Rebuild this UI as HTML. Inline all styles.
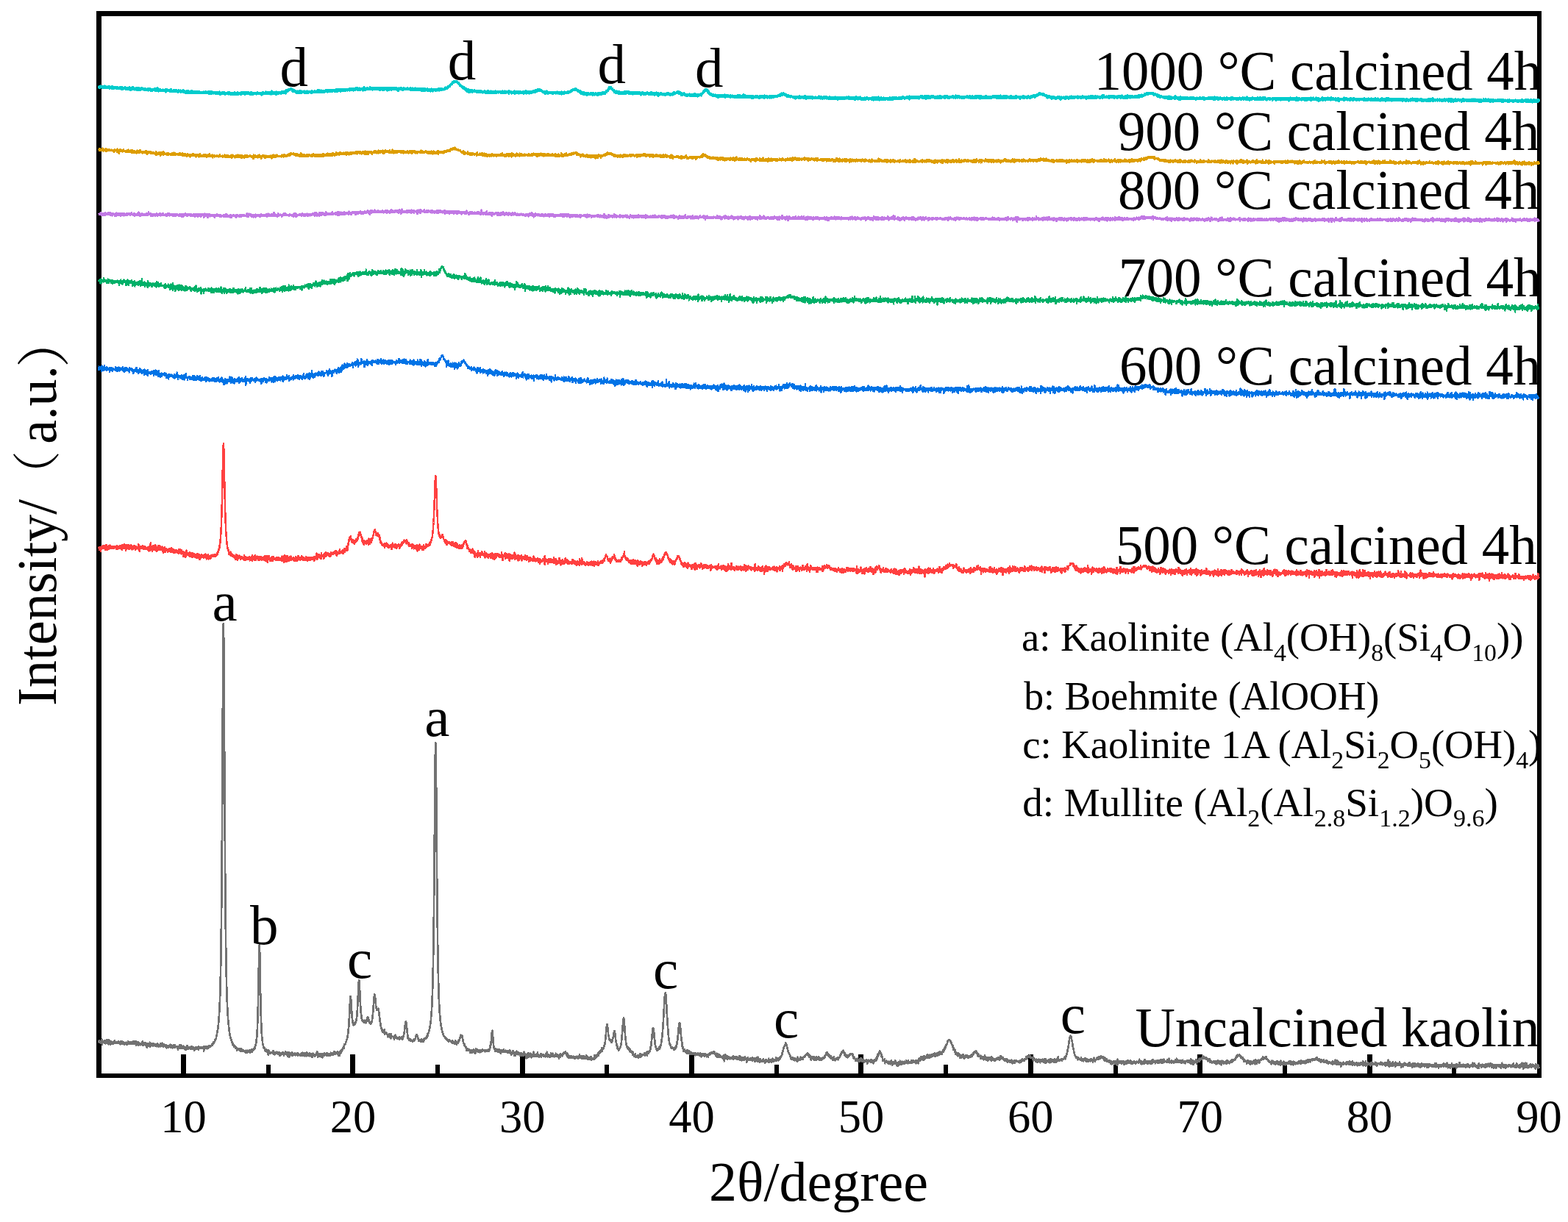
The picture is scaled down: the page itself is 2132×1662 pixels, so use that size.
<!DOCTYPE html>
<html><head><meta charset="utf-8"><title>XRD</title>
<style>
html,body{margin:0;padding:0;background:#fff;}
svg{display:block;}
text{font-family:"Liberation Serif",serif;fill:#000;}
.cjk{font-family:"Liberation Serif","Noto Serif CJK SC",serif;}
</style></head><body>
<svg width="2132" height="1662" viewBox="0 0 2132 1662">
<defs><clipPath id="plot"><rect x="131" y="15" width="1965" height="1451"/></clipPath></defs>
<rect x="0" y="0" width="2132" height="1662" fill="#fff"/>
<!-- frame -->
<g fill="#000" shape-rendering="crispEdges">
<rect x="131" y="15" width="1965" height="7"/>
<rect x="131" y="15" width="7" height="1451"/>
<rect x="2090" y="15" width="6" height="1451"/>
<rect x="131" y="1460" width="1965" height="6"/>
<rect x="246.0" y="1434" width="7" height="26"/>
<rect x="476.4" y="1434" width="7" height="26"/>
<rect x="706.7" y="1434" width="7" height="26"/>
<rect x="937.1" y="1434" width="7" height="26"/>
<rect x="1167.4" y="1434" width="7" height="26"/>
<rect x="1397.8" y="1434" width="7" height="26"/>
<rect x="1628.2" y="1434" width="7" height="26"/>
<rect x="1858.5" y="1434" width="7" height="26"/>
<rect x="361.7" y="1448" width="6" height="12"/>
<rect x="592.0" y="1448" width="6" height="12"/>
<rect x="822.4" y="1448" width="6" height="12"/>
<rect x="1052.8" y="1448" width="6" height="12"/>
<rect x="1283.1" y="1448" width="6" height="12"/>
<rect x="1513.5" y="1448" width="6" height="12"/>
<rect x="1743.8" y="1448" width="6" height="12"/>
<rect x="1974.2" y="1448" width="6" height="12"/>
</g>
<!-- traces -->
<g fill="none" stroke-linejoin="round" stroke-linecap="butt" shape-rendering="crispEdges">
<path transform="translate(134.32 0) scale(0.46072 0.25)" vector-effect="non-scaling-stroke" d="M0 5673l1-13 1 12 1-6 1 2 1-3 1 11 1-12 1 6 1-15 1 28 1-21 1 11 1-9 1 8 1-2 1 5 1-15 1 12 1-10 1 15 1-8 1 5 1-18 1 11 1-1 1 11 1-4 1 8 1-25 1 20 1-13 1 13 1-13 1 19 1-16 1 7 1-6 1 11 1-9 1 4 1-3 1 8 1-8 1 5 1-11 1 9 1-11 1 7 1 3 1 2 1-2 1 4 1-7 1 6 1-5 1 4 1-8 1 9 1-9 1 8 1-4 1 5 1 1 1 5 1-15 1 11 1-12 1 13 1-13 1 15 1-13 1 5 1-2 1 11 1-9 1 10 1-10 1 7 1-6 1 3 1-5 1 13 1-12 1 9 1-8 1 8 1-15 1 13 1-11 1 6 1-4 1 9 1-10 1 9 1-2 1 1 1-7 1 9 1-5 1 3 1-12 1 13 1-7 1 7 1-13 1 11 1-5 1 8 1-1 1 9 1-21 1 17 1-10 1 6 1-6 1 13 1-16 1 10 1-8 1 10 1-4 1 8 1-9 1 2 1-3 1 4 1-4 1 9 1-19 1 15 1-8 1 14 1-8 1 3 1-9 1 8 1-5 1 11 1-12 1 7 1-2 1 18 1-20 1 10 1-10 1 4 1 2 1 8 1-16 1 6 1-11 1 24 1-17 1 11 1-11 1 9 1-7 1 6 1-9 1 15 1-16 1 8 1-2 1 2 1 0 1 5 1-7 1 7 1-4 1 2 1-7 1 14 1-16 1 9 1-3 1 5 1-6 1 11 1-9 1 6 1-5 1 7 1-17 1 12 1-6 1 9 1-16 1 14 1-5 1 10 1-10 1 4 1-6 1 7 1-4 1 8 1-4 1 6 1-8 1 14 1-14 1 7 1-6 1 3 1-1 1 9 1-11 1 7 1-9 1 9 1-13 1 17 1-15 1 11 1-7 1 7 1-5 1 11 1-10 1 3 1-9 1 12 1-8 1 11 1-15 1 13 1-4 1 2 1-3 1 4 1-3 1 11 1-11 1 16 1-17 1 11 1-8 1 4 1-15 1 18 1-14 1 13 1-18 1 18 1-7 1 8 1-10 1 10 1-12 1 11 1-11 1 10 1-4 1 9 1-9 1 15 1-14 1 14 1-17 1 7 1-13 1 16 1-10 1 11 1-6 1 3 1-7 1 6 1-3 1 9 1-11 1 4 1-9 1 16 1-16 1 10 1-4 1 9 1-11 1 12 1-8 1 14 1-12 1 10 1-14 1 9 1-6 1 6 1-11 1 8 1-6 1 10 1-11 1 15 1-19 1 10 1-3 1 2 1-6 1 7 1-1 1 1 1-5 1 6 1-6 1 6 1-4 1 5 1-10 1 23 1-26 1 17 1-11 1 5 1-6 1 3 1-8 1 10 1-6 1 9 1-10 1 3 1-6 1 9 1-14 1 9 1-6 1 3 1 0 1 2 1-6 1 0 1-4 1-1 1-5 1 7 1-10 1 3 1-11 1 7 1-6 1-3 1-8 1 0 1-7 1 0 1-13 1-4 1-12 1-7 1-14 1-11 1-19 1-18 1-27 1-28 1-41 1-48 1-67 1-88 1-121 1-162 1-216 1-273 1-330 1-352 1-291 1-117 1 117 1 292 1 351 1 331 1 274 1 216 1 162 1 122 1 87 1 68 1 49 1 41 1 27 1 26 1 19 1 19 1 12 1 15 1 6 1 16 1 3 1 8 1 2 1 8 1 7 1 3 1 2 1 10 1-2 1 4 1 0 1 9 1-6 1 6 1-1 1 7 1-7 1 8 1-4 1 17 1-12 1 7 1-7 1 7 1-6 1 7 1-5 1 6 1-8 1 13 1-9 1 11 1-16 1 13 1-6 1 6 1-3 1 4 1-4 1 5 1-1 1 3 1-2 1 6 1-5 1 8 1-13 1 7 1-6 1 13 1-15 1 6 1-2 1 6 1-5 1 2 1-8 1 13 1-14 1 12 1-11 1 10 1-14 1 13 1-9 1 0 1-4 1 5 1-6 1 2 1-8 1 4 1-13 1-2 1-9 1-3 1-18 1-11 1-23 1-33 1-51 1-64 1-93 1-105 1-100 1-40 1 40 1 99 1 107 1 93 1 65 1 51 1 31 1 25 1 12 1 16 1 3 1 15 1 0 1 6 1-2 1 12 1-2 1 7 1-10 1 9 1-2 1 8 1-9 1 10 1-8 1 22 1-26 1 12 1-5 1 8 1-5 1 8 1-7 1 5 1-3 1 0 1 1 1 2 1-1 1 5 1-17 1 16 1-7 1 9 1-8 1 11 1-11 1 5 1-2 1 1 1-7 1 9 1-4 1 4 1-7 1 11 1-10 1 8 1-10 1 20 1-14 1 6 1-6 1 7 1-7 1 3 1-7 1 5 1-4 1 9 1-10 1 16 1-14 1 6 1-6 1 8 1-14 1 10 1-1 1 6 1-14 1 12 1-9 1 21 1-21 1 10 1-7 1 22 1-24 1 11 1-7 1 9 1-9 1 7 1-9 1 15 1-18 1 17 1-8 1 2 1-1 1 1 1-6 1 3 1-6 1 14 1-7 1 4 1-7 1 6 1-8 1 11 1-13 1 14 1-9 1 7 1-5 1 4 1-3 1 7 1-7 1 4 1-8 1 12 1-15 1 11 1-13 1 16 1-7 1 2 1 0 1 1 1-11 1 17 1-14 1 8 1-4 1 10 1-20 1 18 1-16 1 12 1-1 1 6 1-8 1 9 1-14 1 14 1-14 1 7 1-2 1 4 1-7 1 16 1-13 1 15 1-20 1 7 1-7 1 12 1-5 1-1 1 4 1 6 1-11 1 4 1-3 1 3 1-13 1 14 1-19 1 28 1-13 1 4 1-7 1 12 1-12 1 11 1-13 1 13 1-11 1 16 1-16 1 8 1-4 1 15 1-19 1 5 1-4 1 5 1-11 1 13 1-10 1 4 1 2 1-1 1 0 1 5 1-14 1 15 1-10 1 5 1-4 1 8 1-9 1 5 1-2 1 8 1-8 1 2 1-11 1 11 1-10 1 5 1-1 1 8 1-10 1 9 1-6 1-1 1-12 1 15 1-8 1 8 1-10 1 6 1-6 1 6 1-6 1 4 1-9 1 16 1-5 1 12 1-13 1 13 1-18 1 9 1-17 1 12 1-4 1 0 1-15 1 7 1-11 1 2 1-7 1-1 1-9 1 11 1-22 1 5 1-5 1-2 1-11 1 2 1-9 1-3 1-9 1-3 1-17 1-7 1-24 1-16 1-34 1-36 1-40 1-31 1-20 1 12 1 24 1 34 1 27 1 26 1 12 1 14 1 2 1 6 1-4 1 1 1-11 1 9 1-11 1 4 1-7 1-5 1-17 1-10 1-28 1-31 1-43 1-41 1-37 1-14 1 13 1 36 1 40 1 41 1 29 1 25 1 7 1 20 1 4 1 6 1 2 1 0 1-2 1 7 1-3 1 7 1-13 1 12 1-4 1 6 1-8 1 0 1-13 1 1 1-12 1-1 1 3 1 7 1 5 1 17 1-3 1 6 1-6 1 8 1-1 1 1 1-8 1-4 1-13 1-11 1-21 1-21 1-28 1-24 1-21 1-8 1 5 1 18 1 18 1 24 1 9 1 11 1-1 1 0 1-6 1 3 1-4 1 8 1 12 1 17 1 13 1 18 1 8 1 20 1 3 1 9 1-3 1 16 1-4 1 12 1-6 1 4 1-3 1 10 1-20 1 25 1-3 1 1 1-7 1 8 1-4 1 7 1 0 1 2 1 0 1 11 1-14 1 5 1-4 1 10 1-14 1 19 1-9 1 15 1-26 1 18 1-6 1 5 1-1 1 2 1-1 1 9 1-11 1 16 1-14 1 7 1-16 1 14 1-8 1 11 1-6 1 3 1 1 1 6 1-6 1 4 1-5 1 8 1-12 1 12 1-7 1 5 1-5 1 5 1-4 1 5 1-12 1 16 1-11 1 2 1-11 1-4 1-11 1-11 1-18 1-15 1-17 1-3 1 2 1 24 1 8 1 24 1 7 1 25 1-4 1 9 1-2 1 8 1-7 1 6 1-3 1 8 1-5 1 4 1-1 1 3 1-3 1 6 1-4 1-1 1-5 1 7 1-11 1 8 1-9 1 2 1-12 1-3 1-8 1 8 1-8 1 9 1 3 1 8 1-3 1 17 1-4 1 2 1-5 1 3 1-3 1 10 1-7 1 2 1-8 1 14 1-12 1 12 1-10 1 8 1-12 1 8 1-13 1 5 1-3 1 0 1-4 1 0 1-7 1 7 1-15 1 6 1-14 1 1 1-7 1-3 1-11 1-4 1-12 1-8 1-15 1-12 1-27 1-18 1-32 1-36 1-54 1-67 1-92 1-119 1-156 1-193 1-225 1-232 1-188 1-74 1 74 1 188 1 232 1 225 1 193 1 155 1 119 1 92 1 66 1 56 1 37 1 32 1 20 1 21 1 14 1 16 1 7 1 13 1 5 1 10 1 1 1 11 1-2 1 10 1 1 1 3 1 0 1 7 1-4 1 9 1-5 1 8 1-1 1 3 1 1 1 4 1-4 1 11 1-9 1 5 1-5 1 5 1 0 1 2 1-1 1 2 1-3 1 9 1-11 1 9 1-5 1 9 1-5 1 3 1-2 1 7 1-5 1 6 1-17 1 15 1-10 1 16 1-8 1 1 1-6 1 4 1-12 1 8 1-11 1 0 1-11 1-1 1-7 1-3 1-6 1 2 1-1 1 10 1-6 1 18 1 4 1 13 1 3 1 9 1-4 1 13 1-1 1 5 1-2 1 9 1-2 1 15 1-11 1 5 1-6 1 9 1 0 1 1 1-4 1 3 1-2 1 15 1-8 1 1 1 1 1 8 1-15 1 9 1-2 1 5 1-13 1 8 1-10 1 14 1-4 1 12 1-15 1 11 1-22 1 13 1-7 1 5 1-9 1 11 1-3 1 7 1-11 1 6 1-3 1 10 1-13 1 11 1-9 1 8 1-10 1 6 1-7 1 8 1-8 1 6 1-5 1 4 1-3 1 6 1-5 1 8 1-5 1 2 1-7 1 7 1-5 1 6 1-8 1 8 1-9 1 6 1-8 1 9 1-7 1-3 1-20 1 10 1-17 1-16 1-25 1-22 1-11 1 14 1 19 1 23 1 19 1 20 1-5 1 11 1-1 1 11 1-13 1 10 1-1 1 5 1-10 1 11 1-6 1 9 1-12 1 7 1-3 1 7 1-12 1 16 1-14 1 18 1-16 1 8 1-7 1 7 1-9 1 9 1-5 1 6 1-13 1 12 1-7 1 9 1-6 1 5 1-8 1 8 1-7 1 6 1-1 1 5 1-10 1 9 1-3 1 5 1-8 1 8 1-13 1 14 1-9 1 13 1-8 1 14 1-10 1 1 1-10 1 11 1-12 1 10 1-4 1 20 1-20 1 6 1 0 1 12 1-13 1 1 1-11 1 16 1-9 1 8 1-3 1 6 1-13 1 10 1-5 1 8 1-5 1 12 1-15 1 12 1-12 1 13 1-8 1 10 1-8 1 3 1-1 1 5 1-21 1 18 1-8 1 7 1-4 1 6 1-1 1 17 1-22 1 19 1-16 1 3 1-13 1 22 1-14 1 14 1-19 1 15 1-6 1 0 1-9 1 22 1-13 1 11 1-15 1 13 1-12 1 6 1-20 1 24 1-14 1 14 1-8 1 7 1-6 1 2 1-4 1 8 1-7 1 6 1-20 1 21 1-8 1 5 1-4 1 11 1-9 1 5 1-5 1 1 1-9 1 17 1-16 1 10 1-3 1 2 1-7 1 10 1-9 1 10 1-6 1 4 1-3 1 8 1-17 1 14 1-11 1 10 1-23 1 26 1-4 1-2 1-7 1 7 1-4 1 14 1-12 1 12 1-11 1 7 1-19 1 15 1-13 1 13 1-14 1 17 1-11 1 8 1-5 1 10 1-8 1 1 1 1 1 2 1-15 1 17 1-10 1 10 1-11 1 11 1-7 1 10 1-7 1 14 1-17 1 5 1-8 1 13 1-18 1 8 1-1 1 1 1-5 1 9 1-13 1 5 1-7 1 3 1-6 1 3 1-6 1 5 1-7 1 11 1-3 1 6 1-2 1 12 1-16 1 12 1 1 1 13 1-13 1 12 1-10 1 10 1-7 1 4 1-7 1 8 1-8 1 8 1-4 1 5 1-5 1 4 1-6 1 10 1-8 1 2 1-3 1 11 1-10 1 3 1-1 1 3 1-7 1 7 1-4 1 9 1-10 1 7 1-11 1 9 1-17 1 17 1-4 1 6 1-10 1 10 1-11 1 14 1-15 1 12 1-8 1 13 1-16 1 16 1-11 1 11 1-12 1 9 1 0 1-2 1-16 1 17 1-11 1 13 1-9 1 14 1-11 1 6 1-7 1 9 1-6 1 6 1-11 1 14 1-14 1 17 1-5 1-5 1 0 1 7 1-6 1 3 1-4 1 7 1-24 1 18 1-12 1 9 1-7 1 2 1-7 1-2 1-5 1 9 1-10 1 8 1-18 1 9 1-14 1 10 1-8 1 2 1-10 1 8 1-10 1 6 1-17 1 18 1-12 1 1 1-7 1 1 1-8 1-4 1-12 1 0 1-19 1-16 1-22 1-21 1-20 1-7 1 2 1 18 1 16 1 23 1 4 1 15 1 4 1 3 1 1 1 3 1-4 1 11 1-12 1 15 1-17 1 8 1-14 1 0 1-21 1-4 1-16 1 0 1 6 1 16 1 15 1 18 1 7 1 11 1 9 1 13 1-9 1 9 1 0 1 13 1-12 1 4 1-6 1 0 1-6 1 1 1-14 1-7 1-18 1-16 1-29 1-22 1-25 1-19 1-9 1 10 1 16 1 29 1 23 1 24 1 16 1 18 1 10 1 10 1-4 1 12 1 1 1 3 1-7 1 13 1-10 1 8 1-3 1 16 1-6 1 4 1-1 1 5 1-6 1 11 1-3 1 13 1-17 1 17 1-5 1 11 1-6 1 5 1-11 1 19 1-11 1 5 1-2 1 5 1-5 1 2 1-5 1 11 1-11 1 11 1-14 1 6 1-12 1 14 1-10 1 13 1-15 1 5 1-2 1 3 1-5 1 3 1-2 1 1 1-1 1 2 1-11 1 17 1-14 1 3 1-7 1 11 1-8 1 12 1-21 1 12 1-10 1 8 1-7 1-1 1-5 1 2 1-7 1-5 1-16 1 0 1-23 1-16 1-22 1-19 1-17 1-3 1 2 1 16 1 18 1 21 1 15 1 20 1 6 1 7 1 5 1 8 1-4 1 9 1-7 1 5 1-9 1 5 1-4 1 3 1-13 1 8 1-10 1-1 1-8 1-10 1-14 1-9 1-22 1-16 1-28 1-26 1-37 1-32 1-34 1-29 1-20 1-6 1 6 1 20 1 27 1 34 1 33 1 33 1 26 1 27 1 20 1 21 1 11 1 14 1 5 1 10 1-3 1 8 1 2 1 9 1-8 1 8 1-4 1 4 1-4 1 3 1-3 1 12 1-12 1 5 1-6 1 6 1-14 1 5 1-8 1-5 1-16 1-9 1-23 1-10 1-26 1-17 1-15 1-3 1 3 1 17 1 16 1 26 1 18 1 19 1 8 1 21 1 2 1 11 1-3 1 17 1-8 1 7 1-10 1 12 1-1 1 5 1-6 1 11 1-4 1 0 1-12 1 19 1-15 1 13 1-7 1 7 1-12 1 18 1-12 1 9 1-9 1 12 1-9 1 7 1-6 1 3 1 1 1 3 1-6 1 6 1-3 1 2 1 0 1 7 1-13 1 8 1-4 1 6 1-1 1 1 1-6 1 8 1-10 1 7 1-5 1 10 1-6 1 4 1-11 1 14 1-9 1 15 1-13 1 3 1-5 1 10 1-11 1 8 1-6 1 10 1-11 1 13 1-15 1 8 1-5 1 6 1-4 1 12 1-13 1 4 1-3 1 13 1-15 1 4 1-2 1 2 1-9 1 7 1-5 1 3 1-8 1 3 1-5 1 4 1-5 1 8 1-11 1 6 1 1 1 3 1-9 1 15 1-8 1 12 1-3 1 6 1-13 1 19 1-19 1 19 1-16 1 18 1-7 1 1 1-8 1 12 1-10 1 10 1-5 1 6 1-4 1 3 1-2 1 5 1-7 1 14 1-11 1 11 1-18 1 31 1-29 1 11 1-18 1 20 1-17 1 20 1-17 1 11 1-8 1 16 1-12 1 4 1-3 1 6 1-6 1 10 1-6 1-2 1 2 1 1 1-3 1 6 1-7 1 4 1-8 1 14 1-18 1 15 1-9 1 3 1 3 1 1 1-9 1 8 1-3 1 8 1-13 1 12 1-3 1 7 1-9 1 8 1-13 1 14 1-19 1 23 1-11 1 6 1-14 1 14 1-6 1 12 1-13 1 10 1-14 1 11 1-11 1 15 1-16 1 10 1-11 1 12 1-5 1 6 1 0 1 15 1-17 1 4 1-11 1 9 1 2 1 2 1-5 1 4 1-7 1 8 1-9 1 7 1 0 1 2 1-11 1 13 1-15 1 16 1-12 1 7 1-3 1 5 1-10 1 17 1-14 1 15 1-5 1-2 1-13 1 18 1-11 1 14 1-25 1 26 1-10 1 6 1-12 1 17 1-17 1 11 1-9 1 13 1-8 1 6 1-4 1 3 1-9 1 12 1-16 1 15 1-3 1 0 1-1 1 13 1-18 1 14 1-8 1 5 1-11 1 9 1-7 1 3 1 0 1 5 1-17 1 21 1-14 1 11 1-9 1 5 1-7 1 5 1 0 1 7 1-9 1 4 1-14 1 13 1-5 1 10 1-11 1 3 1-2 1 2 1-5 1 6 1-16 1 17 1-10 1 8 1-12 1 8 1-2 1 6 1-12 1 7 1-6 1 3 1-11 1 3 1-6 1-1 1-4 1-2 1-13 1 0 1-12 1 0 1-14 1-1 1-8 1-2 1-7 1-2 1-7 1 8 1-2 1 8 1 4 1 12 1 1 1 13 1-1 1 12 1-2 1 10 1 0 1 10 1-2 1 14 1-9 1 13 1-7 1 3 1-5 1 8 1-7 1 13 1-11 1 3 1-2 1 11 1-10 1 7 1-3 1 2 1-5 1 11 1-15 1 18 1-23 1 13 1-3 1 6 1-6 1 3 1-4 1 7 1-16 1 13 1-4 1 3 1-10 1 10 1-7 1 8 1-10 1 0 1-3 1 1 1-7 1 2 1-6 1 2 1-7 1 1 1-5 1 8 1-11 1 7 1 3 1 1 1-5 1 17 1-5 1 5 1-9 1 14 1-10 1 19 1-13 1 6 1-1 1 1 1-9 1 12 1-2 1 5 1-15 1 18 1-17 1 14 1-12 1 13 1-17 1 18 1-9 1 7 1-8 1 5 1-11 1 11 1-13 1 17 1-12 1 10 1-5 1 8 1-10 1 11 1-11 1 9 1-8 1 4 1-8 1 1 1-1 1 3 1-7 1 6 1-13 1 2 1-4 1-2 1-10 1 9 1-14 1 13 1-7 1 13 1-7 1 9 1-6 1 8 1-5 1 9 1-2 1 6 1-10 1 14 1-5 1 7 1-4 1 10 1-8 1 4 1-14 1 17 1-8 1 9 1-5 1 7 1-10 1-1 1 3 1-1 1-5 1 4 1-6 1 12 1-8 1-1 1-3 1 0 1-7 1 0 1-10 1 1 1-6 1-2 1-5 1 0 1-5 1 2 1-6 1 11 1-1 1 9 1-7 1 16 1-9 1 10 1-3 1 8 1-7 1 10 1-5 1 6 1-13 1 10 1-5 1 0 1-6 1 1 1-7 1 4 1-4 1 1 1-2 1 4 1-3 1 8 1-4 1 12 1-2 1 13 1-8 1 4 1 2 1 5 1-3 1 12 1-11 1 8 1-3 1 1 1-8 1 14 1-9 1 9 1-8 1 7 1-3 1 5 1-14 1 11 1-15 1 17 1-15 1 15 1-4 1 6 1-10 1 8 1-7 1 13 1-12 1 11 1-6 1 0 1-2 1 5 1-10 1 11 1-7 1 17 1-17 1 8 1-10 1 10 1-8 1 5 1-5 1 2 1-4 1 11 1-7 1 1 1-7 1 14 1-8 1 4 1-6 1 16 1-14 1 3 1-8 1 8 1-7 1 3 1-2 1 2 1-16 1 11 1-17 1 9 1-21 1 13 1-17 1-1 1-8 1-1 1-4 1 3 1 3 1 9 1-3 1 18 1 0 1 5 1-2 1 21 1-7 1 5 1-1 1 4 1-12 1 24 1-11 1 1 1 0 1 2 1-7 1 8 1 1 1 3 1-6 1 11 1-12 1 5 1-3 1 7 1-9 1 14 1-14 1 9 1-14 1 13 1-5 1 17 1-14 1 6 1-10 1 8 1-8 1 12 1-9 1 3 1-13 1 19 1-9 1 5 1-3 1 16 1-13 1 5 1-10 1 17 1-21 1 14 1-14 1 9 1-14 1 21 1-13 1 5 1-8 1 14 1-15 1 9 1-5 1 3 1-1 1 4 1-10 1 11 1-5 1 2 1-7 1 8 1-15 1 11 1-1 1 2 1-10 1 14 1-18 1 14 1-5 1 8 1-5 1 1 1-4 1 4 1 1 1 3 1-16 1 17 1-12 1 7 1-11 1 9 1-7 1 9 1-3 1 3 1-5 1 3 1-10 1 17 1-10 1 0 1-4 1 1 1-2 1 15 1-15 1 4 1-17 1 12 1-6 1 9 1-15 1 10 1-18 1 15 1-7 1 6 1-13 1 17 1-7 1 6 1-21 1 20 1-19 1 8 1-1 1 4 1-8 1 3 1-5 1 3 1-13 1 18 1-5 1 5 1-15 1 15 1-16 1 17 1-12 1 1 1-3 1 9 1-14 1 12 1-13 1 12 1-13 1 5 1-5 1 6 1-8 1 6 1-9 1 16 1-13 1 13 1-13 1 3 1-5 1 13 1-13 1 8 1-5 1 7 1-15 1 12 1-5 1 1 1-14 1 11 1-7 1 11 1-12 1 12 1-15 1 6 1-11 1 8 1-9 1 3 1-12 1 5 1-13 1 4 1-10 1 0 1-6 1-3 1-4 1-2 1-10 1 0 1-4 1-1 1-4 1 3 1-3 1 6 1-2 1 9 1-2 1 9 1 2 1 5 1 3 1 9 1-6 1 20 1-8 1 7 1 4 1 5 1-7 1 23 1-11 1 6 1-1 1 9 1-5 1 6 1-8 1 15 1-15 1 13 1-11 1 13 1-5 1 15 1-15 1 6 1-4 1 12 1-9 1 1 1-6 1 9 1-13 1 19 1-11 1 16 1-16 1 10 1-10 1 6 1-10 1 10 1-10 1 11 1-8 1 8 1-4 1 8 1-8 1 7 1-7 1 2 1-4 1 7 1-12 1 9 1-8 1 4 1-8 1 9 1-12 1 3 1-10 1 8 1-9 1 2 1-6 1 6 1-6 1 1 1-5 1 8 1 0 1 7 1-5 1 16 1-12 1 15 1-9 1 8 1-1 1 4 1 0 1 10 1-16 1 11 1-5 1 8 1-3 1 5 1-4 1 8 1-15 1 17 1-9 1 8 1-23 1 20 1-6 1 10 1-14 1 15 1-8 1 9 1-10 1 13 1-18 1 17 1-15 1 8 1-5 1 4 1-3 1 9 1-16 1 21 1-21 1 17 1-10 1 5 1-5 1 8 1-6 1 10 1-9 1 2 1-3 1 11 1-9 1 5 1-10 1 5 1-5 1 6 1-8 1 6 1-3 1 3 1-7 1 12 1-14 1 2 1-9 1 16 1-15 1 10 1-2 1 6 1-4 1 5 1-8 1 8 1-2 1 7 1-3 1 8 1-8 1 7 1-7 1 8 1-10 1 14 1-13 1 17 1-7 1 2 1-4 1 0 1 0 1 8 1-8 1 7 1-9 1 10 1-10 1 6 1-7 1 18 1-11 1 10 1-11 1 2 1-5 1 12 1-8 1 7 1-10 1 6 1-7 1 6 1-6 1 5 1-3 1 4 1-3 1 5 1-6 1 8 1-9 1 11 1-11 1 4 1-4 1 8 1-9 1 1 1-11 1 11 1-3 1 3 1-6 1 3 1-3 1 7 1-12 1 4 1-5 1 3 1-14 1 9 1-3 1 5 1-13 1 4 1-3 1 2 1-5 1 7 1-9 1 10 1-9 1 12 1-4 1 1 1 2 1 3 1-2 1 4 1-4 1 18 1-18 1 11 1-6 1 6 1-5 1 7 1-1 1 9 1-13 1 15 1-10 1 12 1-14 1 6 1-6 1 6 1-9 1 12 1-4 1 10 1-17 1 9 1-5 1 8 1-6 1 5 1-12 1 13 1-2 1 6 1-14 1 7 1-11 1 19 1-15 1 7 1-12 1 21 1-7 1-1 1-4 1 5 1-6 1 3 1-7 1 14 1-6 1 8 1-13 1 6 1-14 1 21 1-17 1 9 1-3 1 4 1-7 1 7 1-8 1 12 1-8 1 7 1-16 1 14 1-4 1 7 1-12 1 13 1-14 1 10 1-17 1 13 1-22 1 22 1-4 1 4 1-3 1 1 1-5 1 5 1-4 1 1 1-4 1 8 1-10 1 5 1-3 1 1 1-3 1 2 1-5 1 2 1-10 1 12 1-15 1 3 1-8 1 0 1-9 1-6 1-13 1-3 1-16 1-7 1-14 1-11 1-13 1-6 1-8 1 0 1 2 1 8 1 7 1 11 1 8 1 15 1 8 1 13 1 2 1 17 1 2 1 9 1 5 1 4 1 2 1 8 1-1 1 1 1-5 1 7 1-5 1 12 1-12 1 7 1-3 1 5 1-1 1 2 1-2 1 7 1-15 1 14 1-8 1 11 1-10 1 5 1-3 1 11 1-10 1 1 1-3 1 5 1-10 1 10 1-7 1 16 1-8 1 9 1-15 1 4 1-1 1 11 1-9 1 5 1-4 1 1 1-2 1 7 1-10 1 9 1-9 1 8 1-8 1 4 1-1 1 14 1-14 1 5 1-16 1 12 1-1 1 8 1-10 1 5 1-5 1 0 1-9 1 7 1-7 1 8 1-8 1 9 1-15 1 9 1-10 1 5 1-3 1 10 1-15 1 11 1-6 1 6 1-4 1 2 1-1 1 4 1-7 1 15 1-10 1 6 1-7 1 18 1-12 1 8 1-7 1 10 1-11 1 14 1-5 1 3 1-3 1 5 1-1 1 5 1-10 1 8 1-5 1 15 1-14 1 5 1-2 1 14 1-13 1 10 1-9 1 3 1-6 1 8 1-7 1 8 1-6 1 11 1-14 1 15 1-10 1-1 1-5 1 21 1-31 1 25 1-8 1 1 1-2 1 2 1-7 1 6 1-8 1 6 1-5 1 15 1-11 1 8 1-11 1 9 1-9 1 5 1-4 1 16 1-15 1 11 1-11 1 7 1-11 1 15 1-7 1 7 1-14 1 12 1-17 1 17 1-8 1 5 1-4 1 4 1-8 1 8 1-14 1 18 1-9 1-1 1 1 1 6 1-4 1 8 1-10 1 7 1-10 1 6 1 0 1 0 1-2 1 9 1-11 1 8 1-9 1 6 1-3 1 2 1-3 1 5 1-8 1 6 1-17 1 15 1-3 1 7 1-5 1 10 1-13 1 15 1-13 1 2 1-2 1 11 1-12 1 6 1-8 1 13 1-22 1 14 1-7 1 11 1-10 1 7 1-7 1 14 1-9 1 10 1-14 1 9 1-6 1 7 1-11 1 9 1-3 1 8 1-11 1 11 1-17 1 17 1-19 1 15 1-16 1 12 1-5 1 6 1-7 1 5 1-6 1 14 1-10 1 2 1-2 1 3 1-9 1 11 1-3 1 7 1-17 1 14 1-10 1 10 1-9 1 8 1-14 1 15 1-17 1 10 1-1 1 9 1-18 1 21 1-13 1 7 1-16 1 16 1-4 1 1 1-4 1 3 1-2 1 3 1-3 1 6 1-15 1 12 1-5 1 6 1-5 1 8 1-21 1 22 1-8 1 4 1-2 1 4 1-7 1 13 1-16 1 7 1-3 1 2 1-3 1 11 1-11 1 8 1-5 1-2 1-7 1 10 1-7 1 11 1-21 1 15 1-7 1 8 1-8 1 12 1-7 1 7 1-9 1 5 1-4 1 6 1-6 1 11 1-12 1 14 1-15 1 9 1-11 1 12 1-7 1 8 1-8 1 12 1-10 1 11 1-13 1 6 1-2 1 0 1 0 1-1 1-7 1 12 1-7 1 5 1-3 1 4 1-9 1 14 1-16 1 19 1-27 1 18 1 0 1 2 1-6 1 13 1-19 1 23 1-14 1 5 1-10 1 9 1-6 1 4 1-4 1 3 1-13 1 23 1-16 1 8 1-8 1 3 1-6 1 0 1-10 1 15 1-9 1 4 1-5 1 0 1-8 1 8 1-5 1 0 1-8 1 7 1-8 1 9 1-12 1 6 1-2 1 7 1-6 1 6 1-4 1 10 1-9 1 5 1-2 1 7 1-3 1 11 1-13 1 11 1-8 1 10 1-11 1 17 1-11 1 7 1-3 1 8 1-5 1 7 1-6 1 4 1-5 1 3 1-3 1 6 1-7 1 9 1-7 1 10 1-14 1 17 1-12 1 11 1-16 1 13 1-15 1 13 1-4 1 4 1-10 1 13 1-14 1 12 1-11 1 20 1-17 1 8 1-13 1 10 1-7 1 10 1-10 1 12 1-8 1 5 1-7 1 8 1-8 1 7 1-11 1 15 1-19 1 12 1-2 1 4 1-11 1 11 1-5 1 8 1-8 1 7 1-7 1 3 1-10 1 11 1-8 1 0 1-9 1 13 1-10 1 4 1-5 1 1 1-4 1 5 1-9 1 4 1-12 1 4 1-8 1 4 1-4 1 2 1-10 1 6 1-4 1 2 1-5 1 4 1-4 1 9 1-2 1 8 1-7 1 6 1-3 1 8 1-4 1 9 1-7 1 12 1-6 1 14 1-11 1 7 1-4 1 6 1-2 1 5 1 0 1 10 1-17 1 14 1-13 1 11 1-10 1 11 1-2 1 1 1-8 1 18 1-13 1 9 1-13 1 13 1-9 1 10 1-9 1 4 1-4 1 5 1-16 1 15 1-2 1 8 1-23 1 16 1-9 1 6 1-3 1 13 1-20 1 9 1-5 1 1 1-7 1 15 1-9 1 8 1-11 1-2 1-5 1 4 1-8 1 6 1-4 1 2 1-13 1 9 1-6 1 8 1-6 1 5 1-6 1 5 1-2 1 0 1-8 1 14 1 0 1 0 1-2 1 7 1 1 1 4 1-5 1 8 1-4 1 8 1-4 1 4 1-4 1 13 1-18 1 9 1-2 1 5 1-12 1 13 1-4 1 6 1-5 1 1 1-6 1 17 1-17 1 10 1-6 1 7 1-15 1 14 1-12 1 12 1-7 1 12 1-9 1 8 1-12 1 9 1-3 1 12 1-25 1 13 1-2 1 7 1-7 1 3 1-1 1 7 1-16 1 12 1-4 1 4 1-5 1 11 1-7 1 4 1-9 1 8 1-8 1 6 1-4 1 2 1-6 1 8 1-15 1 15 1-10 1 9 1-13 1 17 1-12 1 9 1-10 1 15 1-9 1 8 1-16 1 18 1-15 1 9 1-9 1 8 1-4 1 8 1-10 1 8 1-5 1 3 1-1 1-1 1-6 1 8 1-11 1 9 1-10 1 10 1-10 1 13 1-16 1 13 1-13 1 14 1-4 1-2 1-3 1 8 1-12 1 4 1-4 1 7 1-7 1 13 1-13 1 10 1-13 1 13 1-13 1 5 1-5 1 8 1-13 1 15 1-13 1 10 1-7 1 3 1-6 1 11 1-10 1 2 1-2 1 0 1-7 1 9 1-6 1 5 1-3 1 2 1-7 1 7 1-4 1 2 1-7 1 6 1-1 1 2 1-13 1 17 1-9 1 6 1-3 1 8 1-10 1 7 1-7 1 15 1-10 1 12 1-12 1 10 1-11 1 9 1-6 1 7 1-6 1 5 1-8 1 13 1-8 1 9 1-7 1 1 1-3 1 8 1-6 1 8 1-11 1 12 1-8 1 12 1-10 1 4 1 2 1-2 1-3 1 5 1 0 1 3 1-5 1 4 1-4 1 6 1-14 1 18 1-10 1 6 1-10 1 9 1-5 1 4 1-17 1 16 1-5 1 12 1-13 1 15 1-23 1 23 1-13 1 13 1-8 1 3 1-8 1 11 1-4 1 7 1-13 1 23 1-20 1 9 1-8 1 3 1-3 1 7 1-12 1 14 1-9 1 3 1-1 1 0 1-3 1 8 1-9 1 9 1-13 1 11 1-12 1 10 1-6 1 7 1-5 1 9 1-18 1 15 1-7 1 9 1-7 1 3 1-10 1 16 1-19 1 21 1-14 1 4 1 1 1 4 1-8 1 12 1-8 1 2 1-2 1 6 1-10 1 8 1-8 1 15 1-9 1 4 1-6 1 1 1-4 1 12 1-7 1 6 1-12 1 5 1-2 1 6 1-9 1 5 1-4 1 8 1-17 1 23 1-17 1 11 1-9 1 8 1-6 1 11 1-21 1 25 1-12 1 0 1-1 1 7 1-10 1 6 1-6 1 6 1-5 1 5 1-4 1 8 1-7 1 11 1-17 1 12 1-13 1 10 1-2 1 2 1-3 1 5 1-4 1 3 1-5 1 7 1-13 1 14 1-8 1 6 1-8 1 15 1-13 1 6 1-7 1 4 1-3 1 2 1-3 1 5 1-6 1 8 1-12 1 11 1-4 1 4 1-7 1 10 1-7 1 6 1-6 1 2 1-2 1 7 1-11 1 7 1-7 1 18 1-19 1 8 1-6 1 11 1-6 1 1 1-22 1 28 1-12 1 20 1-20 1 4 1-9 1 22 1-13 1 12 1-12 1 9 1-13 1 17 1-23 1 20 1-11 1 10 1-11 1 11 1-14 1 21 1-24 1 21 1-12 1 4 1-5 1 7 1-7 1 4 1-2 1 6 1-11 1 8 1-15 1 18 1-8 1 8 1-8 1 20 1-19 1 9 1-6 1 5 1-6 1 12 1-13 1 4 1-10 1 13 1-2 1 1 1-9 1 8 1-3 1 0 1-2 1 6 1-8 1 13 1-13 1 8 1-15 1 20 1-19 1 13 1-6 1 9 1-8 1 5 1-4 1 18 1-21 1 13 1-6 1 9 1-17 1 11 1-9 1 14 1-17 1 12 1-6 1 4 1-6 1 12 1-10 1 8 1-13 1 15 1-7 1 7 1-10 1 4 1-4 1 15 1-17 1 12 1-8 1 10 1-17 1 11 1-9 1 12 1-10 1 7 1-4 1 10 1-13 1 9 1-11 1 10 1-1 1-1 1-5 1 15 1-16 1 14 1-12 1 16 1-15 1 4 1-9 1 12 1-10 1 9 1-4 1 1 1-2 1 8 1-9 1 10 1-9 1 5 1-7 1 10 1-8 1 10 1-18 1 12 1-5 1 12 1-20 1 13 1-7 1 9 1-7 1 8 1-4 1 14 1-14 1 8 1-13 1 11 1-8 1 9 1-12 1 8 1-6 1 8 1-9 1 3 1-3 1 5 1-14 1 18 1-7 1 4 1-9 1 6 1-6 1 14 1-9 1 5 1-17 1 19 1-5 1 12 1-16 1 5 1-2 1 8 1-11 1 17 1-17 1 8 1-10 1 11 1-17 1 19 1-7 1 8 1-10 1 4 1-7 1 12 1-9 1 3 1-3 1 7 1-11 1 19 1-13 1 10 1-17 1 9 1-4 1 3 1 0 1 6 1-23 1 18 1-18 1 22 1-6 1 1 1-4 1 7 1-5 1 4 1-7 1 9 1-11 1 11 1-7 1 5 1-6 1 9 1-11 1 13 1-13 1 13 1-8 1 3 1-10 1 10 1-9 1 12 1-12 1 9 1-4 1 11 1-11 1 6 1-9 1 6 1-1 1 3 1-6 1 4 1-17 1 21 1-14 1 9 1-14 1 15 1-9 1 14 1-9 1 4 1-3 1 10 1-10 1 14 1-13 1 9 1-7 1 13 1-28 1 18 1-4 1 1 1-7 1 5 1 0 1 11 1-16 1 7 1-8 1 10 1-8 1 9 1-9 1 9 1-8 1 5 1-8 1 16 1-17 1 16 1-13 1 7 1-9 1 12 1-14 1 8 1-10 1 13 1-7 1 12 1-10 1 6 1-17 1 17 1-10 1 15 1-9 1 4 1-11 1 18 1-14 1 16 1-16 1 0 1 3 1 10 1-13 1 9 1-8 1 15 1-16 1 5 1-6 1 6 1-3 1 5 1-5 1 4 1-7 1 9 1-10 1 13 1-11 1 16 1-12 1 5 1-20 1 17 1-9 1 14 1-11 1 14 1-12 1 3 1-5 1 8 1-8 1 17 1-16 1 10 1-10 1 10 1-9 1 3 1-4 1 8 1-9 1 5 1-6 1 7 1-7 1 9 1-2 1 6 1-10 1 2 1-3 1 7 1-3 1 1 1-15 1 19 1-6 1 4 1-5 1 9 1-12 1 11 1-14 1 16 1-21 1 11 1-1 1 8 1-8 1 9 1-10 1 10 1-13 1 17 1-14 1 5 1-12 1 15 1-6 1 1 1-15 1 20 1-7 1 20 1-30 1 14 1-5 1 5 1-6 1 12 1-23 1 20 1-19 1 23 1-6 1 1 1-3 1 10 1-12 1 11 1-6 1 0 1-4 1 3 1-11 1 10 1-7 1 14 1-9 1-2 1-5 1 10 1-9 1 11 1-5 1 0 1-1 1 3 1-4 1 18 1-24 1 7 1-2 1 11 1-11 1 13 1-16 1 3 1 2 1 17" stroke="#727272" stroke-width="2.7"/>
<path transform="translate(134.32 0) scale(0.46072 0.25)" vector-effect="non-scaling-stroke" d="M0 2985l1-8 1 14 1-11 1 3 1-4 1 21 1-26 1 15 1-9 1 4 1-13 1 12 1-7 1 5 1-11 1 14 1-14 1 9 1 0 1 13 1-27 1 16 1-15 1 21 1-9 1 13 1-15 1 8 1-15 1 19 1-10 1 7 1-18 1 13 1-10 1 15 1-10 1 8 1-12 1 9 1-7 1 10 1-10 1 9 1-7 1 7 1-11 1 7 1-2 1 0 1-2 1 12 1-18 1 15 1-13 1 19 1-17 1 10 1-7 1 5 1-9 1 14 1-16 1 13 1-15 1 11 1 2 1 12 1-27 1 16 1-10 1 13 1-21 1 22 1-25 1 18 1 0 1 2 1-16 1 30 1-20 1 7 1-10 1 14 1-21 1 21 1-10 1 11 1-22 1 16 1-5 1 11 1-17 1 12 1-17 1 13 1-9 1 22 1-16 1 4 1-7 1 17 1-21 1 11 1-9 1 14 1-10 1 17 1-18 1 17 1-15 1 5 1 1 1 2 1-5 1 2 1-19 1 29 1-19 1 29 1-25 1 8 1-6 1 6 1-10 1 8 1-1 1 5 1-17 1 13 1-5 1 13 1-14 1 11 1-11 1 13 1-12 1 8 1-3 1 8 1-9 1 6 1-3 1 9 1-16 1 9 1-9 1 23 1-26 1 13 1-11 1 22 1-44 1 36 1-7 1 4 1-10 1 24 1-15 1 0 1-16 1 22 1-13 1 16 1-19 1 19 1-27 1 26 1-10 1 17 1-22 1 16 1-7 1 8 1-24 1 17 1-2 1 3 1-18 1 20 1-18 1 15 1-5 1 10 1-8 1 3 1-13 1 16 1-4 1 23 1-29 1 13 1-11 1 17 1-21 1 27 1-19 1 5 1-6 1 11 1-6 1 2 1-5 1 18 1-18 1 9 1-9 1 10 1-5 1 7 1-15 1 18 1-12 1 8 1-17 1 23 1-11 1 9 1-11 1 8 1-9 1 18 1-14 1 14 1-15 1 8 1-1 1 5 1-11 1 8 1-7 1 14 1-14 1 11 1-10 1 16 1-23 1 19 1-13 1 12 1-17 1 16 1-13 1 21 1-22 1 21 1-13 1 14 1-12 1 27 1-25 1 12 1-11 1 13 1-9 1 22 1-29 1 12 1-20 1 19 1-4 1 11 1-11 1 6 1-4 1 14 1-11 1 14 1-23 1 15 1-6 1 11 1-17 1 15 1-8 1 17 1-22 1 20 1-19 1 13 1-12 1 4 1 0 1 17 1-13 1 0 1-3 1 18 1-21 1 11 1-7 1 18 1-22 1 20 1-18 1 20 1-21 1 30 1-23 1 10 1-10 1 12 1-19 1 10 1-5 1 12 1-4 1 2 1-7 1 12 1-16 1 10 1-7 1 10 1-17 1 19 1-17 1 25 1-19 1 16 1-9 1 4 1-16 1 23 1-9 1 2 1-11 1 7 1-6 1 15 1-17 1 9 1-6 1 2 1-9 1 9 1-5 1 7 1-10 1 7 1-6 1 9 1-13 1 6 1-6 1 10 1-10 1 3 1-9 1 8 1-16 1 3 1-9 1-3 1-12 1 0 1-18 1-6 1-23 1-20 1-36 1-41 1-59 1-73 1-91 1-92 1-79 1-31 1 31 1 79 1 94 1 90 1 71 1 59 1 42 1 35 1 18 1 26 1 9 1 17 1-1 1 13 1-2 1 22 1-12 1 9 1-4 1 10 1-15 1 22 1-10 1 2 1-3 1 12 1-5 1 7 1-4 1 7 1-12 1 9 1-4 1 12 1-10 1 18 1-29 1 22 1-15 1 22 1-25 1 28 1-18 1 1 1-3 1 5 1-9 1 12 1-6 1 13 1-11 1 9 1-13 1 7 1-2 1 6 1-3 1 8 1-12 1 9 1-20 1 28 1-17 1 1 1-5 1 21 1-14 1 5 1-6 1 3 1-3 1 11 1-7 1 0 1-4 1 4 1-7 1 20 1-16 1 6 1-7 1 2 1-5 1 21 1-30 1 16 1-1 1 5 1-14 1 17 1-6 1 8 1-27 1 28 1-8 1 8 1-16 1 6 1-10 1 12 1-6 1 13 1-16 1 14 1-8 1 12 1-19 1 16 1-18 1 15 1-14 1 11 1-5 1 14 1-11 1 6 1-6 1 5 1-11 1 17 1-22 1 21 1-5 1 9 1-27 1 27 1-14 1 5 1-8 1 25 1-34 1 15 1-13 1 17 1-19 1 22 1-7 1 11 1-13 1 10 1-11 1 13 1-22 1 16 1-13 1 21 1-24 1 15 1-5 1 7 1-9 1 8 1-1 1 5 1-12 1 11 1-13 1 13 1-14 1 16 1-6 1 5 1-16 1 17 1-11 1 9 1-9 1 10 1-12 1 13 1-16 1 19 1-26 1 17 1-5 1 11 1-5 1 17 1-36 1 23 1-28 1 27 1-7 1 17 1-31 1 21 1-18 1 25 1-30 1 23 1-5 1 2 1-11 1 17 1-20 1 16 1-12 1 5 1-12 1 22 1-12 1 6 1-5 1 5 1-6 1-1 1-5 1 19 1-14 1 16 1-11 1 4 1-15 1 18 1-9 1 13 1-20 1 20 1-16 1 2 1-15 1 22 1-7 1 2 1 2 1 5 1-14 1 11 1-10 1 11 1-21 1 19 1-2 1 7 1-16 1 12 1-12 1 10 1-3 1 10 1-10 1 4 1-13 1 15 1-13 1 17 1-17 1 19 1-17 1 3 1-5 1 14 1-8 1 6 1-8 1 12 1-15 1 10 1-10 1 12 1-11 1 7 1-5 1 8 1-7 1-2 1-8 1 25 1-20 1 13 1-18 1 14 1-13 1 12 1-29 1 33 1-15 1 10 1-11 1 1 1-12 1 13 1-12 1 18 1-14 1 6 1-4 1 17 1-31 1 20 1-10 1 8 1-7 1 7 1-13 1 25 1-27 1 16 1-20 1 19 1-11 1 11 1-23 1 17 1-3 1-2 1 1 1-2 1-6 1 7 1-6 1 15 1-13 1 3 1-4 1 15 1-21 1 10 1-2 1-3 1-1 1 6 1-11 1 9 1-9 1 6 1-8 1 7 1-12 1 15 1-10 1 12 1-19 1 29 1-21 1 9 1-8 1 8 1-9 1 8 1-7 1-4 1-11 1 21 1-10 1 5 1-4 1 3 1-4 1 8 1-15 1 18 1-17 1 18 1-18 1 6 1-15 1 17 1-11 1 4 1-11 1 12 1-23 1 16 1-19 1 23 1-32 1 5 1-20 1 0 1-16 1-3 1-6 1 4 1-9 1 19 1-4 1 15 1-12 1 16 1-4 1 1 1-11 1 13 1-11 1 21 1-15 1 7 1-10 1 6 1-14 1 12 1-8 1 6 1-18 1 8 1-10 1-2 1-15 1-2 1-9 1 1 1-2 1 10 1 2 1 15 1-2 1 11 1-8 1 23 1-9 1 16 1-10 1 20 1-24 1 12 1-4 1 8 1-11 1 9 1-7 1 13 1-17 1 10 1-8 1 6 1-10 1 22 1-32 1 27 1-11 1 14 1-19 1 13 1-20 1 17 1-22 1 13 1-13 1 0 1-15 1 1 1-13 1-6 1-12 1 3 1-7 1 14 1-2 1 21 1-8 1 7 1-4 1 8 1-16 1 11 1-2 1 3 1-3 1 15 1-4 1 18 1-1 1 17 1-7 1 9 1 0 1 9 1-6 1 9 1-9 1 6 1-6 1 13 1-15 1 22 1-10 1-2 1-5 1 6 1-13 1 14 1-4 1 12 1-16 1 20 1-12 1 11 1-12 1 2 1-2 1 8 1-13 1 7 1-4 1 23 1-18 1 2 1-19 1 22 1-4 1 2 1-7 1 7 1-12 1 17 1-17 1 12 1-12 1 22 1-21 1 16 1-13 1 8 1-8 1 4 1-9 1 5 1-1 1 18 1-15 1 6 1-13 1 9 1-9 1 5 1-18 1 14 1-6 1-2 1-6 1 4 1-14 1 11 1-3 1 2 1-9 1 13 1-3 1 9 1-22 1 17 1-4 1 8 1-5 1 12 1-10 1 18 1-10 1 9 1-6 1 5 1-1 1 3 1-4 1 16 1-24 1 16 1-5 1 6 1-13 1 22 1-11 1 10 1-12 1 7 1-10 1 9 1-7 1 16 1-24 1 34 1-31 1 10 1-4 1 7 1-2 1 14 1-29 1 20 1-10 1 7 1-3 1 0 1-1 1 14 1-17 1 8 1-4 1 15 1-26 1 18 1-9 1 4 1-5 1 9 1-21 1 16 1-16 1 15 1-15 1 11 1-3 1 1 1-10 1 8 1-8 1 8 1-16 1 10 1-13 1 1 1-14 1 3 1-13 1-2 1-20 1-11 1-27 1-25 1-39 1-43 1-56 1-53 1-46 1-16 1 15 1 45 1 53 1 55 1 42 1 36 1 28 1 20 1 12 1 15 1-5 1 17 1-8 1 13 1-5 1 1 1-8 1 1 1-6 1 6 1-6 1 14 1-4 1 13 1 3 1 9 1-6 1 11 1-14 1 20 1-12 1 18 1-19 1 19 1-10 1 2 1-2 1 2 1-7 1 9 1-8 1 7 1 0 1 8 1-6 1 9 1-18 1 18 1-10 1 7 1-15 1 19 1-12 1 15 1-4 1 1 1-14 1 23 1-24 1 18 1-15 1 25 1-16 1 16 1-18 1 12 1-5 1 6 1-8 1 18 1-20 1 6 1 5 1 9 1-12 1 3 1-12 1 20 1-17 1 6 1-7 1 5 1-15 1 4 1-14 1 4 1-5 1 4 1-8 1 11 1 2 1 11 1-6 1 25 1-17 1 17 1 3 1 3 1-1 1 9 1-10 1 12 1 0 1 8 1-16 1 16 1-12 1 12 1-21 1 21 1-9 1 13 1-13 1 18 1-15 1 30 1-19 1 3 1-4 1 10 1-5 1-4 1-4 1 23 1-34 1 19 1-6 1 11 1-13 1 14 1-12 1 19 1-13 1 2 1-12 1 14 1-21 1 20 1-12 1 13 1-7 1 5 1-3 1 12 1-28 1 35 1-19 1 15 1-24 1 16 1-12 1 10 1-6 1 15 1-11 1 18 1-20 1 2 1 0 1 5 1-8 1 19 1-22 1 12 1-4 1 3 1-15 1 30 1-26 1 9 1 1 1 0 1-7 1 27 1-29 1 24 1-19 1 15 1-23 1 16 1-15 1 11 1-10 1 12 1-11 1 15 1-9 1 10 1-12 1 13 1-9 1 11 1-8 1-2 1-17 1 25 1-9 1 27 1-29 1 7 1-6 1 2 1 1 1 4 1-20 1 30 1-25 1 22 1-12 1-1 1-9 1 22 1-17 1 18 1-17 1 10 1-18 1 40 1-34 1 24 1-24 1 14 1-9 1 11 1-13 1 19 1-12 1 12 1-20 1 13 1-11 1 11 1-26 1 37 1-29 1 15 1-5 1 15 1-10 1 10 1-7 1-2 1-11 1 31 1-30 1 28 1-16 1 8 1-17 1 14 1-11 1 12 1-17 1 29 1-19 1 9 1-4 1 0 1-8 1 13 1-5 1 8 1-15 1 6 1-13 1 14 1-7 1 20 1-17 1 8 1-14 1 16 1-9 1 12 1-13 1 23 1-20 1 10 1-12 1 18 1-15 1 7 1-3 1 6 1-6 1 10 1-4 1 2 1-22 1 25 1-17 1 19 1-5 1-2 1-4 1 12 1-13 1 6 1-5 1 8 1-13 1 13 1-8 1 18 1-19 1 18 1-19 1 29 1-20 1 4 1-6 1 5 1-4 1 6 1-6 1 0 1-9 1 8 1-4 1 12 1-26 1 42 1-48 1 30 1-5 1 7 1-10 1 11 1-6 1 3 1-2 1 17 1-28 1 17 1-16 1 19 1-13 1 13 1-12 1 11 1-18 1 18 1-6 1 1 1-9 1 9 1-6 1 14 1-30 1 30 1-21 1 21 1-17 1 18 1-22 1 31 1-22 1 5 1-4 1 15 1-5 1 1 1-11 1 11 1-26 1 17 1-3 1 8 1-4 1 20 1-26 1 7 1-1 1 0 1-8 1 22 1-17 1 18 1-17 1 14 1-9 1 0 1-21 1 22 1-8 1 11 1-16 1 20 1-7 1 10 1-20 1 21 1-12 1 0 1-1 1 10 1-9 1 6 1-5 1 6 1-9 1 14 1-24 1 18 1 0 1-4 1-13 1 15 1-8 1 14 1-7 1 4 1-9 1 15 1-9 1 14 1-19 1 15 1-17 1 9 1-4 1 5 1-5 1 17 1-35 1 26 1-5 1 4 1-8 1 10 1-30 1 35 1-30 1 22 1-2 1 2 1-9 1 13 1-7 1 10 1-9 1 13 1-11 1 2 1-3 1 5 1-13 1 17 1-10 1 13 1-16 1 9 1-10 1 10 1-10 1 15 1-17 1 11 1-7 1 10 1-17 1 22 1-12 1 10 1-7 1 0 1-13 1 24 1-18 1 14 1-7 1 5 1-17 1 16 1-10 1 9 1-10 1 14 1-20 1 23 1-12 1 6 1-9 1 7 1-14 1 9 1-10 1 10 1-11 1 11 1-14 1 12 1-9 1 7 1-11 1 4 1-11 1 11 1-17 1 0 1-13 1 1 1-7 1 5 1 2 1 5 1 0 1 16 1-6 1 13 1-3 1 3 1 0 1 3 1-16 1 26 1-14 1 3 1-3 1-4 1-14 1 6 1-12 1 6 1-6 1 10 1-19 1 16 1-9 1 18 1-8 1 13 1-4 1 10 1-7 1 8 1-4 1 6 1-8 1 8 1-12 1 9 1-1 1-1 1-1 1 3 1-10 1 5 1-16 1 10 1-8 1-3 1-7 1 6 1-9 1 2 1-23 1 27 1-5 1 13 1-5 1 11 1-6 1 13 1-11 1 11 1-11 1 14 1-5 1 11 1-8 1 11 1-14 1 10 1-1 1 9 1-15 1 15 1-11 1 14 1-19 1 17 1-20 1 18 1-16 1 21 1-21 1 15 1-14 1 17 1-5 1 4 1-6 1 18 1-24 1 27 1-30 1 14 1-9 1 15 1-14 1 15 1-11 1 3 1-11 1 12 1-5 1 9 1-12 1 24 1-18 1 5 1-3 1 8 1-16 1 17 1-16 1 9 1-5 1 10 1-14 1 19 1-14 1 7 1-10 1 6 1-7 1 2 1-6 1 15 1-12 1 5 1-13 1 6 1-6 1 4 1-12 1 2 1-7 1-3 1-10 1 2 1-10 1 9 1-2 1 14 1 0 1 9 1-6 1 12 1-13 1 19 1-5 1 16 1-21 1 15 1-9 1 8 1-10 1 17 1-27 1 20 1-13 1 10 1-5 1 8 1-7 1-5 1-10 1 10 1-19 1 14 1-13 1 0 1-13 1 2 1-10 1-2 1-4 1 5 1-4 1 11 1-3 1 6 1 4 1 11 1-4 1 14 1-5 1 12 1-10 1 17 1-12 1 10 1-10 1 18 1-15 1 17 1-10 1 14 1-8 1 7 1-18 1 20 1-17 1 15 1-14 1-1 1-3 1-4 1-7 1 3 1-13 1 4 1-11 1 5 1-3 1 5 1 3 1 9 1-3 1 9 1 4 1 6 1-3 1 17 1-8 1 6 1-3 1 9 1-11 1 20 1-16 1 4 1-12 1 16 1-13 1 15 1-8 1 13 1-10 1 13 1-21 1 26 1-30 1 23 1-12 1 6 1-5 1 3 1-5 1 12 1-3 1 5 1-9 1 19 1-24 1 13 1-13 1 12 1-9 1 14 1-19 1 25 1-17 1 23 1-38 1 31 1-15 1 5 1-10 1 20 1-18 1 9 1-10 1 10 1-14 1 12 1-2 1 9 1-19 1 15 1-23 1 22 1-16 1 17 1-7 1 16 1-13 1 3 1-12 1 20 1-13 1 3 1-8 1 12 1-2 1 4 1-16 1 17 1-10 1 13 1-16 1 13 1-10 1 9 1-5 1 4 1-12 1 11 1-5 1 21 1-29 1 23 1-18 1 13 1-9 1 3 1-4 1 4 1 1 1 2 1-7 1 4 1-4 1 10 1-6 1 10 1-14 1 16 1-15 1 15 1-23 1 13 1-18 1 22 1-7 1 1 1-2 1 6 1-10 1 10 1-11 1 20 1-17 1 12 1-6 1 8 1-20 1 15 1-5 1 12 1-17 1 21 1-23 1 13 1-1 1 17 1-24 1 6 1-8 1 20 1-34 1 26 1-4 1-4 1-7 1 15 1-11 1 6 1-8 1 18 1-35 1 31 1-8 1 6 1-10 1 14 1-6 1 3 1-9 1 18 1-11 1 3 1-6 1 0 1-10 1 16 1-14 1 18 1-9 1 8 1-11 1 12 1-16 1 7 1-1 1 8 1-9 1 11 1-18 1 24 1-20 1 11 1-8 1 12 1-15 1 10 1-8 1 15 1-28 1 22 1-10 1 5 1-16 1 31 1-26 1 17 1-9 1 7 1-12 1 18 1-24 1 15 1-10 1 9 1-4 1 8 1-8 1 8 1-12 1 19 1-15 1 8 1-8 1 6 1-3 1 6 1 2 1 3 1-17 1 25 1-40 1 28 1-8 1 7 1-7 1 11 1-11 1 14 1-16 1 12 1-18 1 16 1-13 1 19 1-12 1 8 1-7 1 17 1-21 1 11 1-13 1 21 1-26 1 14 1-4 1 10 1-2 1 23 1-33 1 13 1-20 1 15 1-19 1 31 1-26 1 23 1-22 1 23 1-16 1 11 1-18 1 11 1-9 1 9 1-7 1 12 1-3 1-1 1-5 1 3 1-5 1 3 1-5 1 14 1-6 1 4 1-16 1 20 1-13 1 15 1-17 1 3 1-2 1 13 1-18 1 26 1-15 1 0 1-8 1 5 1-2 1 3 1-11 1 23 1-17 1 3 1-6 1 8 1-8 1 9 1-17 1 30 1-23 1 0 1-6 1 7 1-16 1 10 1-11 1 11 1-16 1 10 1-13 1 10 1-3 1 7 1-8 1 6 1-5 1 4 1-13 1 17 1-2 1 13 1-13 1 11 1-15 1 15 1-1 1 11 1-8 1 14 1-22 1 18 1-6 1 6 1-6 1 0 1-2 1 1 1-7 1 27 1-29 1 15 1-7 1 15 1-22 1 16 1-8 1 1 1-1 1 20 1-19 1 4 1-8 1 6 1-4 1 17 1-16 1 11 1-23 1 19 1-19 1 23 1-11 1 12 1-12 1 10 1-17 1 12 1-12 1 15 1-9 1 18 1-37 1 26 1-13 1 12 1-5 1 15 1-15 1 22 1-25 1 15 1-25 1 19 1-6 1 3 1-4 1 9 1-8 1 9 1-7 1 9 1-10 1 5 1-8 1 13 1-12 1 6 1-3 1 20 1-17 1 6 1-13 1 25 1-21 1 7 1-8 1 11 1-11 1 6 1-4 1 8 1-7 1 6 1-8 1 5 1-14 1 27 1-23 1 17 1-21 1 15 1-20 1 14 1-7 1 9 1-10 1 1 1-5 1 7 1-14 1 19 1-16 1 4 1-3 1 11 1-10 1 12 1-9 1 14 1-5 1 10 1-10 1 9 1-7 1 4 1-3 1 6 1 0 1 7 1-10 1 4 1-7 1 15 1-12 1 11 1-12 1 8 1-6 1 16 1-17 1 5 1-4 1 4 1-11 1 16 1-8 1 3 1-5 1 17 1-17 1 19 1-16 1 5 1-10 1 21 1-14 1 7 1-10 1 19 1-20 1 14 1-10 1 8 1-4 1 9 1-13 1 3 1-15 1 12 1-2 1 8 1-18 1 19 1-13 1 8 1-10 1 9 1-10 1 16 1-8 1-1 1-5 1 9 1-8 1 15 1-9 1 6 1-15 1 17 1-10 1 5 1-2 1 0 1-4 1 9 1-4 1 13 1-35 1 41 1-23 1 19 1-13 1 8 1-14 1 7 1-4 1 9 1-12 1 4 1-16 1 17 1-7 1 22 1-18 1 20 1-19 1 10 1-13 1 16 1-17 1 25 1-29 1 9 1-2 1 8 1-20 1 16 1-6 1 9 1-12 1 16 1-19 1 19 1-15 1 12 1-10 1 6 1-21 1 21 1-11 1 18 1-15 1 11 1-13 1 12 1-9 1 27 1-27 1 8 1-10 1 7 1-10 1 23 1-31 1 10 1-13 1 14 1-8 1 11 1-12 1 0 1-1 1 8 1-15 1 20 1-7 1 3 1 3 1 19 1-19 1 7 1-4 1 5 1-8 1 10 1-17 1 16 1-6 1 13 1-5 1 1 1-8 1 12 1-21 1 17 1 0 1 0 1-11 1 13 1-15 1 14 1-8 1 5 1 0 1 4 1-5 1 1 1-6 1 14 1-20 1 18 1-9 1 8 1-7 1 9 1-13 1 17 1-23 1 24 1-25 1 16 1-3 1 15 1-25 1 16 1-10 1 20 1-15 1 5 1-6 1 10 1-11 1 23 1-23 1 2 1-7 1 13 1-6 1 12 1-21 1 15 1-7 1-2 1-3 1 10 1-13 1 23 1-20 1 5 1-14 1 23 1-6 1 1 1-7 1 12 1-6 1 5 1-7 1 12 1-11 1 10 1-9 1 3 1-16 1 21 1-19 1 27 1-16 1-2 1-7 1 13 1-10 1 6 1-5 1 7 1-22 1 16 1-1 1 11 1-18 1 10 1-5 1 6 1-12 1 20 1-17 1 18 1-21 1 16 1-7 1 4 1-28 1 39 1-14 1 11 1-21 1 10 1-6 1 17 1-17 1 7 1-8 1 13 1-9 1 17 1-15 1 11 1-18 1 39 1-40 1 14 1-11 1 8 1-2 1 7 1-16 1 18 1-17 1 21 1-30 1 21 1-15 1 19 1-23 1 18 1-10 1 13 1-11 1 10 1-13 1 18 1-6 1-1 1-17 1 26 1-19 1 18 1-18 1 11 1-6 1 2 1-6 1 6 1-1 1 3 1-14 1 9 1-8 1 21 1-21 1 8 1-21 1 27 1-11 1 4 1-7 1 11 1-9 1 18 1-24 1 14 1-12 1 9 1-17 1 13 1-7 1 5 1-9 1 7 1-15 1 16 1-20 1 11 1-11 1 16 1-21 1 16 1-9 1 5 1-11 1 5 1-11 1 13 1-4 1 0 1-4 1 5 1-5 1 7 1-6 1 5 1-3 1 16 1-13 1 3 1-4 1 6 1-3 1 6 1-2 1 4 1-18 1 22 1-7 1 13 1-4 1 11 1-10 1 13 1-24 1 24 1-14 1 9 1-7 1 9 1-8 1 17 1-9 1 10 1-11 1 2 1-3 1 12 1-24 1 18 1-6 1 5 1-6 1 12 1-11 1 13 1-11 1 9 1-13 1 10 1-11 1 11 1-14 1 12 1-11 1 17 1-13 1 18 1-32 1 29 1-20 1 8 1-4 1 12 1-15 1 9 1-3 1 7 1-23 1 16 1-7 1 8 1-13 1 11 1-8 1-1 1-11 1 19 1-15 1 4 1-15 1 19 1-3 1 4 1-6 1 9 1-13 1 20 1-7 1 24 1-29 1 16 1-12 1 12 1-17 1 22 1-22 1 11 1-3 1 6 1-12 1 13 1-8 1 12 1-16 1 8 1-6 1 10 1-2 1 0 1-5 1 7 1 1 1 5 1-27 1 23 1-25 1 28 1-23 1 20 1-18 1 14 1-3 1 14 1-15 1 5 1-8 1 9 1-19 1 24 1-9 1 7 1-10 1 15 1-18 1 26 1-18 1 10 1-13 1 11 1-12 1 4 1-13 1 16 1-7 1 7 1-10 1 12 1-23 1 14 1-11 1 25 1-14 1 28 1-36 1 7 1-1 1 6 1-10 1 16 1-16 1 6 1-1 1 16 1-18 1 9 1-10 1 12 1-18 1 22 1-23 1 28 1-18 1 9 1-30 1 33 1-21 1 12 1-9 1 6 1-6 1 15 1-28 1 22 1-5 1 4 1-8 1 7 1-19 1 25 1-23 1 15 1-6 1 16 1-11 1-6 1-1 1 11 1-8 1 7 1-2 1 16 1-20 1 9 1-14 1 17 1-6 1 1 1-15 1 18 1-18 1 11 1-6 1 3 1-1 1 14 1-13 1 1 1-15 1 27 1-13 1 5 1-6 1 0 1-1 1 10 1-15 1 19 1-18 1 13 1-15 1 15 1-21 1 14 1-2 1 4 1-8 1 9 1-20 1 26 1-11 1 0 1 1 1 1 1-11 1 20 1-12 1 4 1-9 1 11 1-11 1 8 1-10 1 18 1-13 1 7 1-8 1 12 1-12 1 9 1-3 1-3 1 5 1 9 1-11 1 9 1-17 1 20 1-24 1 27 1-17 1 5 1-7 1 8 1-4 1 6 1-15 1 31 1-23 1 7 1-16 1 15 1-7 1 8 1-12 1 13 1-11 1 14 1-11 1 7 1-14 1 14 1-16 1 16 1-7 1 22 1-20 1 16 1-16 1 2 1-9 1 19 1-21 1 12 1-11 1 18 1-17 1 24 1-17 1 11 1-22 1 23 1-19 1 17 1-9 1 10 1-18 1 9 1 1 1 4 1-7 1 8 1-9 1 15 1-13 1 10 1-15 1 26 1-24 1 8 1-7 1 9 1-12 1 9 1-7 1 14 1-18 1 21 1-16 1 4 1-5 1 2 1-5 1 5 1-16 1 18 1-14 1 7 1-13 1-1 1 0 1-3 1-8 1 3 1-4 1 4 1-4 1 1 1-2 1 5 1-4 1 15 1-10 1 12 1-8 1 17 1-10 1 18 1-15 1 18 1-23 1 19 1-12 1 16 1-7 1 14 1-15 1 17 1-17 1 8 1-6 1 6 1-7 1 23 1-26 1 21 1-17 1 12 1-11 1 7 1-10 1 19 1-16 1 6 1-13 1 16 1-16 1 19 1-16 1 10 1-7 1 13 1-15 1 23 1-40 1 38 1-13 1-2 1-3 1 14 1-11 1 3 1-6 1 12 1-12 1 25 1-22 1 8 1-22 1 21 1-9 1 13 1-9 1 3 1-11 1 10 1-8 1 12 1-5 1 5 1-17 1 12 1-3 1 15 1-13 1 15 1-25 1 17 1-17 1 11 1-5 1 12 1-13 1 8 1-12 1 28 1-23 1 19 1-17 1 11 1-23 1 27 1-29 1 24 1-8 1 8 1-12 1 5 1-1 1 13 1-16 1 5 1-12 1 14 1-9 1 11 1-10 1 4 1-9 1 15 1-14 1 18 1-20 1 19 1-13 1 3 1-6 1 21 1-21 1 23 1-23 1 15 1-14 1 20 1-17 1 5 1-4 1 19 1-29 1 8 1-11 1 36 1-24 1 2 1 1 1 5 1-10 1 10 1-5 1 16 1-35 1 20 1-2 1 11 1-14 1 6 1 0 1 8 1-14 1 10 1-15 1 16 1-8 1 1 1-4 1 20 1-20 1 6 1-2 1 3 1-7 1 2 1-2 1 23 1-18 1 1 1-2 1 2 1-4 1 9 1-5 1-2 1-2 1 14 1-20 1 7 1-3 1 9 1-21 1 31 1-21 1 9 1-20 1 22 1-14 1 6 1-7 1 11 1-12 1 10 1-9 1 5 1-7 1 5 1-11 1 7 1-4 1 9 1-9 1 2 1-11 1 20 1-15 1 6 1-6 1 5 1-6 1-1 1-5 1 6 1-6 1 7 1-7 1 7 1-6 1 7 1-8 1 17 1-10 1 12 1-9 1 5 1-3 1 1 1-7 1 8 1-6 1 20 1-11 1 0 1-7 1 16 1-7 1 18 1-16 1 6 1-21 1 24 1-15 1 17 1-13 1 14 1-20 1 21 1-16 1 13 1-5 1 13 1-10 1 3 1-9 1 8 1-16 1 22 1-8 1 4 1-1 1 16 1-26 1 22 1-33 1 23 1-17 1 19 1-7 1 11 1-6 1 1 1-18 1 17 1-13 1 20 1-20 1 26 1-21 1 9 1-1 1 4 1-8 1 5 1-4 1 6 1-9 1 15 1-16 1 7 1-11 1 13 1-10 1 25 1-20 1 13 1-23 1 17 1-8 1 14 1-14 1 11 1-18 1 17 1-15 1 23 1-16 1 5 1-16 1 12 1 0 1 0 1-6 1 7 1-15 1 23 1-31 1 29 1-21 1 19 1-3 1 7 1-15 1 9 1-9 1 16 1-10 1 22 1-26 1 14 1-13 1 18 1-15 1 10 1-20 1 24 1-17 1 10 1-21 1 25 1-8 1 14 1-22 1 9 1-7 1 9 1-7 1 5 1-11 1 22 1-14 1 8 1-25 1 35 1-22 1 12 1-9 1 8 1-16 1 16 1-2 1-2 1-12 1 14 1-1 1 9 1-22 1 19 1-25 1 37 1-34 1 29 1-21 1 18 1-22 1 13 1-7 1 4 1-8 1 13 1-11 1 23 1-19 1 6 1-15 1 21 1-11 1 9 1-7 1 3 1-9 1 11 1-12 1 15 1-17 1 14 1-12 1 16 1-30 1 23 1-10 1 20 1-14 1-2 1-2 1 18 1-12 1 5 1-10 1 23 1-20 1 8 1-3 1-1 1-4 1 8 1-10 1 20 1-13 1 19 1-29 1 22 1-25 1 14 1-9 1 14 1-19 1 25 1-19 1 14 1-15 1 22 1-32 1 36 1-27 1 24 1-18 1 6 1-4 1 14 1-26 1 16 1-20 1 31 1-23 1 11 1-7 1 14 1-23 1 14 1-6 1 17 1-28 1 18 1-16 1 19 1-10 1 9 1-15 1 10 1-1 1 12 1-15 1 17 1-21 1 11 1-7 1 18 1-11 1 4 1-15 1 17 1-23 1 19 1-7 1 7 1-5 1 6 1-10 1 6 1-2 1 0 1-1 1 7 1-7 1 8 1-15 1 12 1-15 1 20 1-9 1 7 1-12 1 11 1-10 1 16 1-15 1 5 1-9 1 14 1-11 1 17 1-29 1 17 1-16 1 17 1-4 1 7 1-10 1 6 1-3 1 15 1-14 1 9 1-14 1 15 1-11 1 4 1-16 1 20 1-12 1 28 1-22 1 0 1 1 1 9 1-13 1 10 1-10 1 8 1-14 1 17 1-19 1 29 1-18 1 13 1-17 1 20 1-24 1 24 1-19 1 11 1-11 1 11 1-22 1 26 1-10 1 3 1-5 1 2 1-3 1 22 1-27 1 14 1-14 1 19 1-25 1 17 1-9 1 30 1-32 1 18 1-22 1 16 1-10 1 19 1-12 1 14 1-39 1 28 1-16 1 19 1-13 1 12 1-10 1 6 1-12 1 22 1-27 1 24 1-10 1 8 1-7 1 3 1-14 1 20 1-21 1 24 1-22 1 16 1-5 1 0 1 1 1 16 1-25 1 15 1-15 1 12 1-21 1 20 1-21 1 20 1-8 1 17 1-11 1 4 1-21 1 26 1-12 1 23 1-22 1 5 1-8 1 13 1-9 1 12 1-13 1 11 1-10 1 9 1-8 1-2 1 0 1 6 1-15 1 13 1-7 1 13 1-24 1 29 1-24 1 26 1-16 1 11 1-22 1 18 1-16 1 18 1-17 1 18 1-22 1 18 1-12 1 6 1-7 1 12 1-5 1 10 1-6 1 0 1-14 1 18 1-9 1 7 1-14 1 15 1-4 1 6 1-10 1 2 1-4 1 4 1-8 1 22 1-31 1 25 1-5 1 1 1-13 1 18 1-5 1 1 1-7 1 9 1-10 1 13 1-23 1 23 1-15 1 12 1-12 1 18 1-14 1 12 1-14 1 11 1-12 1 8 1-8 1 5 1-11 1 22 1-20 1 28 1-37 1 16 1 3 1 2 1-13 1 16 1-20 1 39 1-26 1 7 1-15 1 15 1-6 1 4 1-14 1 17 1-12 1 16 1-13 1 11 1-10 1 1 1-15 1 36 1-22 1 11 1-19 1 13 1-17 1 23 1-17 1 18 1-13 1 14 1-14 1 10 1-27 1 44 1-31 1 20 1-10 1 2 1-16 1 23 1-17 1 13 1-17 1 19 1-10 1 7 1-8 1 8 1-14 1 11 1-3 1 10 1-10 1 8 1-28 1 26 1-11 1 6 1-3 1 4 1-10 1 16 1-18 1 18 1-10 1 2 1-8 1 14 1-23 1 23 1-16 1 19 1-27 1 25 1-8 1 5 1-14 1 12 1-8 1 21 1-23 1 15 1-13 1 24 1-21 1 14 1-20 1 16 1-5 1 3 1-5 1-1 1-4 1 14 1-10 1 12 1-8 1 7 1-25 1 18 1-7 1 18 1-12 1 10 1-27 1 19 1-12 1 16 1-6 1 0 1-15 1 19 1-18 1 20 1-10 1 10 1-21 1 20 1-10 1 6 1-14 1 16 1-4 1 6 1-10 1 6 1-10 1 11 1-6 1 13 1-20 1 31 1-24 1 3 1-2 1 9 1-17 1 19 1-10 1 9 1-11 1 17 1-12 1 20 1-37 1 17 1-11 1 17 1-10 1 24 1-23 1 5 1-24 1 35 1-25 1 16 1-12 1 15 1-12 1 17 1-16 1 6 1-25 1 35 1-17 1 10 1-20 1 14 1-16 1 27 1-15 1 9 1-7 1 7 1-10 1 13 1-17 1 15 1-16 1 22 1-12 1 14 1-16 1 26 1-30 1 17 1-14 1 6 1-10 1 16 1-13 1 21 1-23 1 7 1-5 1 15 1-24 1 13 1 0 1 13 1-17 1 7 1-13 1 28 1-17 1 14 1-13 1 7 1-20 1 13 1-8 1 18 1-11 1 3 1-16 1 30 1-22 1 16 1-10 1 10 1-11 1 16 1-18 1 14 1-14 1 7 1-4 1 3 1-17 1 13 1-5 1 10 1-2 1 3 1-8 1 19 1-17 1 14 1-21 1 11 1-14 1 15 1-14 1 25 1-16 1 5 1-4 1 6 1-8 1 18 1-19 1 13 1-8 1 6 1-9 1 21 1-15 1-3 1-1 1 7 1-12 1 17 1-12 1 9 1-9 1 3 1-23 1 27 1-15 1 13 1-10 1 15 1-8 1 14 1-33 1 20 1-4 1 15 1-10 1 3 1-9 1 13 1-6 1-1 1-4 1 15 1-32 1 30 1-14 1 11 1-17 1 28 1-25 1 10 1-3 1 4 1-5 1 2 1 1 1 1 1-4 1 8 1-18 1 23 1-13 1 11 1-15 1 12 1-16 1 13 1-5 1 16 1-20 1 11 1-5 1 5 1-10 1 13 1-13 1 9 1-4 1 12 1-18 1 11 1-13 1 10 1-5 1 4 1-13 1 27 1-24 1 16 1-33 1 34 1-24 1 20 1-13 1 9 1-4 1 6 1-11 1 28 1-28 1 13 1-13 1 22 1-10 1 12 1-25 1 8 1-4 1 16 1-16 1 17 1-11 1 3 1-10 1 15 1-21 1 20 1-7 1 4 1-11 1 15 1-17 1 11 1-11 1 11 1-1 1 8 1-25 1 19 1-10 1 13 1-5 1 0 1-5 1 5 1-7 1 12 1-7 1 13 1-15 1 6 1-9 1 16 1-14 1 10 1-7 1 10 1-11 1 7 1-11 1 15 1-12 1 15 1-16 1 7 1-2 1 6 1-12 1 11 1-13 1 15 1-12 1 11 1-13 1 13 1-1 1 6 1-13 1 11 1-16 1 8 1-1 1 3 1-4 1 5 1-4 1 11 1-13 1 10 1-9 1 6 1-7 1 22 1-22 1 9 1-18 1 22 1-15 1 8 1-9 1 9 1-6 1 7 1-8 1 10 1-8 1 8 1-5 1 13 1-18 1 19 1-21 1 15 1-13 1 10 1-7 1 17 1-13 1 8 1-10 1 7 1-7 1-1 1-10 1 26 1-24 1 11 1-6 1 17 1-22 1 19 1-15 1 11 1-14 1 15 1-12 1 12 1-14 1 12 1-11 1 7 1-14 1 22 1-17 1 16 1-12 1 17 1-16 1 27 1-31 1 17 1-14 1 14 1-14 1 9 1-7 1 6 1-13 1 10 1 0 1 6 1-7 1 10 1-12 1 6 1-5 1 10 1-14 1 8 1-8 1 11 1-19 1 36 1-31 1 10 1-13 1 13 1-6 1 8 1-10 1 8 1-15 1 22 1-5 1 3 1-5 1 2 1-8 1 19 1-14 1 9 1-24 1 23 1-10 1 12 1-18 1 18 1-16 1 10 1-10 1 19 1-25 1 38 1-28 1 7 1-11 1 18 1-15 1 6 1-13 1 22 1-8 1-1 1-12 1 26 1-18 1 21 1-23 1 17 1-13 1 2 1-7 1 11 1-13 1 19 1-15 1 15 1-22 1 21 1-13 1 17 1-26 1 20 1-15 1 11 1-6 1 10 1-14 1 15 1-26 1 23 1-13 1 18 1-16 1 11 1-7 1 6 1-14 1 21 1-21 1 20 1-14 1 12 1-10 1 7 1-12 1 10 1-16 1 21 1-18 1 26 1-23 1 10 1-2 1 15 1-16 1 3 1-1 1 1 1-5 1 6 1-10 1 11 1-8 1 15 1-12 1 10 1-11 1 6 1-21 1 28 1-18 1 10 1-7 1 5 1-2 1 5 1-10 1 15 1-22 1 20 1-16 1 20 1-9 1 6 1-8 1 9 1-6 1 3 1-5 1 9 1-12 1 8 1-2 1 16 1-20 1 7 1-4 1 3 1-9 1 13 1-10 1 8 1-5 1 2 1-9 1 14 1-12 1 7 1-9 1 18 1-19 1 9 1-9 1 24 1-19 1 7 1-8 1 13 1-13 1 6 1-15 1 18 1-10 1 11 1-10 1 14 1-13 1 5 1-11 1 18 1-10 1 3 1-2 1 10 1-28 1 24 1-20 1 17" stroke="#FF4040" stroke-width="2.5"/>
<path transform="translate(134.32 0) scale(0.46072 0.25)" vector-effect="non-scaling-stroke" d="M0 2017l1-23 1 13 1-2 1 0 1-7 1 8 1 0 1 14 1-31 1 20 1-8 1 15 1-19 1 20 1-20 1 14 1-22 1 17 1-2 1 4 1-8 1 14 1-17 1 19 1-15 1 11 1-5 1-1 1 2 1 3 1-11 1 25 1-19 1 9 1-10 1 7 1-12 1 9 1-9 1 20 1-16 1 10 1-11 1 10 1-6 1 0 1 0 1 7 1-18 1 18 1-14 1 10 1-11 1 20 1-13 1 13 1-17 1 15 1-20 1 17 1-15 1 19 1-16 1 10 1 1 1-1 1-9 1 10 1-11 1 9 1-13 1 20 1-12 1 8 1-9 1 20 1-26 1 22 1-17 1 11 1-15 1 15 1-11 1 7 1-3 1 6 1-5 1 11 1-13 1 19 1-27 1 15 1-5 1 1 1-5 1 8 1-9 1 14 1-9 1 6 1-2 1 18 1-19 1 7 1-5 1 6 1-10 1 8 1-5 1 0 1-14 1 24 1-12 1 8 1-4 1 16 1-11 1 10 1-19 1 14 1-20 1 19 1-11 1 7 1-10 1 18 1-14 1 18 1-12 1 4 1-13 1 17 1-15 1 26 1-29 1 24 1-16 1 17 1-14 1 13 1-19 1 14 1-8 1 23 1-33 1 19 1-6 1 0 1-1 1 9 1-5 1-2 1 1 1 9 1-13 1 6 1-8 1 9 1-1 1 3 1-14 1 26 1-27 1 14 1-8 1 13 1-21 1 27 1-14 1 8 1-17 1 19 1-15 1 21 1-12 1 18 1-33 1 21 1-5 1 3 1-2 1 19 1-19 1 7 1-11 1 20 1-12 1 4 1-5 1 0 1-3 1 5 1-1 1 7 1-16 1 13 1-5 1 9 1-14 1 26 1-18 1 2 1-2 1 7 1-10 1 26 1-22 1 2 1-7 1 9 1-5 1 10 1-7 1 6 1-10 1 7 1-6 1 12 1-5 1 8 1-8 1 7 1-17 1 23 1-15 1 6 1-8 1 7 1-11 1 13 1-25 1 23 1-8 1 23 1-17 1 5 1-1 1 0 1-8 1 15 1-12 1 9 1-5 1 7 1-18 1 25 1-17 1 10 1-12 1 11 1-17 1 27 1-17 1 10 1-10 1 6 1-23 1 25 1-7 1 7 1-1 1 13 1-15 1 1 1-4 1 4 1-7 1 15 1-15 1 14 1-7 1 3 1-6 1 13 1-13 1 8 1-14 1 15 1-14 1 22 1-24 1 24 1-21 1 18 1-13 1 5 1-1 1 12 1-11 1 7 1-21 1 15 1-4 1 4 1 1 1 8 1-18 1 19 1-25 1 16 1-3 1 16 1-14 1 10 1-16 1 6 1 2 1 3 1-1 1 4 1-11 1 6 1-9 1 14 1-7 1 16 1-25 1 23 1-18 1 10 1-7 1 10 1-13 1 13 1-9 1 14 1-14 1 11 1-7 1 6 1-7 1 8 1-10 1 9 1-15 1 16 1-6 1 6 1-14 1 12 1-11 1 18 1-13 1 12 1-16 1 16 1-8 1 6 1-16 1 13 1-7 1 5 1-15 1 21 1-10 1 14 1-14 1 10 1-10 1 4 1-9 1 15 1-20 1 17 1-9 1 10 1-5 1 25 1-25 1 3 1-4 1 24 1-30 1 10 1-5 1 8 1-10 1 23 1-20 1 8 1-9 1 7 1-4 1 9 1-18 1 6 1-15 1 25 1-9 1 16 1-13 1 3 1-20 1 21 1-7 1 18 1-16 1 6 1-9 1 21 1-24 1 8 1-4 1 11 1-12 1 5 1 0 1 5 1-14 1 11 1-8 1 11 1-23 1 32 1-22 1 18 1-18 1 14 1-10 1 6 1-14 1 13 1-15 1 20 1-13 1 9 1-1 1 1 1-6 1 10 1-17 1 14 1-25 1 48 1-36 1 13 1-8 1 5 1-10 1 11 1-5 1 3 1-1 1 2 1-5 1 18 1-25 1 20 1-20 1 16 1-10 1 7 1-13 1 8 1-2 1 6 1-4 1 7 1-11 1 9 1-10 1 18 1-11 1 0 1-15 1 16 1-10 1 11 1-8 1 7 1-3 1 7 1-7 1 7 1-8 1 1 1-1 1 13 1-18 1 28 1-28 1 12 1-7 1 6 1-6 1 12 1-22 1 10 1 0 1 3 1-7 1 17 1-13 1 7 1-11 1 21 1-19 1 8 1-8 1 4 1-3 1 6 1-16 1 17 1-13 1 8 1-9 1 7 1-5 1 19 1-23 1 11 1-4 1 12 1-17 1 23 1-31 1 20 1-19 1 27 1-29 1 22 1-15 1 8 1-6 1 14 1-9 1 0 1-7 1 14 1-17 1 17 1-14 1 10 1-11 1 16 1-18 1 8 1-4 1 4 1-9 1 20 1-26 1 31 1-20 1 12 1-14 1 7 1-9 1 10 1-11 1 13 1-11 1 5 1-16 1 17 1-9 1 6 1 0 1 3 1-16 1 29 1-18 1 15 1-14 1 3 1-4 1 10 1-11 1 8 1-11 1 10 1-4 1 10 1-25 1 19 1-10 1 9 1-8 1 5 1-12 1 11 1-3 1 4 1-11 1 11 1-15 1 18 1-5 1 7 1-14 1 17 1-21 1 10 1-1 1 2 1-10 1 11 1-6 1 14 1-16 1 3 1-8 1 12 1-21 1 26 1-8 1 1 1-3 1 12 1-22 1 8 1-9 1 12 1-16 1 19 1-10 1 18 1-24 1 8 1-15 1 33 1-26 1 18 1-18 1 4 1-9 1 13 1-27 1 33 1-18 1 21 1-19 1 21 1-18 1 5 1-9 1 17 1-16 1 8 1-13 1 9 1-5 1 4 1-9 1 15 1-5 1 4 1-21 1 13 1 0 1-2 1-4 1 15 1-15 1 3 1-12 1 22 1-14 1 7 1-14 1 12 1-3 1 17 1-18 1 14 1-16 1 3 1-3 1 1 1-1 1-1 1-10 1 16 1-8 1 19 1-23 1 17 1-19 1 8 1-17 1 21 1-12 1 13 1-11 1 12 1-11 1 28 1-33 1 10 1-11 1 7 1-2 1 8 1-12 1 4 1-10 1 10 1-5 1 6 1-7 1 18 1-15 1 2 1-12 1 11 1-18 1 26 1-23 1 23 1-17 1 5 1-9 1 12 1-21 1 28 1-23 1 14 1-29 1 17 1-9 1 13 1-14 1 12 1-27 1 21 1-5 1 7 1-13 1 12 1-15 1 16 1-25 1 14 1-9 1 14 1-13 1 9 1-12 1 14 1-8 1 6 1-5 1-1 1-2 1 3 1-9 1 6 1-11 1 28 1-24 1 10 1-7 1-2 1-5 1 4 1-7 1 22 1-19 1 9 1-17 1 21 1-31 1 29 1-23 1 35 1-21 1 3 1-5 1 8 1-6 1 2 1-3 1 9 1-29 1 25 1-7 1 6 1-8 1 8 1-6 1 7 1-14 1 32 1-29 1 14 1-14 1 10 1-12 1 18 1-26 1 19 1-5 1 16 1-21 1 13 1-9 1 3 1-2 1 5 1-7 1 10 1-10 1 4 1-10 1 24 1-27 1 12 1-11 1 8 1-1 1 4 1-7 1 5 1-5 1 8 1-11 1 12 1-3 1 3 1-4 1 8 1-22 1 20 1-9 1 12 1-12 1-2 1-4 1 11 1-13 1 13 1-18 1 26 1-16 1 13 1-16 1 12 1-8 1 10 1-17 1 21 1-13 1 2 1-7 1 13 1-5 1 5 1-11 1 15 1-13 1 16 1-14 1 4 1-12 1 24 1-14 1 13 1-21 1 5 1-7 1 15 1-13 1 18 1-17 1 17 1-17 1 12 1-6 1 5 1-1 1-4 1 1 1 1 1 0 1 15 1-14 1 1 1-13 1 16 1-6 1 3 1-1 1 2 1-19 1 13 1-13 1 21 1-14 1 11 1-6 1 6 1-11 1 13 1-5 1 1 1-12 1 17 1-18 1 17 1-20 1 20 1-5 1 1 1-2 1 13 1-25 1 20 1-8 1 12 1-10 1 3 1-1 1 1 1-5 1 6 1-6 1 12 1-22 1 23 1-18 1 15 1-12 1 10 1-10 1 17 1-17 1 15 1-23 1 28 1-20 1 12 1-9 1 11 1-11 1 10 1-9 1 13 1-9 1 5 1-21 1 25 1-9 1 11 1-18 1 11 1-7 1 13 1-28 1 27 1-24 1 33 1-28 1 16 1-13 1 12 1-6 1 15 1-12 1 3 1-14 1 13 1-8 1 25 1-24 1 9 1-7 1 8 1-16 1 22 1-31 1 25 1-11 1 12 1-6 1 5 1-8 1 7 1-8 1 10 1-9 1 12 1-14 1 10 1-5 1 4 1-8 1 13 1-9 1 5 1-4 1 14 1-17 1 3 1-6 1 21 1-16 1 0 1 0 1-1 1-9 1 6 1-8 1 7 1-21 1 12 1-6 1-1 1-9 1-1 1-8 1 6 1-11 1 4 1-3 1 5 1 1 1 16 1-5 1 5 1-1 1 11 1 1 1 4 1-5 1 29 1-19 1 12 1-17 1 11 1-19 1 23 1-4 1 9 1-7 1 7 1-11 1 16 1-17 1 19 1-15 1 5 1-8 1 18 1-23 1 22 1-15 1 7 1-8 1 28 1-35 1 20 1-18 1 24 1-11 1 12 1-13 1 19 1-25 1 18 1-7 1 1 1-21 1 20 1-9 1 7 1-11 1 11 1-19 1 4 1-10 1 11 1-6 1 0 1-9 1 2 1-6 1 11 1-4 1 10 1-3 1 9 1-5 1 11 1-1 1 6 1-6 1 9 1 0 1 10 1-10 1 9 1-3 1 5 1-7 1 11 1-2 1 0 1-11 1 19 1-10 1 5 1-6 1 4 1-1 1 5 1-14 1 16 1-1 1-1 1-8 1 11 1-6 1 14 1-7 1 14 1-31 1 19 1-7 1 7 1-16 1 18 1-15 1 15 1-20 1 26 1-14 1 6 1-1 1 5 1-8 1 6 1-6 1 16 1-20 1 17 1-13 1 9 1-11 1 11 1-5 1 6 1-8 1 16 1-13 1 9 1-11 1 28 1-27 1 11 1-18 1 21 1-17 1 16 1-23 1 18 1-12 1 16 1-15 1 11 1-2 1 15 1-18 1 9 1-7 1 11 1-8 1 18 1-27 1 18 1-22 1 16 1-4 1 8 1-18 1 29 1-13 1 1 1-10 1 16 1-16 1 7 1-5 1 12 1-7 1 11 1-11 1 5 1-11 1 16 1-17 1 18 1-7 1 8 1-11 1 17 1-18 1 10 1-13 1 15 1-4 1 3 1-14 1 18 1-16 1 13 1-5 1 9 1-6 1 9 1-11 1 13 1-16 1 15 1-19 1 16 1-8 1 12 1-19 1 7 1-8 1 15 1-15 1 16 1-16 1 13 1-5 1 3 1-7 1 7 1-6 1 24 1-22 1 8 1-15 1 12 1-4 1 18 1-21 1 13 1-9 1 7 1-4 1 6 1-7 1 9 1-13 1 14 1-18 1 16 1-25 1 30 1-14 1 3 1 0 1 2 1-11 1 18 1-11 1 8 1-7 1 24 1-21 1 2 1-9 1 10 1-13 1 26 1-23 1 18 1-10 1 7 1-6 1 6 1-9 1 10 1-12 1 16 1-14 1 16 1-12 1 4 1-10 1 29 1-21 1 0 1 1 1 1 1-6 1 7 1-12 1 13 1-13 1 20 1-17 1 13 1-10 1 15 1-15 1 9 1-8 1 11 1-18 1 17 1-10 1 12 1-20 1 16 1-11 1 15 1-8 1 16 1-25 1 16 1-18 1 17 1-4 1 7 1-14 1 15 1-25 1 21 1-9 1 12 1-4 1 0 1-5 1 4 1-6 1 18 1-20 1 16 1-11 1 19 1-13 1 19 1-31 1 12 1-5 1 7 1-7 1 6 1-4 1 14 1-15 1 11 1-24 1 16 1-4 1 4 1 1 1 7 1-15 1 11 1-11 1 9 1-6 1 9 1-8 1 9 1-7 1 6 1-1 1 2 1-5 1 10 1-15 1 13 1-6 1 8 1-14 1 19 1-24 1 27 1-17 1 2 1-8 1 14 1-15 1 18 1-14 1 8 1-2 1 9 1-14 1 8 1-17 1 18 1-7 1 16 1-11 1 2 1-5 1 5 1-12 1 14 1-16 1 28 1-15 1 6 1-13 1 9 1-4 1 6 1-11 1 16 1-18 1 25 1-21 1 12 1-7 1 1 1 1 1 0 1 0 1 16 1-25 1 16 1-16 1 15 1-16 1 27 1-30 1 19 1-12 1 18 1-14 1 14 1-10 1 6 1-7 1 4 1-11 1 11 1-2 1 3 1-2 1 5 1-6 1 11 1-18 1 10 1-18 1 24 1-20 1 17 1-4 1 8 1-8 1 20 1-25 1 8 1-9 1 17 1-14 1 16 1-15 1 14 1-17 1 16 1-10 1 6 1-16 1 12 1-10 1 20 1-16 1 4 1-1 1 6 1-20 1 12 1-1 1 9 1-3 1 1 1-12 1 12 1-8 1 6 1-1 1 12 1-25 1 20 1-7 1 8 1-8 1 12 1-13 1 15 1-34 1 26 1-7 1 7 1-4 1 1 1-7 1 7 1-11 1 17 1-25 1 22 1-5 1 4 1-4 1 9 1-12 1 4 1-2 1 8 1-8 1 10 1-21 1 20 1-19 1 21 1-18 1 21 1-20 1 24 1-18 1 6 1-7 1 27 1-26 1 3 1-11 1 15 1-14 1 25 1-14 1 12 1-20 1 16 1-13 1 16 1-20 1 18 1-11 1 12 1-11 1 17 1-30 1 25 1-16 1 15 1-27 1 32 1-28 1 31 1-21 1 18 1-13 1 4 1-15 1 12 1-5 1 0 1-5 1 13 1-16 1 17 1-4 1 7 1-15 1 15 1-12 1 5 1-4 1 4 1-2 1 9 1-15 1 14 1-13 1 8 1-5 1 15 1-16 1 5 1-5 1 17 1-11 1 8 1-23 1 23 1-8 1 3 1-8 1 6 1-4 1 13 1-11 1 5 1-7 1 7 1-3 1 3 1-9 1 14 1-7 1 0 1 0 1 10 1-14 1 15 1-12 1 3 1-1 1 7 1-15 1 8 1-11 1 19 1-11 1 19 1-24 1 27 1-25 1 11 1-11 1 16 1-15 1 15 1-7 1 9 1-14 1 10 1-6 1 4 1-5 1 11 1-26 1 37 1-24 1 11 1-21 1 23 1-17 1 19 1-20 1 14 1-4 1 2 1-3 1 7 1-11 1 8 1-13 1 15 1-21 1 23 1-9 1 13 1-9 1 4 1-4 1 5 1-12 1 14 1-18 1 11 1-14 1 28 1-16 1 3 1-1 1 9 1-7 1 11 1-9 1 10 1-9 1 1 1-31 1 35 1-12 1 6 1-2 1-3 1-5 1 17 1-26 1 34 1-17 1 5 1-5 1 9 1-8 1-2 1 2 1 12 1-13 1 9 1-17 1 18 1-13 1 11 1-10 1 4 1 1 1 21 1-31 1 12 1-1 1 10 1-20 1 17 1-8 1 8 1-13 1 12 1-6 1 11 1-18 1 13 1-9 1 16 1-17 1 15 1-21 1 13 1-11 1 18 1-16 1 9 1-7 1 14 1-17 1 14 1-10 1 14 1-18 1 21 1-21 1 10 1 0 1 10 1-18 1 18 1-17 1 20 1-15 1 9 1-12 1 23 1-23 1 9 1-8 1 7 1-3 1 12 1-10 1 10 1-21 1 14 1-19 1 21 1-14 1 18 1-26 1 19 1-4 1 1 1 3 1 7 1-14 1 12 1-8 1 13 1-23 1 20 1-16 1 8 1 0 1 9 1-10 1 8 1-6 1 0 1-9 1 21 1-18 1 11 1-18 1 20 1-15 1 14 1-19 1 17 1-6 1 13 1-13 1 6 1-4 1 7 1-13 1 7 1-1 1 7 1-11 1 13 1-7 1 3 1-7 1 13 1-15 1 18 1-14 1 12 1-15 1 8 1 1 1-4 1-12 1 19 1-14 1 7 1-6 1 19 1-17 1 18 1-19 1 21 1-16 1 0 1-10 1 32 1-25 1 14 1-9 1 8 1-10 1 8 1-22 1 15 1-5 1 7 1-20 1 19 1-7 1 19 1-22 1 21 1-33 1 29 1-13 1 8 1-10 1 11 1-14 1 20 1-18 1 23 1-22 1 20 1-24 1 13 1 0 1 1 1-9 1 12 1-10 1 13 1-9 1 16 1-19 1 21 1-24 1 14 1-13 1 14 1-13 1 12 1-20 1 20 1-7 1 5 1-13 1 13 1-11 1 19 1-19 1 13 1-10 1 7 1-17 1 23 1-12 1 13 1-25 1 21 1-10 1 10 1-14 1 20 1-14 1 9 1-8 1 0 1-3 1 13 1-19 1 25 1-29 1 13 1-5 1 27 1-24 1 11 1-15 1 12 1-13 1 20 1-20 1 29 1-27 1 20 1-25 1 25 1-23 1 13 1 0 1 3 1-11 1 7 1-19 1 18 1-7 1 22 1-15 1 15 1-26 1 15 1-3 1 5 1-8 1 10 1-11 1 3 1-11 1 20 1-19 1 10 1-1 1 4 1-7 1 6 1-9 1 18 1-18 1 8 1-10 1 22 1-20 1 17 1-15 1 8 1-6 1 8 1-12 1 12 1-9 1 15 1-15 1 10 1-16 1 14 1-4 1 8 1-14 1 22 1-23 1 6 1-5 1 11 1-10 1 4 1 2 1 9 1-9 1-2 1-9 1 22 1-11 1 3 1-11 1 15 1-10 1 10 1-9 1 13 1-13 1 6 1-15 1 15 1-6 1 0 1-12 1 20 1-11 1 10 1-12 1 7 1-5 1 5 1-19 1 19 1-8 1 22 1-22 1 18 1-19 1 11 1-8 1 17 1-16 1-1 1-6 1 8 1-15 1 13 1 0 1 8 1-23 1 21 1-7 1 7 1-21 1 11 1-16 1 16 1-11 1 21 1-17 1 4 1-8 1 11 1-17 1 12 1-2 1 1 1-1 1 10 1-15 1 8 1-11 1 23 1-18 1 11 1-7 1 20 1-25 1 20 1-12 1 10 1-7 1 9 1-11 1 18 1-19 1 12 1-8 1 12 1-16 1 14 1-4 1 14 1-17 1 15 1-24 1 30 1-18 1 5 1-3 1 6 1-14 1 19 1-17 1 17 1-10 1-2 1-1 1 8 1-29 1 34 1-9 1 10 1-15 1 14 1-12 1 18 1-17 1 3 1-2 1 4 1-9 1 21 1-26 1 24 1-24 1 22 1-16 1 12 1-15 1 20 1-15 1 8 1-11 1 8 1-6 1 12 1-7 1 11 1-23 1 15 1-20 1 29 1-22 1 16 1-12 1 9 1-8 1 8 1-4 1 13 1-16 1 10 1-7 1 7 1-18 1 32 1-25 1 8 1-8 1 12 1-10 1 6 1-7 1 21 1-27 1 13 1-9 1 14 1-10 1 12 1-19 1 20 1-18 1 16 1-7 1 3 1-6 1 13 1-13 1 6 1-4 1 11 1-20 1 18 1-15 1 12 1-8 1 6 1-14 1 13 1-7 1 4 1 3 1 5 1-19 1 14 1-6 1 7 1-8 1 13 1-20 1 17 1-8 1 5 1-8 1 12 1-10 1 17 1-23 1 13 1-5 1 9 1-16 1 30 1-34 1 17 1-9 1 11 1-7 1 6 1-10 1 8 1-2 1 10 1-14 1 3 1-1 1 11 1-16 1 20 1-14 1 0 1-9 1 21 1-20 1 17 1-15 1 9 1-13 1 18 1-17 1 22 1-13 1 10 1-19 1 22 1-25 1 20 1-9 1 13 1-22 1 15 1-12 1 14 1-24 1 24 1-12 1 10 1-4 1 13 1-20 1 15 1-12 1 16 1-15 1 15 1-18 1 9 1-8 1 10 1-11 1 9 1-1 1 1 1-13 1 13 1-10 1 11 1-16 1 22 1-21 1 19 1-19 1 16 1-10 1 7 1-4 1 8 1-9 1 1 1-5 1 15 1-9 1 3 1-21 1 24 1-15 1 13 1-16 1 13 1-3 1 12 1-8 1-1 1-12 1 16 1-8 1 1 1-4 1 19 1-15 1 17 1-22 1 14 1-14 1 12 1-12 1 10 1-5 1 6 1-9 1 13 1-20 1 17 1-11 1 22 1-24 1 20 1-9 1 11 1-23 1 16 1-4 1 3 1-11 1 24 1-16 1 9 1-17 1 22 1-24 1 7 1-17 1 29 1-20 1 20 1-21 1 18 1-28 1 24 1-6 1 4 1-5 1 22 1-24 1 16 1-12 1 5 1-9 1 9 1-11 1 16 1-16 1 16 1-12 1 3 1-6 1 10 1-12 1 14 1-8 1 4 1 0 1 9 1-19 1 22 1-22 1 12 1-11 1 12 1-13 1 8 1 0 1 8 1-17 1 12 1-4 1 4 1-18 1 26 1-7 1 5 1-17 1 19 1-11 1 20 1-25 1 6 1 0 1 3 1-6 1 4 1 2 1 3 1-8 1 13 1-13 1 13 1-14 1 13 1-13 1 13 1-7 1-1 1-4 1 11 1-11 1 4 1-6 1 6 1-6 1 8 1-5 1 11 1-16 1 22 1-28 1 28 1-22 1 10 1-10 1 8 1-6 1 14 1-25 1 25 1-10 1 16 1-18 1 9 1-8 1 2 1-12 1 15 1-8 1 9 1-6 1 4 1-25 1 23 1 2 1-1 1-3 1 12 1-16 1 18 1-26 1 25 1-18 1 7 1-12 1 24 1-16 1 16 1-18 1 4 1-6 1 6 1-2 1 9 1-8 1 18 1-23 1 10 1-7 1 9 1-11 1 11 1-7 1 12 1-19 1 14 1-13 1 17 1-8 1 0 1 1 1 2 1-15 1 18 1-9 1 9 1-4 1 5 1-14 1 20 1-14 1 10 1-11 1 11 1-16 1 12 1-14 1 25 1-24 1 6 1-2 1 20 1-25 1 15 1-13 1 8 1-6 1 6 1-1 1 3 1-8 1 25 1-22 1 12 1-15 1 13 1-18 1 15 1-12 1 11 1-15 1 14 1-8 1 3 1 0 1 9 1-19 1 17 1-9 1 9 1-7 1 9 1-16 1 13 1-14 1 9 1 1 1 16 1-21 1 10 1-8 1 15 1-20 1 21 1-23 1 13 1-15 1 18 1-14 1 20 1-21 1 9 1-7 1 28 1-33 1 14 1-6 1 3 1-10 1 16 1-16 1 15 1-9 1 14 1-10 1 7 1-18 1 18 1-10 1 12 1-11 1 8 1-12 1 13 1-10 1 1 1 3 1 3 1-4 1 14 1-30 1 30 1-16 1 5 1-24 1 34 1-25 1 19 1-5 1 15 1-20 1 10 1-8 1 13 1-8 1 7 1-13 1 8 1-10 1 6 1-5 1 6 1-6 1 9 1-12 1 19 1-13 1 9 1-16 1 18 1-8 1 3 1-13 1 13 1-12 1 15 1-13 1 11 1-11 1 5 1-9 1 21 1-17 1 16 1-12 1 5 1-9 1 9 1-1 1 6 1-20 1 13 1-4 1 1 1-14 1 26 1-8 1 9 1-22 1 14 1-5 1 16 1-13 1 13 1-24 1 11 1-10 1 13 1-10 1 13 1-17 1 12 1-2 1 3 1-10 1 11 1-5 1 17 1-23 1 10 1-11 1 19 1-23 1 24 1-20 1 17 1-16 1 9 1-12 1 16 1-15 1 14 1-7 1 6 1-15 1 19 1-8 1 5 1-4 1-1 1-8 1 17 1-11 1 16 1-29 1 20 1-13 1 23 1-21 1 8 1-8 1 8 1-5 1 4 1-14 1 16 1-9 1 13 1-8 1 9 1-7 1 0 1-12 1 7 1-3 1 5 1 1 1 4 1-11 1 10 1-11 1 19 1-11 1 13 1-15 1 16 1-16 1 0 1-3 1 10 1-7 1 10 1-8 1 6 1-14 1 14 1-14 1 14 1-17 1 19 1-17 1 17 1-13 1 5 1-10 1 27 1-16 1 2 1-4 1 17 1-33 1 26 1-9 1 20 1-21 1 4 1-3 1 14 1-19 1 10 1-11 1 8 1-9 1 15 1-17 1 19 1-19 1 12 1-2 1-5 1-1 1 9 1-6 1 4 1-18 1 26 1-19 1 18 1-25 1 26 1-19 1 17 1-15 1 9 1-2 1 13 1-21 1 16 1-20 1 13 1 2 1 1 1-10 1 27 1-21 1 1 1-4 1 10 1-14 1 18 1-14 1 5 1-6 1 11 1-6 1 6 1-13 1 26 1-40 1 21 1-2 1 11 1-23 1 14 1-5 1 9 1-17 1 17 1-13 1 24 1-21 1 19 1-13 1 2 1-7 1 9 1-17 1 15 1-7 1 6 1-8 1 14 1-17 1 13 1-9 1 25 1-23 1 8 1-12 1 11 1-8 1 6 1-19 1 19 1-11 1 27 1-34 1 20 1-7 1 24 1-28 1 7 1-5 1 11 1-15 1 14 1-9 1 12 1-17 1 22 1-21 1 21 1-28 1 24 1-9 1 4 1-14 1 16 1-13 1 9 1-4 1 5 1-2 1 3 1-12 1 9 1-4 1 14 1-18 1 13 1-18 1 22 1-15 1 14 1-24 1 16 1-8 1 9 1-21 1 24 1-13 1 14 1-16 1 14 1-6 1 2 1-2 1 16 1-16 1 2 1-5 1 24 1-21 1 0 1-4 1 6 1-8 1 10 1-18 1 21 1-8 1 8 1-11 1 10 1-17 1 18 1-9 1 7 1-11 1 12 1-1 1 1 1-17 1 14 1-18 1 18 1-10 1 11 1-8 1 9 1-9 1 11 1-20 1 18 1-11 1 11 1-9 1 13 1-13 1 7 1-3 1 5 1-13 1 28 1-23 1 8 1-12 1 11 1-18 1 13 1 6 1-6 1-1 1 12 1-13 1 7 1-5 1 2 1-16 1 20 1-8 1 18 1-16 1 4 1-6 1 17 1-34 1 24 1-5 1 7 1-10 1 10 1-7 1 16 1-21 1 19 1-19 1 21 1-19 1 7 1-11 1 15 1-11 1 8 1-4 1 14 1-23 1 19 1-8 1 4 1-6 1 9 1-23 1 25 1-16 1 14 1-14 1 16 1-20 1 9 1-8 1 13 1-13 1 16 1-14 1 8 1-12 1 24 1-30 1 22 1-9 1 13 1-13 1 19 1-19 1 0 1-5 1 14 1-2 1 8 1-14 1 8 1-10 1 13 1-10 1 8 1-12 1 4 1-8 1 22 1-11 1 2 1-1 1 2 1-28 1 25 1-24 1 33 1-10 1 2 1-11 1 16 1-9 1 7 1-9 1 9 1-4 1 10 1-17 1 15 1-14 1 25 1-22 1 8 1-16 1 19 1-8 1 1 1-8 1 11 1-15 1 17 1-11 1 18 1-15 1 4 1-6 1 8 1-11 1 3 1 1 1 12 1-22 1 12 1-6 1 22 1-16 1 2 1-15 1 17 1-10 1 14 1-11 1 9 1-16 1 23 1-30 1 16 1-13 1 12 1-9 1 11 1-10 1 6 1-11 1 20 1-20 1 13 1-12 1 7 1-4 1 5 1-10 1 6 1-8 1 8 1-14 1 21 1-18 1 7 1-8 1 14 1-13 1 10 1-14 1 13 1-5 1 2 1-10 1 7 1-4 1 11 1-11 1 11 1-9 1 5 1-5 1 4 1-8 1 14 1-13 1 21 1-13 1 6 1-5 1 3 1-4 1 6 1-7 1 17 1-17 1 10 1-5 1 13 1-7 1 5 1-4 1 5 1-7 1 5 1-6 1 12 1-7 1 16 1-21 1 7 1-2 1 11 1-6 1 6 1-16 1 19 1-11 1 5 1-8 1 12 1-6 1 2 1-11 1 21 1-15 1 8 1-8 1 17 1-15 1 28 1-28 1 15 1-21 1 17 1-4 1 6 1-7 1 7 1-7 1 5 1-3 1 5 1-14 1 14 1-16 1 28 1-25 1 18 1-21 1 21 1-13 1 6 1-4 1 6 1-13 1 18 1-24 1 21 1-6 1 11 1-27 1 19 1-2 1 2 1-12 1 20 1-17 1 15 1-18 1 16 1-4 1 4 1-7 1 7 1-11 1 9 1-11 1 16 1-11 1 25 1-27 1 17 1-14 1 8 1-18 1 19 1-8 1 17 1-20 1 4 1-10 1 27 1-16 1 2 1-9 1 13 1-19 1 17 1-7 1 6 1-4 1 12 1-14 1 8 1-18 1 16 1-20 1 32 1-17 1 10 1-7 1-1 1 0 1 6 1-3 1 7 1-14 1 20 1-16 1 18 1-17 1 8 1-11 1 8 1-10 1 19 1-25 1 16 1-5 1 1 1-2 1 13 1-14 1 6 1-13 1 10 1-5 1 20 1-20 1 18 1-15 1 2 1 2 1-2 1-6 1 7 1-21 1 24 1-13 1 24 1-19 1 9 1-18 1 21 1-12 1 5 1-3 1 7 1-9 1 6 1-21 1 26 1-15 1 24 1-26 1 20 1-16 1 10 1-11 1 6 1 2 1 5 1-13 1 10 1-10 1 19 1-12 1 5 1-14 1 18 1-18 1 23 1-19 1 7 1-7 1 15 1-11 1 3 1-2 1 1 1-8 1 11 1-4 1 9 1-10 1 15 1-23 1 15 1-22 1 18 1-15 1 19 1-6 1 18 1-25 1 10 1-4 1 9 1-11 1 23 1-25 1 7 1-9 1 10 1 1 1 3 1-11 1 23 1-17 1 3 1-14 1 27 1-27 1 13 1 2 1 7 1-15 1 8 1-7 1 7 1-13 1 21 1-9 1 3 1-9 1 13 1-10 1 6 1-17 1 26 1-11 1 2 1-7 1 13 1-17 1 8 1-5 1 7 1-8 1 7 1-27 1 34 1-18 1 20 1-28 1 20 1-7 1 8 1-5 1 12 1-20 1 24 1-34 1 30 1-24 1 15 1-9 1 9 1-5 1 25 1-37 1 23 1-13 1 7 1-4 1 16 1-22 1 30 1-25 1 3 1 0 1 2 1-4 1 5 1-8 1 24 1-20 1 15 1-18 1 9 1-8 1 3 1 1 1 6 1-13 1 21 1-19 1 9 1-20 1 20 1-8 1 13 1-20 1 22 1-14 1 7 1-16 1 16 1-9 1 12 1-12 1 11 1-19 1 20 1-16 1 20 1-7 1 3 1-19 1 20 1-21 1 15 1-3 1 7 1-20 1 19 1-12 1 28 1-19 1 1 1-9 1 19 1-23 1 15 1-9 1 12 1-27 1 28 1-23 1 18 1-5 1 7 1-11 1 8 1-6 1 18 1-25 1 10 1-3 1 12 1-12 1 19 1-21 1 7 1-1 1 5 1-17 1 17 1-10 1 10 1-9 1 9 1-7 1 7 1-12 1 11 1-13 1 11 1 0 1 0 1-1 1 2 1-5 1 3 1-9 1 9 1-6 1 11 1-12 1 10 1-11 1 9 1-3 1 3 1-9 1 17 1-22 1 18 1-10 1 7 1-8 1 11 1-12 1 10 1-17 1 15 1-7 1 7 1-2 1 12 1-8 1 2 1-8 1 11 1-11 1 14 1-24 1 20 1-19 1 30 1-18 1 5 1-7 1 12 1-32 1 34 1-21 1 30 1-23 1 1 1-13 1 33 1-22 1 14 1-19 1 17 1-17 1 16 1-11 1 11 1-11 1 6 1-21 1 19 1-11 1 17 1-5 1 5 1-18 1 18 1-10 1 6 1-10 1 18 1-18 1 21 1-20 1 29 1-27 1 10 1-8 1 10 1-21 1 20 1-12 1 6 1-10 1 14 1-17 1 17 1-6 1 7 1-27 1 23 1-5 1 5 1-9 1 12 1-4 1 9 1-12 1 21 1-23 1 12 1-15 1 19 1-9 1-2 1-16 1 13 1-16 1 24 1-12 1 13 1-10 1 7 1-10 1 13 1-9 1 9 1-5 1 4 1-14 1 13 1-18 1 14 1-5 1 15 1-18 1 8 1 1 1 3 1-8 1 11 1-13 1 19 1-12 1 8 1-10 1 8 1-19 1 22 1-22 1 12 1-8 1 18 1-12 1 16 1-13 1 6 1-9 1 7 1-6 1 9 1-6 1 5 1-16 1 12 1-30 1 35 1-34 1 35 1-11 1 6 1-11 1 13 1-8 1 17 1-14 1 14 1-21 1 27 1-23 1 6 1-2 1 12 1-21 1 13 1-9 1 12 1-9 1 0 1-8 1 15 1-6 1 11 1-39 1 32 1-14 1 15 1-18 1 23 1-13 1 8 1-10 1 9 1-14 1 12 1-3 1 4 1-7 1 9 1-2 1 21 1-30 1 18 1-14 1 7 1-17 1 15 1-4 1 4 1-8 1 11 1-8 1 3 1-10 1 14 1-14 1 15 1-23 1 20 1-10 1 11 1-9 1 23 1-18 1 8 1-6 1 1 1-17 1 21 1-16 1 11 1-8 1 11 1-4 1 21 1-30 1 13 1-7 1 11 1-24 1 13 1 2 1 5 1-8 1 9 1-12 1 28 1-35 1 20 1-6 1 20 1-26 1 15 1-15 1 12 1-9 1 5 1-9 1 12 1-10 1 12 1-7 1 8 1-23 1 30 1-27 1 13 1-5 1 10 1-9 1 5 1-6 1 19 1-19 1 9 1-3 1 5 1-10 1 18 1-22 1 22 1-27 1 23 1-9 1 4 1-3 1 14 1-17 1 0 1-7 1 19 1-10 1 5 1-8 1 17 1-17 1 5 1-6 1 6 1-5 1 10 1-18 1 36 1-34 1 11 1-15 1 20 1-7 1 3 1-11 1 9 1-6 1 2 1-7 1 10 1-1 1 3 1-18 1 22 1-21 1 18 1-14 1 15 1-3 1 13 1-16 1 7 1-15 1 8 1 0 1 9 1-13 1 9 1-8 1 10 1-4 1-3 1-2 1 8 1 2 1-3 1-3 1 9 1-5 1 10 1-15 1 13 1-11 1 2 1-9 1 18 1-9 1 19 1-20 1 16 1-23 1 10 1-6 1 8 1-16 1 12 1-8 1 9 1-13 1 23 1-14 1 10 1-23 1 31 1-21 1 28 1-24 1 7 1-14 1 20 1-13 1 8 1-10 1 11 1-12 1 6 1-11 1 21 1-16 1 7 1-4 1 2 1-5 1 8 1-8 1 5 1 0 1 13 1-13 1 8 1-17 1 11 1-9 1 7 1-10 1 21 1-18 1 9 1-5 1 20 1-22 1 14 1-16 1 22 1-33 1 21 1-6 1 7 1-3 1 18 1-31 1 19 1-12 1 14 1-7 1 5 1-8 1 4 1-12 1 19 1-16 1 11 1-7 1 17 1-31 1 37 1-24 1 14 1-13 1 6 1-13 1 12 1-7 1 9 1-13 1 24 1-24 1 13 1-11 1 11 1-18 1 27 1-19 1 21 1-20 1 19 1-26 1 17 1-15 1 10 1-4 1 11 1-10 1 11 1-24 1 31 1-18 1 6 1-12 1 11 1-10 1 10 1-7 1 12 1-15 1 13 1-7 1 8 1-12 1 11 1-4 1 11 1-14 1 6 1-2 1 1 1-2 1 5 1-8 1 13 1-11 1 10 1-17 1 8 1-17 1 25 1-10 1 10 1-8 1 3 1-7 1 14 1-21 1 12 1-6 1 4 1-15 1 27 1-10 1 1 1-6 1 6 1-6 1 1 1-1 1 10 1-20 1 28 1-32 1 19 1-10 1 28 1-32 1 14 1-5 1 6 1-6 1 17 1-12 1 8 1-21 1 16 1-17 1 23 1-10 1-1 1 0 1 3 1-16 1 19 1-7 1 8 1-20 1 21 1-9 1 4 1 0 1 1 1-15 1 28 1-25 1 17 1-17 1 19 1-8 1 8 1-28 1 32 1-13 1 21 1-38 1 19 1-5 1 1 1 0 1 11 1-16 1 18 1-21 1 32 1-29 1 10 1-7 1 15 1-11 1 10 1-22 1 20 1-11 1 9 1-9 1 7 1-14 1 23 1-29 1 17 1-11 1 17 1-19 1 15 1-7 1 8 1-9 1 12 1-14 1 20 1-14 1 3 1-14 1 18 1-16 1 16 1-19 1 21 1-18 1 16 1-24 1 31 1-15 1 12 1-18 1 10 1-2 1 14 1-14 1 7 1-6 1 14 1-37 1 22 1-6 1 8 1-18 1 16 1-10 1 20 1-27 1 33 1-30 1 17 1-6 1 17 1-19 1 13 1-19 1 16 1-4 1 4 1-11 1 8 1-6 1 6 1-5 1 12 1-14 1 12 1-17 1 12 1-6 1 13 1-9 1 9 1-11 1 15 1-10 1-1 1-6 1 18 1-23 1 20 1-18 1 16 1-16 1 12 1-6 1 8 1-10 1 6 1-13 1 26 1-17 1 6 1-5 1 15 1-27 1 17 1-2 1 1 1-1 1 8 1-6 1-1 1-7 1 8 1-10 1 13 1-3 1-3 1-2 1 16 1-15 1 11 1-13 1 4 1-6 1 6 1-5 1 7 1-21 1 25 1-8 1 2 1-2 1 4 1-13 1 16 1-11 1 16 1-18 1 8 1-12 1 11 1 1 1 9 1-11 1 2 1-7 1 25 1-31 1 18 1-11 1 10 1-13 1 9 1-1 1 4 1-6 1 11 1-10 1 17 1-15 1 3 1-3 1 4 1-12 1 9 1-10 1 16 1-16 1 12 1-9 1 21 1-23 1 12 1-9 1 25 1-27 1 15 1-14 1 13 1-16 1 16 1-6 1 12 1-16 1 8 1-17 1 17 1-8 1 14 1-12 1 11 1-6 1-1" stroke="#0073E6" stroke-width="2.4"/>
<path transform="translate(134.32 0) scale(0.46072 0.25)" vector-effect="non-scaling-stroke" d="M0 1531l1-8 1 6 1-7 1 20 1-16 1 4 1-13 1 22 1-15 1 6 1-5 1 5 1-4 1 8 1-20 1 18 1-5 1 2 1-5 1 8 1-9 1 5 1 1 1 12 1-18 1 12 1-17 1 19 1-18 1 22 1-19 1 10 1-7 1 8 1-10 1 17 1-10 1 5 1-8 1 17 1-20 1 15 1-9 1 6 1-9 1 13 1-13 1 5 1 3 1 0 1-7 1 5 1-3 1 4 1-8 1 10 1-5 1 8 1-6 1 17 1-21 1 10 1-2 1 1 1-16 1 21 1-11 1 2 1-1 1 13 1-17 1 8 1-14 1 12 1-13 1 15 1-4 1 0 1-4 1 22 1-19 1 20 1-20 1 12 1-22 1 25 1-22 1 26 1-20 1 9 1-4 1-1 1-8 1 11 1-2 1 3 1-14 1 13 1-3 1 20 1-22 1 6 1-3 1 9 1-18 1 31 1-22 1 16 1-16 1 11 1-12 1 12 1-6 1 5 1-6 1 12 1-20 1 16 1-15 1 11 1-16 1 23 1-16 1 20 1-22 1 16 1-32 1 30 1-10 1 14 1-8 1 5 1-6 1 9 1-17 1 27 1-19 1 10 1-9 1 8 1-10 1 11 1-8 1 19 1-34 1 29 1-22 1 13 1-8 1 15 1-14 1 10 1-12 1 10 1-5 1 14 1-12 1 12 1-19 1 13 1-9 1 9 1-10 1 12 1-6 1 6 1-14 1 8 1-6 1 19 1-29 1 24 1-4 1 3 1-19 1 13 1-3 1 13 1-17 1 12 1 0 1-2 1-13 1 12 1-1 1 5 1-1 1 1 1 0 1-2 1 0 1-3 1-1 1 16 1-18 1 20 1-23 1 20 1-14 1 9 1-9 1 10 1-8 1 8 1-15 1 19 1-14 1 13 1-9 1 19 1-22 1 10 1-16 1 24 1-22 1 17 1-14 1 28 1-38 1 26 1-14 1 17 1-14 1 15 1-16 1 29 1-25 1 11 1-15 1 16 1-19 1 22 1-15 1 4 1-2 1 17 1-29 1 15 1 4 1 8 1-20 1 17 1-22 1 28 1-25 1 13 1-11 1 12 1-7 1 17 1-15 1 12 1-10 1 17 1-24 1 20 1-22 1 16 1-12 1 21 1-17 1 10 1-7 1 4 1-5 1 6 1-10 1 8 1-8 1 7 1-4 1 19 1-15 1 4 1-5 1 8 1-7 1 9 1-7 1 10 1-12 1 6 1-13 1 23 1-13 1 6 1-24 1 23 1-9 1 19 1-16 1 12 1-11 1 11 1-16 1 11 1-10 1 9 1 1 1-2 1-13 1 35 1-26 1 10 1-7 1 2 1-2 1 10 1-12 1 24 1-24 1 6 1-4 1 2 1-8 1 9 1-2 1 6 1-6 1 3 1-3 1 8 1-14 1 13 1-16 1 17 1-7 1 3 1-8 1 13 1-15 1 22 1-26 1 17 1-6 1 14 1-20 1 15 1-6 1 12 1-15 1 9 1-14 1 6 1-6 1 15 1-20 1 15 1-9 1 13 1-6 1 8 1-19 1 14 1-10 1 16 1-12 1 5 1-13 1 21 1-28 1 19 1 0 1 13 1-16 1 5 1-8 1 14 1-21 1 28 1-22 1 14 1-18 1 9 1-6 1 13 1-5 1 15 1-20 1 6 1-2 1 6 1-10 1 10 1-12 1 12 1-15 1 21 1-13 1 6 1-3 1 9 1-14 1 7 1-5 1 14 1-23 1 14 1-16 1 19 1-7 1 6 1-9 1 6 1-7 1 13 1-4 1 8 1-18 1 23 1-26 1 22 1-12 1 4 1-9 1 18 1-21 1 20 1-11 1 0 1-6 1 9 1-12 1 8 1-5 1 13 1-8 1 5 1-8 1 5 1-11 1 10 1-18 1 20 1-6 1 10 1-8 1 3 1-1 1 5 1-13 1 13 1-7 1 4 1-5 1 3 1-16 1 27 1-13 1 8 1-19 1 24 1-13 1 8 1-10 1 16 1-16 1 10 1-11 1 13 1-9 1 8 1-8 1 11 1-18 1 15 1-19 1 12 1-4 1 9 1-8 1 9 1-11 1 7 1-19 1 21 1-23 1 21 1-5 1 10 1-17 1 22 1-22 1 11 1-16 1 16 1-7 1 12 1-6 1 2 1-18 1 24 1-20 1 10 1-13 1 25 1-20 1 15 1-12 1 5 1-4 1 12 1-18 1 14 1-5 1-2 1-2 1 5 1-11 1 14 1-9 1 6 1-7 1 8 1-7 1 12 1-20 1 13 1-3 1 13 1-20 1 12 1-16 1 11 1-6 1 10 1-10 1 4 1-8 1 8 1-1 1 1 1-1 1 9 1-19 1 13 1-6 1 6 1-16 1 20 1-17 1 22 1-19 1 6 1-18 1 23 1-15 1 21 1-17 1 13 1-22 1 22 1-10 1 11 1-16 1 5 1-6 1 15 1-14 1 17 1-32 1 28 1-11 1 10 1-13 1 17 1-24 1 17 1-17 1 13 1-9 1 12 1-15 1 13 1-17 1 22 1-11 1 0 1-6 1 17 1-11 1 5 1-10 1 5 1-3 1 6 1-7 1 6 1-6 1 4 1-4 1 4 1-5 1 13 1-10 1 6 1-11 1 19 1-19 1 20 1-23 1 8 1-8 1 7 1-5 1 9 1-10 1 5 1-11 1 11 1-6 1 5 1-11 1 9 1-1 1 0 1-5 1 15 1-24 1 27 1-18 1 5 1-8 1 13 1-19 1 13 1-7 1 19 1-16 1 1 1-5 1 6 1-15 1 12 1-7 1 4 1-6 1 16 1-10 1 1 1-19 1 22 1-11 1 19 1-14 1 3 1-9 1 15 1-13 1 12 1-17 1 16 1-13 1 18 1-20 1 12 1-18 1 17 1-25 1 20 1-9 1 7 1-6 1 9 1-19 1 15 1-6 1 8 1-10 1 5 1-8 1 13 1-6 1 12 1-17 1 6 1-7 1 11 1-9 1 11 1-8 1 0 1-15 1 17 1-1 1 6 1-23 1 14 1-5 1 9 1-18 1 14 1-1 1 9 1-19 1 23 1-26 1 22 1-14 1 8 1-7 1 3 1-6 1 7 1-6 1 7 1-17 1 7 1-10 1 22 1-23 1 15 1-19 1 25 1-14 1 5 1-11 1 15 1-14 1 1 1-6 1 17 1-16 1 8 1-13 1 19 1-22 1 8 1-8 1 11 1-9 1 2 1-10 1 32 1-40 1 18 1-8 1 19 1-23 1 12 1-22 1 14 1-3 1 8 1-11 1 8 1-10 1 5 1-10 1 7 1-6 1 6 1-8 1 17 1-19 1 9 1-2 1 2 1-8 1 1 1-4 1 13 1-4 1 1 1-11 1 23 1-14 1 2 1-5 1 13 1-21 1 16 1-11 1 12 1-12 1 10 1-11 1 10 1-13 1 9 1-8 1 11 1-4 1 6 1-11 1 5 1-5 1 10 1-26 1 28 1-9 1 9 1-7 1-2 1-2 1 14 1-16 1 7 1-11 1 7 1-3 1 6 1-7 1 19 1-17 1 14 1-28 1 18 1-15 1 20 1-15 1 15 1-16 1 6 1-5 1 10 1-6 1 14 1-15 1 5 1-1 1 11 1-12 1 5 1-15 1 14 1-9 1 11 1-7 1 1 1-7 1 13 1-15 1 10 1-4 1 9 1-8 1 8 1-15 1 12 1-10 1 17 1-15 1 14 1-19 1 21 1-24 1 24 1-22 1 17 1-4 1 0 1-12 1 9 1-7 1 6 1-10 1 25 1-21 1 13 1-10 1 12 1-9 1 10 1-16 1 13 1-20 1 26 1-10 1 6 1-15 1 21 1-17 1 11 1-26 1 25 1-5 1 7 1-7 1 4 1-18 1 18 1-3 1 3 1-9 1 10 1-7 1 2 1-4 1 8 1-16 1 25 1-37 1 31 1-19 1 27 1-32 1 18 1-3 1 22 1-23 1 16 1-22 1 15 1-26 1 23 1-6 1 2 1 2 1 1 1-11 1 11 1-12 1 22 1-16 1 11 1-14 1 14 1-20 1 29 1-26 1 16 1-9 1 14 1-27 1 19 1-7 1 10 1-14 1 20 1-11 1 6 1-13 1 13 1-7 1 8 1-11 1 8 1-19 1 27 1-15 1 10 1-8 1 11 1-15 1 10 1-7 1 12 1-11 1 5 1-20 1 40 1-23 1 2 1 2 1 7 1-14 1 5 1 1 1 3 1-23 1 24 1-11 1 11 1-6 1 8 1-16 1 20 1-16 1 15 1-9 1 8 1-8 1 4 1-11 1 19 1-19 1 19 1-25 1 20 1-13 1 5 1 1 1 4 1-7 1 7 1-6 1 9 1-15 1 19 1-14 1 9 1-13 1 20 1-15 1 13 1-23 1 21 1-6 1-3 1-4 1 7 1-13 1 7 1-21 1 19 1-12 1 1 1-11 1 0 1-9 1 6 1-10 1 8 1-1 1 2 1-3 1 15 1-5 1 12 1-6 1 12 1-4 1 9 1-1 1 9 1-6 1 14 1-10 1 5 1-6 1 11 1-16 1 11 1-7 1 12 1-3 1 8 1-14 1 9 1-4 1 12 1-11 1 4 1-8 1 16 1-19 1 14 1-10 1 19 1-16 1 4 1-2 1 11 1-15 1 15 1-10 1 12 1-12 1 18 1-22 1 19 1-12 1 4 1-9 1 7 1 1 1 0 1-6 1 13 1-9 1 13 1-15 1 7 1-6 1 5 1-10 1 15 1-14 1 15 1-28 1 23 1-8 1 10 1-13 1 18 1-7 1 7 1-10 1 13 1-11 1 12 1-4 1 4 1-14 1 20 1-13 1 5 1-2 1 12 1-16 1 18 1-12 1 10 1-11 1 11 1-18 1 15 1-18 1 21 1-9 1 8 1-5 1 4 1-6 1 13 1-18 1 7 1-16 1 27 1-13 1 11 1-18 1 19 1-8 1 1 1-19 1 26 1-5 1 12 1-7 1 4 1-11 1 10 1-13 1 15 1-10 1 18 1-14 1 5 1-14 1 13 1-21 1 17 1-10 1 25 1-24 1 12 1-5 1 13 1-23 1 22 1-7 1 10 1-7 1 9 1-11 1 8 1-9 1 6 1-7 1 13 1-13 1 10 1-8 1 5 1-12 1 19 1-25 1 18 1-3 1 1 1-6 1 13 1-11 1 11 1-5 1 13 1-11 1 2 1 0 1 5 1-13 1 17 1-21 1 18 1-18 1 19 1-12 1 9 1-14 1 18 1-17 1 8 1 0 1 2 1-9 1 23 1-18 1 7 1-13 1 15 1-11 1 10 1-21 1 21 1-4 1 3 1-12 1 14 1-6 1 17 1-23 1 14 1-13 1 15 1-7 1 10 1-15 1 14 1-9 1 12 1-15 1 16 1-13 1 10 1-11 1 26 1-20 1 7 1-11 1 11 1-30 1 26 1-20 1 21 1-3 1 4 1-11 1 14 1-11 1 8 1-7 1 9 1-3 1 3 1-13 1 9 1-13 1 16 1-8 1 14 1-15 1 6 1 5 1 4 1-23 1 40 1-28 1 18 1-19 1 15 1-9 1 6 1-12 1 15 1-7 1 1 1-6 1 14 1-16 1 22 1-17 1 12 1-9 1 4 1-7 1 19 1-23 1 23 1-24 1 26 1-24 1 21 1-15 1 14 1-16 1 7 1-7 1 18 1-18 1 12 1-11 1 13 1-14 1 7 1-2 1 4 1-14 1 17 1-8 1 18 1-14 1 5 1-11 1 16 1-12 1 12 1-12 1 17 1-24 1 9 1-7 1 9 1-10 1 16 1-9 1 18 1-29 1 18 1-13 1 18 1-15 1 12 1-22 1 23 1-12 1 10 1-12 1 14 1-16 1 17 1-9 1 14 1-13 1 9 1-7 1 3 1-5 1 16 1-11 1 6 1-12 1 10 1-9 1 22 1-24 1 14 1-12 1 7 1-1 1 2 1-6 1 8 1-6 1 16 1-23 1 16 1-11 1 25 1-23 1 8 1-7 1 19 1-21 1 14 1-22 1 23 1-7 1 5 1-16 1 12 1-6 1 7 1-7 1 12 1-11 1 20 1-20 1 9 1-6 1 9 1-12 1 9 1-22 1 22 1-13 1 28 1-29 1 13 1-9 1 22 1-19 1 9 1-16 1 14 1-1 1 3 1-9 1 8 1-7 1 9 1-8 1 17 1-22 1 10 1-14 1 22 1-9 1 12 1-18 1 10 1-22 1 21 1-4 1 9 1-17 1 21 1-13 1 2 1-7 1 8 1-7 1 10 1-13 1 12 1-9 1 6 1 0 1 7 1-3 1 11 1-31 1 18 1-4 1 7 1-19 1 24 1-10 1 11 1-7 1 2 1 0 1-3 1-3 1 21 1-24 1 10 1-9 1 13 1-17 1 14 1-7 1 12 1-7 1 10 1-21 1 29 1-16 1-2 1-9 1 13 1-17 1 16 1-16 1 19 1-14 1 11 1-13 1 15 1-9 1 6 1 1 1 6 1-17 1 24 1-31 1 23 1-15 1 20 1-22 1 16 1-17 1 17 1-12 1 4 1-7 1 12 1-5 1 9 1-9 1 6 1-4 1 4 1-7 1 9 1-19 1 11 1 0 1 9 1-16 1 16 1-17 1 14 1-3 1 2 1-3 1 0 1-3 1 4 1 0 1 13 1-22 1 13 1-15 1 13 1-4 1 2 1-1 1 0 1-7 1 9 1-8 1 10 1-6 1 4 1-3 1 7 1-14 1 22 1-18 1 10 1-4 1-2 1-2 1 3 1-11 1 30 1-29 1 17 1-17 1 15 1-6 1 6 1-13 1 11 1-1 1 7 1-14 1 12 1-14 1 10 1-17 1 21 1-15 1 15 1-21 1 16 1-7 1 14 1-11 1 11 1-24 1 15 1-10 1 12 1-12 1 25 1-25 1 18 1-12 1 7 1-19 1 18 1-6 1 6 1-9 1 15 1-18 1 17 1-13 1 11 1-7 1 10 1-4 1 7 1-18 1 12 1-3 1-2 1 3 1 9 1-21 1 16 1-13 1 15 1-6 1 10 1-15 1 9 1-4 1 6 1-14 1 13 1-6 1 6 1-11 1 8 1-4 1 5 1-6 1 9 1 0 1-3 1-14 1 33 1-26 1 13 1-18 1 24 1-23 1 19 1-10 1 6 1-5 1 11 1-10 1 16 1-22 1 19 1-21 1 13 1-5 1 6 1-9 1 9 1-16 1 13 1-3 1 0 1 2 1 6 1-9 1 9 1-13 1 25 1-18 1 4 1-5 1 12 1-18 1 14 1-4 1 0 1-4 1 10 1-15 1 19 1-16 1 8 1-20 1 20 1-2 1 14 1-23 1 16 1-9 1 12 1-17 1 15 1-11 1 8 1-8 1 9 1-8 1 11 1-16 1 15 1-12 1 15 1-10 1 8 1-9 1 14 1-12 1 8 1-15 1 18 1-19 1 9 1 2 1 1 1-14 1 17 1-5 1 12 1-18 1 9 1-7 1 18 1-19 1 12 1-17 1 15 1-11 1 11 1 2 1 3 1-16 1 17 1-15 1 17 1-12 1 7 1-19 1 21 1-12 1 5 1-2 1 12 1-10 1 6 1-23 1 23 1-12 1 18 1-6 1 6 1-25 1 18 1-16 1 17 1-11 1 13 1-10 1 10 1-12 1 11 1-17 1 16 1-10 1 24 1-22 1 11 1-10 1 6 1-8 1 16 1-7 1-1 1 1 1-3 1-1 1 16 1-18 1 13 1-15 1 14 1-13 1 17 1-16 1 12 1-12 1 15 1-18 1 9 1-5 1 24 1-37 1 20 1-4 1 12 1-14 1 5 1-1 1 0 1-6 1 11 1-5 1 17 1-27 1 19 1-18 1 18 1-13 1 5 1 0 1 15 1-16 1 7 1-5 1 3 1-2 1 2 1-14 1 9 1 0 1 6 1-7 1 14 1-25 1 11 1 2 1 6 1-10 1 12 1-15 1 26 1-18 1 2 1-4 1 9 1-15 1 16 1-10 1 2 1-9 1 14 1-12 1 6 1-10 1 13 1-6 1 6 1-15 1 23 1-16 1 13 1-17 1 9 1-7 1 10 1-7 1 11 1-12 1 11 1-10 1 24 1-27 1 14 1-11 1 11 1-14 1 6 1 3 1 6 1-16 1 17 1-25 1 17 1-8 1 16 1-14 1 11 1-24 1 30 1-17 1 14 1-14 1 28 1-29 1 12 1-26 1 26 1-13 1 19 1-15 1 16 1-12 1 6 1-14 1 13 1-12 1 11 1-17 1 14 1 1 1 6 1-10 1 8 1-8 1 14 1-9 1 2 1-3 1 11 1-16 1 14 1-14 1 8 1-14 1 18 1-18 1 18 1-15 1 12 1-6 1 15 1-23 1 18 1-9 1 4 1-5 1 9 1-9 1 18 1-16 1 4 1-9 1 11 1-2 1-2 1-12 1 24 1-17 1 13 1-10 1 5 1-13 1 14 1-5 1 3 1-3 1 5 1-11 1 16 1-10 1 1 1-1 1 19 1-19 1 22 1-29 1 14 1-10 1 13 1-12 1 8 1-11 1 15 1-9 1 23 1-18 1 1 1-9 1 10 1-7 1 1 1-2 1 10 1-1 1 10 1-29 1 26 1-18 1 6 1-12 1 15 1-3 1 10 1-17 1 12 1-5 1 1 1-2 1 2 1-2 1 5 1-17 1 33 1-27 1 17 1-21 1 20 1-15 1 3 1 6 1 0 1-9 1 15 1-21 1 18 1-18 1 20 1-7 1 5 1-8 1 20 1-24 1 8 1-13 1 21 1-9 1 2 1-7 1 5 1 2 1 5 1-16 1 14 1-10 1 13 1-19 1 11 1-3 1 3 1-13 1 13 1-8 1 9 1-13 1 16 1-11 1 2 1-4 1 10 1-8 1 7 1-2 1 11 1-23 1 12 1-11 1 16 1-10 1 2 1-8 1 5 1-7 1 5 1-7 1 7 1-10 1 8 1-6 1 7 1-16 1 13 1-8 1 8 1-11 1 14 1-8 1 5 1-4 1 9 1-6 1 4 1-8 1 10 1-7 1 12 1-15 1 15 1-4 1 4 1-11 1 11 1-5 1 16 1-22 1 16 1-11 1 14 1-13 1 13 1-6 1 5 1-7 1 8 1-9 1 6 1-9 1 17 1-17 1 17 1-19 1 18 1-10 1 17 1-29 1 20 1-9 1 19 1-28 1 18 1-8 1 4 1-5 1 9 1-17 1 24 1-19 1 16 1-12 1 22 1-25 1 9 1-9 1 21 1-13 1 17 1-19 1 6 1-4 1 10 1-23 1 14 1-17 1 25 1-15 1 22 1-21 1 9 1-11 1 11 1-2 1 8 1-10 1 6 1-8 1 4 1-7 1 9 1-6 1 10 1-11 1 19 1-22 1 13 1-16 1 15 1-8 1 6 1-1 1 11 1-14 1 7 1-17 1 19 1-16 1 16 1-6 1 10 1-32 1 22 1-4 1 8 1-6 1 0 1-11 1 23 1-12 1 5 1-12 1 18 1-18 1 8 1-3 1-1 1-1 1 6 1-2 1 3 1-10 1 11 1-5 1 2 1-15 1 27 1-23 1 11 1-5 1 8 1-8 1 12 1-9 1 2 1-5 1 5 1-3 1 13 1-21 1 19 1-11 1 13 1-12 1 9 1-18 1 11 1-6 1 13 1-11 1 8 1-16 1 9 1 3 1 5 1-19 1 16 1-6 1 7 1-9 1 8 1-18 1 26 1-15 1 11 1-12 1 20 1-13 1 3 1-8 1 18 1-21 1 8 1-9 1 13 1-14 1 10 1-3 1 5 1-5 1 1 1-13 1 21 1-9 1 13 1-17 1 9 1-24 1 22 1-10 1 6 1-5 1 9 1-12 1 13 1-8 1 6 1-4 1 6 1-11 1 12 1-5 1 7 1-14 1 12 1-4 1 15 1-18 1 14 1-14 1 6 1-8 1 8 1-13 1 16 1-10 1 10 1-4 1 14 1-24 1 9 1-8 1 20 1-28 1 17 1-6 1 12 1-22 1 18 1-8 1 7 1-5 1 14 1-19 1 13 1-9 1 10 1-9 1 1 1-1 1 7 1-12 1 11 1-18 1 18 1-12 1 11 1-7 1 9 1-14 1 13 1-20 1 21 1-8 1 6 1-6 1 13 1-12 1 8 1-15 1 19 1-9 1 3 1-27 1 34 1-16 1 12 1-11 1 5 1-1 1 3 1-15 1 17 1-4 1 1 1 3 1-1 1-16 1 13 1 1 1-2 1-11 1 18 1-7 1 11 1-23 1 24 1-23 1 15 1-11 1 8 1-7 1 16 1-11 1 11 1-14 1 12 1-15 1 16 1-11 1 13 1-18 1 27 1-29 1 16 1-6 1-3 1-7 1 8 1-3 1 12 1-16 1 21 1-13 1 4 1-15 1 17 1-18 1 16 1-10 1 19 1-13 1 4 1-5 1 14 1-16 1 5 1-7 1 8 1-7 1 10 1-4 1 2 1-6 1 9 1-15 1 13 1-17 1 17 1-4 1 3 1-8 1 12 1-8 1 19 1-23 1 13 1-14 1 8 1-11 1 9 1-3 1 10 1-17 1 15 1-10 1 15 1-33 1 23 1-1 1 8 1-11 1 5 1-2 1 5 1-26 1 35 1-15 1 0 1-1 1 5 1-7 1 6 1-23 1 23 1-10 1 16 1-24 1 28 1-15 1 14 1-19 1 12 1-1 1 3 1-18 1 13 1-11 1 22 1-32 1 23 1-10 1 12 1-8 1 13 1-11 1 3 1-7 1 10 1-17 1 23 1-20 1 12 1-10 1 10 1-12 1 19 1-13 1 17 1-19 1 11 1-14 1 10 1-9 1 9 1-18 1 20 1-14 1 13 1-8 1 11 1-9 1 17 1-21 1 7 1-11 1 11 1-3 1 7 1-12 1 32 1-31 1 29 1-33 1 14 1-5 1 8 1-15 1 10 1-10 1 19 1-11 1 11 1-18 1 10 1-14 1 20 1-9 1 11 1-19 1 25 1-16 1 4 1-3 1-2 1 1 1-2 1-4 1 14 1-10 1 9 1-17 1 11 1-2 1 5 1-12 1 7 1-5 1 14 1-21 1 15 1-5 1 5 1-2 1 3 1-7 1 13 1-12 1 10 1-9 1 16 1-16 1 3 1-2 1 18 1-25 1 16 1-9 1 9 1-8 1 4 1-7 1 11 1-10 1 2 1 1 1 8 1-14 1 18 1-18 1 16 1-16 1 14 1-21 1 19 1-15 1 12 1-7 1 8 1-1 1 0 1-12 1 21 1-24 1 15 1-3 1 10 1-14 1 18 1-18 1 8 1-15 1 12 1-5 1 4 1 0 1 4 1-8 1 5 1-1 1 5 1-12 1 16 1-22 1 13 1-12 1 28 1-23 1 13 1-18 1 26 1-20 1 13 1-17 1 16 1-11 1 16 1-21 1 10 1-6 1 12 1-7 1 18 1-19 1 10 1-14 1 5 1-12 1 15 1-6 1 10 1-11 1 7 1-17 1 23 1-17 1 10 1-3 1 4 1-6 1 10 1-8 1 7 1-4 1 5 1-6 1 4 1-11 1 22 1-28 1 15 1 1 1 2 1-19 1 20 1-9 1 9 1-10 1 22 1-33 1 24 1-14 1 11 1-7 1 3 1-14 1 15 1-9 1 14 1-14 1 11 1-8 1 14 1-12 1 3 1-16 1 17 1-8 1 9 1-4 1 15 1-17 1 5 1-13 1 21 1-11 1 6 1-15 1 20 1-11 1 15 1-17 1 13 1-14 1 5 1-3 1 2 1-6 1 17 1-20 1 8 1 2 1 9 1-21 1 10 1-8 1 13 1-23 1 19 1-9 1 7 1-14 1 20 1-9 1 4 1-6 1 11 1-10 1 4 1-8 1 11 1-11 1 15 1-17 1 18 1-12 1 10 1-6 1 6 1-9 1 7 1-10 1 18 1-21 1 27 1-23 1 6 1-1 1 9 1-13 1 3 1 1 1 3 1-7 1 3 1 0 1 0 1-10 1 23 1-12 1 8 1-13 1 13 1-23 1 23 1-7 1 2 1-11 1 15 1-3 1 3 1-5 1 8 1-13 1 3 1-10 1 12 1-10 1 15 1-21 1 17 1-9 1 10 1-12 1 18 1-13 1 8 1-10 1 8 1-17 1 22 1-17 1 15 1-14 1 12 1-11 1 10 1-5 1 9 1-29 1 35 1-26 1 14 1-9 1 10 1-7 1 5 1-6 1 14 1-9 1 3 1-8 1 11 1-4 1 7 1-21 1 12 1-2 1 4 1-3 1 9 1-7 1 9 1-16 1 15 1-9 1 2 1-1 1 2 1 0 1-3 1-5 1 8 1-3 1 11 1-18 1 14 1-12 1 21 1-22 1 13 1-29 1 28 1-15 1 9 1 2 1 8 1-20 1 8 1 5 1 5 1-16 1 13 1-16 1 19 1-16 1 11 1-4 1 9 1-26 1 38 1-21 1 4 1 0 1 7 1-11 1 6 1-9 1 6 1-1 1 11 1-14 1 5 1-13 1 12 1-9 1 13 1-17 1 14 1-4 1 2 1-13 1 18 1-7 1 3 1-4 1 2 1-7 1 19 1-17 1 6 1-7 1 15 1-11 1 8 1-17 1 19 1-9 1 4 1-8 1 7 1-7 1 7 1-4 1 12 1-16 1 8 1-9 1 6 1-1 1 10 1-10 1 3 1-8 1 18 1-15 1 11 1-13 1 9 1-12 1 10 1-7 1 25 1-26 1 16 1-9 1 3 1-5 1 7 1-5 1 3 1-6 1 13 1-22 1 21 1-25 1 18 1-8 1 8 1-4 1 5 1-4 1 0 1-18 1 21 1-7 1 9 1-14 1 18 1-17 1 21 1-19 1 11 1-13 1 17 1-13 1 9 1-22 1 21 1-11 1 12 1-14 1 16 1-20 1 28 1-19 1 6 1-4 1 10 1-10 1 11 1-17 1 8 1-3 1 17 1-22 1 10 1-10 1 11 1-6 1 21 1-20 1 5 1-17 1 21 1-12 1 19 1-13 1-1 1-6 1 8 1-1 1-5 1 4 1 7 1-16 1 20 1-16 1 12 1-4 1-2 1-11 1 18 1-13 1 10 1-12 1 10 1-9 1 13 1-10 1 1 1 0 1 6 1-5 1 5 1-6 1 7 1-5 1 14 1-16 1 7 1-11 1 11 1-9 1 11 1-7 1 7 1-9 1 6 1-19 1 26 1-14 1 13 1-16 1 6 1-5 1 7 1-18 1 18 1-12 1 12 1-5 1 6 1-6 1 13 1-15 1 11 1-19 1 20 1-11 1 4 1-6 1 17 1-14 1 10 1-12 1 15 1-11 1 6 1-17 1 14 1-10 1 13 1-9 1 12 1-23 1 14 1-15 1 29 1-18 1 8 1-10 1 11 1-5 1 11 1-18 1 7 1-1 1 4 1-6 1 5 1-9 1 16 1-15 1 4 1-4 1 11 1-16 1 14 1-9 1 11 1-8 1 12 1-19 1 23 1-22 1 15 1-13 1 3 1-4 1 7 1-11 1 13 1-9 1 3 1-6 1 10 1-11 1 10 1-9 1 16 1-28 1 19 1-15 1 13 1-8 1 2 1-13 1 16 1-6 1 4 1-9 1 4 1-2 1 12 1-16 1 8 1-9 1 13 1-9 1 14 1-14 1 7 1-5 1 8 1-3 1 10 1-16 1 11 1-8 1 12 1-9 1 5 1-8 1 18 1-18 1 12 1-13 1 20 1-17 1 12 1-1 1 2 1-11 1 16 1-10 1 8 1-15 1 21 1-14 1 6 1-5 1 11 1-17 1 18 1-5 1 2 1-13 1 19 1-14 1 21 1-22 1 7 1-4 1 6 1-4 1 2 1-1 1 12 1-25 1 22 1-5 1 8 1-19 1 20 1-15 1 11 1-10 1 9 1-5 1 4 1-6 1 16 1-10 1 2 1-3 1 12 1-21 1 17 1-14 1 16 1-12 1 17 1-20 1 5 1-2 1 6 1-2 1 4 1-8 1 4 1-4 1 4 1-1 1 1 1-1 1 13 1-15 1 9 1-8 1 5 1-5 1 5 1-10 1 9 1-13 1 15 1-9 1 17 1-11 1 10 1-13 1 6 1-7 1 20 1-16 1 5 1-4 1 2 1-2 1 2 1-10 1 18 1-30 1 27 1-17 1 26 1-19 1 5 1-5 1 6 1-3 1 0 1 0 1 6 1-10 1 8 1-5 1 3 1-3 1 12 1-12 1 6 1-8 1 11 1-16 1 17 1-12 1 6 1 0 1-2 1-11 1 25 1-28 1 20 1-17 1 10 1-1 1 12 1-26 1 23 1-13 1 14 1-12 1 13 1-12 1 9 1-8 1 10 1-18 1 14 1-5 1 10 1-14 1 13 1-14 1 16 1-9 1 5 1-15 1 18 1-12 1 12 1-9 1 12 1-19 1 18 1-17 1 14 1-15 1 12 1-10 1 10 1-6 1 16 1-18 1 18 1-20 1 14 1-12 1 5 1 1 1 17 1-18 1 11 1-12 1 6 1-15 1 16 1-16 1 19 1-25 1 19 1-7 1 13 1-9 1 15 1-19 1 10 1-17 1 18 1-10 1 6 1-2 1 10 1-12 1 8 1-10 1 4 1-9 1 18 1-10 1 11 1-11 1 8 1-15 1 15 1-10 1 12 1-16 1 12 1-4 1 4 1-18 1 14 1-4 1 6 1-4 1 6 1-10 1 13 1-11 1 7 1-11 1 11 1-9 1 6 1-5 1 10 1-11 1 11 1-5 1 6 1-15 1 18 1-13 1 5 1-5 1 13 1-14 1 11 1-11 1 22 1-20 1 9 1-26 1 29 1-16 1 19 1-26 1 21 1-4 1-4 1-6 1 9 1 0 1 2 1-9 1 14 1-20 1 22 1-10 1-2 1 2 1 5 1-9 1 9 1-4 1 11 1-17 1 7 1-2 1 7 1-14 1 10 1-7 1 8 1-13 1 12 1-11 1 9 1-8 1 16 1-14 1 18 1-11 1 7 1-19 1 22 1-10 1 2 1-5 1 9 1-13 1 8 1-3 1 5 1-13 1 7 1 1 1 10 1-14 1 14 1-14 1 19 1-13 1 5 1-6 1 6 1-6 1 11 1-14 1 2 1-8 1 20 1-9 1 7 1-16 1 13 1-1 1 3 1-11 1 14 1-17 1 24 1-24 1 14 1-18 1 26 1-22 1 10 1-20 1 23 1-12 1 16 1-9 1 8 1-14 1 12 1-14 1 19 1-15 1 17 1-17 1 6 1-2 1 9 1-9 1 6 1-13 1 12 1-8 1 13 1-16 1 9 1-4 1 9 1-13 1 10 1-7 1 6 1-14 1 18 1-17 1 18 1-10 1 10 1-16 1 14 1-6 1 5 1-13 1 9 1-13 1 11 1-4 1 6 1-6 1 6 1-16 1 12 1 2 1 3 1-4 1 17 1-32 1 22 1-16 1 14 1-13 1 14 1-8 1 5 1-9 1 11 1-3 1 6 1-6 1 6 1-13 1 16 1-19 1 12 1-7 1 14 1-9 1 2 1-3 1 10 1-19 1 12 1-6 1 10 1-6 1 10 1-14 1 14 1-22 1 14 1-10 1 17 1-13 1 11 1-14 1 15 1-16 1 9 1-6 1 7 1-2 1 8 1-19 1 20 1-9 1 11 1-20 1 15 1-4 1 0 1-6 1 16 1-23 1 18 1-7 1 7 1-7 1 11 1-23 1 23 1-18 1 16 1-20 1 19 1-11 1 8 1-1 1-4 1 1 1 15 1-17 1 10 1-15 1 11 1-13 1 23 1-15 1 10 1-9 1 12 1-26 1 27 1-15 1 11 1-12 1 8 1 0 1 2 1-8 1 5 1-4 1 8 1-15 1 20 1-15 1 7 1-6 1 15 1-15 1 5 1-3 1 4 1-2 1 20 1-28 1 6 1-3 1 7 1-9 1 18 1-16 1 5 1-1 1 9 1-18 1 17 1-11 1 9 1-11 1 5 1-10 1 24 1-11 1 8 1-15 1 5 1-3 1 3 1-3 1 8 1-9 1 5 1-11 1 22 1-20 1 12 1-12 1 14 1-13 1 13 1-10 1 18 1-21 1 15 1-16 1 19 1-15 1 15 1-30 1 29 1-8 1 12 1-11 1 6 1-7 1 1 1-3 1 5 1-9 1 16 1-32 1 26 1-18 1 28 1-15 1 19 1-28 1 13 1-7 1 11 1-9 1 4 1 0 1 13 1-17 1 4 1-13 1 13 1-17 1 22 1-9 1 1 1-16 1 24 1-11 1 9 1-9 1 9 1-12 1 18 1-10 1 1 1-7 1 14 1-19 1 19 1-15 1 16 1-24 1 19 1-9 1 10 1-13 1 11 1-5 1 7 1-10 1 10 1-13 1 24 1-18 1 4 1-9 1 9 1-3 1 11 1-11 1 2 1-18 1 25 1-13 1 10 1-5 1 4 1-4 1 11 1-11 1 0 1 0 1 14 1-17 1 8 1-6 1 15 1-14 1 10 1-13 1 5 1-10 1 19 1-18 1 17 1-10 1 2 1-4 1 4 1-8 1 7 1 0 1 5 1-6 1 5 1-7 1 15 1-17 1 13 1-11 1 14 1-19 1 17 1-8 1 5 1-10 1 9 1-12 1 16 1-17 1 14 1-14 1 11 1-7 1 11 1-10 1 13 1-16 1 13 1-8 1 5 1-5 1 2 1 0 1 6 1-9 1 19 1-23 1 17 1-16 1 12 1-4 1 6 1-11 1 9 1-8 1 9 1-13 1 19 1-17 1 6 1-3 1 3 1-10 1 22 1-26 1 21 1-18 1 16 1-13 1 11 1-10 1 12 1-12 1 12 1-13 1 11 1-19 1 17 1-9 1 14 1-23 1 18 1-3 1 10 1-10 1 9 1-11 1 6 1-6 1 7 1-11 1 16 1-19 1 21 1-16 1 8 1-13 1 17 1-11 1 6 1-6 1 13 1-9 1 2 1-10 1 11 1-8 1 21 1-18 1 23 1-28 1 9 1-10 1 13 1-8 1 0 1-4 1 22 1-18 1 19 1-14 1 5 1-9 1 16 1-21 1 7 1-13 1 18 1-12 1 15 1-11 1 6 1-10 1 14 1-10 1 22 1-24 1 12 1-5 1-2 1-3 1 7 1-15 1 23 1-18 1 10 1-2 1 16 1-26 1 13 1-8 1 12 1-13 1 21 1-15 1 3 1-6 1 6 1-5 1 5 1-8 1 12 1-15 1 21 1-13 1 8 1-20 1 21 1-15 1 12 1-11 1 4 1-4 1 7 1-14 1 14 1-10 1 19 1-10 1 0 1-2 1 13 1-12 1 4 1-8 1 12 1-9 1 7 1-16 1 15 1-3 1 4 1-9 1 7 1-7 1 7 1-10 1 7 1-6 1 10 1-12 1 21 1-18 1 13 1-8 1 2 1-13 1 9 1-3 1 8 1-3 1 5 1-8 1 6 1-7 1 11 1-9 1 11 1-12 1 8 1-9 1 8 1-8 1 8 1-12 1 11 1-13 1 12 1-2 1 1 1-3 1 21 1-27 1 17 1-10 1 18 1-14 1 21 1-26 1 13 1-12 1 2 1-14 1 20 1-11 1 9 1-4 1 5 1 0 1 0 1-6 1 5 1-12 1 11 1-6 1 11 1-9 1 14 1-19 1 16 1-11 1 4 1-9 1 17 1-11 1 13 1-12 1 5 1-4 1 11 1-16 1 6 1 0 1 5 1-7 1 7 1-19 1 20 1-7 1-1 1-2 1 9 1-10 1 12 1-24 1 23 1-11 1 10 1-13 1 9 1-10 1 10 1-5 1 19 1-19 1 5 1-7 1 17 1-16 1 7 1-4 1 12 1-10 1 10 1-21 1 17 1-13 1 19 1-21 1 16 1-10 1 5 1-15 1 22 1-10 1 8 1-9 1 8 1-10 1 10 1-11 1 9 1-5 1 6 1-4 1 9 1-16 1 17 1-12 1 0 1 3 1 8 1-11 1 9 1-10 1 4 1-3 1 2 1-14 1 17 1-18 1 20 1-23 1 23 1-11 1 11 1-4 1 3 1-7 1-3 1-4 1 27 1-17 1 13 1-25 1 20 1-12 1 9 1-6 1 10 1-11 1 17 1-15 1 3 1-7 1 6 1-5 1 5 1-4 1 4 1 0 1 8 1-23 1 19 1-9 1 7 1-9 1 14 1-15 1 15 1-14 1 7 1 1 1 3 1-8 1 10 1-7 1 9 1-29 1 24 1-10 1 9 1-8 1 13 1-8 1 3 1-8 1 6 1-8 1 11 1-7 1 9 1-14 1 11 1-11 1 16 1-5 1 0 1-8 1 23 1-22 1 13 1-25 1 16 1 4 1-1 1-5 1 10 1-16 1 12 1-14 1 23 1-14 1 10 1-10 1 17 1-16 1 7 1-12 1 7 1-12 1 17 1-13 1 6 1 1 1 12 1-14 1 3 1-15 1 39 1-29 1 11 1-15 1 13 1-8 1 12 1-9 1 11 1-12 1 5 1-2 1 10 1-20 1 6 1-5 1 13 1-19 1 17 1-8 1 11 1-25 1 32 1-25 1 13 1-10 1 11 1-3 1 9 1-10 1 10 1-6 1 0 1-3 1 11 1-18 1 25 1-27 1 22 1-24 1 20 1-13 1 12 1-21 1 21 1-18 1 17 1-13 1 24 1-26 1 21 1-12 1 5 1-10 1 10 1-12 1 9 1-3 1 5 1-9 1 8 1-11 1 15 1-12 1 15 1-13 1 9 1-24 1 25 1-8 1 8" stroke="#00B068" stroke-width="2.4"/>
<path transform="translate(134.32 0) scale(0.46072 0.25)" vector-effect="non-scaling-stroke" d="M0 1167l1-3 1 3 1-5 1 6 1-10 1 10 1-7 1 8 1-4 1 0 1-4 1 9 1-9 1 7 1-8 1 9 1-9 1 10 1-14 1 11 1-5 1 5 1-4 1 4 1-3 1 1 1-7 1 10 1-2 1 0 1-4 1 5 1-9 1 12 1-7 1 6 1-6 1 4 1-5 1 11 1-10 1 5 1-7 1 4 1-1 1 5 1-4 1 9 1-11 1 11 1-8 1 9 1-16 1 12 1-11 1 9 1-3 1 6 1-10 1 9 1-10 1 5 1-1 1 9 1-13 1 10 1-8 1 7 1-7 1 3 1-6 1 9 1-5 1 9 1-11 1 7 1-3 1 0 1 0 1 6 1-10 1 6 1-5 1 6 1-8 1 5 1-3 1 5 1-6 1 4 1-1 1 6 1-9 1 6 1-5 1 4 1-8 1 9 1-4 1 5 1-5 1 7 1-10 1 4 1-3 1 13 1-12 1 6 1-4 1 5 1-5 1 4 1-4 1 6 1-11 1 10 1-15 1 13 1-4 1 6 1-8 1 14 1-11 1 3 1-3 1 6 1-9 1 8 1-7 1 5 1-1 1 4 1-7 1 6 1-3 1 1 1-2 1 3 1-2 1 3 1-10 1 9 1-5 1 7 1-10 1 8 1-14 1 13 1-4 1 4 1-1 1 0 1-7 1 16 1-11 1 5 1-6 1 6 1-4 1 9 1-9 1 5 1-6 1 6 1-4 1 9 1-11 1 7 1-6 1 4 1-7 1 6 1-5 1 10 1-10 1 6 1-3 1 5 1-11 1 8 1-5 1 9 1-10 1 6 1-3 1 3 1-1 1 1 1-9 1 8 1-1 1 5 1-3 1 2 1-2 1 2 1-6 1 9 1-9 1 4 1-3 1 7 1-11 1 8 1-1 1 1 1-7 1 10 1-10 1 8 1-6 1 5 1-2 1 1 1-3 1 2 1 0 1 7 1-11 1 12 1-9 1 6 1-5 1 3 1-4 1 8 1-9 1 8 1-3 1 0 1-5 1 4 1-2 1 4 1-4 1 6 1-5 1 0 1-5 1 9 1-5 1 6 1-10 1 13 1-11 1 12 1-13 1 14 1-14 1 9 1-10 1 10 1-6 1 4 1-11 1 11 1-6 1 3 1 0 1 4 1-4 1 4 1-8 1 7 1-3 1 3 1-6 1 6 1-7 1 8 1-4 1 6 1-10 1 6 1 0 1 4 1-7 1 5 1-6 1 8 1-8 1 10 1-10 1 10 1-11 1 8 1-4 1 4 1-3 1 2 1-8 1 14 1-14 1 9 1-9 1 8 1-3 1 4 1-10 1 8 1-8 1 14 1-12 1 7 1-5 1 4 1-6 1 6 1-3 1 13 1-12 1 8 1-15 1 11 1-7 1 4 1-2 1 4 1-7 1 6 1-7 1 19 1-17 1 7 1-4 1 6 1-9 1 10 1-8 1 4 1-3 1 2 1-4 1 7 1-3 1 1 1-1 1 1 1-4 1 6 1-7 1 14 1-10 1 4 1-6 1 6 1-7 1 4 1-7 1 9 1-5 1 3 1-4 1 5 1-3 1 6 1-5 1 4 1-8 1 11 1-8 1 6 1-4 1 2 1-3 1 3 1-2 1 5 1-8 1 4 1-4 1 10 1-7 1 4 1-10 1 10 1-6 1 6 1-10 1 11 1-4 1 3 1-4 1 6 1-7 1 4 1 1 1 4 1-11 1 12 1-9 1 10 1-11 1 4 1-4 1 3 1-4 1 5 1-6 1 4 1 1 1 0 1-3 1 6 1-7 1 12 1-13 1 5 1-5 1 3 1-1 1 2 1-1 1 4 1-6 1 6 1-4 1 7 1-10 1 6 1-6 1 7 1-9 1 8 1-6 1 5 1-5 1 3 1-5 1 7 1-1 1 2 1-2 1-1 1-2 1 2 1-11 1 16 1-11 1 13 1-13 1 11 1-15 1 10 1-6 1 5 1-8 1 10 1 0 1 3 1-5 1 6 1-7 1 4 1-6 1 12 1-9 1 7 1-7 1 2 1-6 1 13 1-14 1 8 1-4 1 4 1-5 1 6 1-3 1 0 1-3 1 5 1-7 1 10 1-8 1 3 1-3 1 8 1-12 1 9 1-7 1 7 1-3 1 1 1-4 1 5 1-5 1 7 1-5 1 5 1-7 1 7 1-9 1 8 1-4 1 9 1-16 1 11 1-12 1 12 1-8 1 9 1-10 1 10 1-6 1 4 1-4 1 6 1-6 1 4 1-10 1 8 1-4 1 8 1-6 1 2 1-14 1 16 1-12 1 12 1-4 1 3 1-4 1 4 1-5 1 10 1-9 1 2 1-9 1 14 1-11 1 9 1-7 1 4 1-3 1 4 1-5 1 6 1-3 1 9 1-10 1 2 1-3 1 3 1-8 1 5 1 2 1 0 1-10 1 10 1-4 1 5 1-5 1 6 1-4 1 4 1-4 1 4 1-3 1 3 1-3 1 5 1-8 1 5 1 0 1 0 1-1 1 2 1-3 1 6 1-7 1 3 1-2 1 9 1-15 1 6 1-6 1 12 1-14 1 10 1-9 1 18 1-11 1 4 1-6 1 8 1-7 1 4 1-3 1 0 1-2 1 5 1-6 1 4 1-3 1 2 1-4 1 9 1-6 1 0 1-7 1 11 1-4 1 6 1-10 1 6 1-2 1 7 1-9 1 4 1-4 1 2 1-2 1 4 1-7 1 12 1-9 1 8 1-10 1 3 1-2 1 6 1-5 1 7 1-8 1 4 1-3 1 5 1-6 1 1 1-6 1 7 1-5 1 7 1-7 1 6 1-9 1 16 1-9 1-1 1-8 1 10 1-2 1 9 1-12 1 8 1-5 1 4 1-5 1 10 1-17 1 9 1-4 1 7 1-10 1 11 1-11 1 10 1-7 1 4 1-8 1 10 1-6 1 5 1-4 1 8 1-9 1 5 1-6 1 8 1-15 1 15 1-11 1 7 1-4 1 2 1-1 1 6 1-5 1 0 1-2 1 7 1-6 1 3 1-4 1 6 1-6 1 5 1-12 1 12 1-5 1 4 1-4 1 2 1-3 1 3 1-1 1 3 1-7 1 8 1-5 1 7 1-10 1 12 1-18 1 14 1-11 1 16 1-18 1 12 1-6 1 8 1-6 1 3 1-9 1 11 1-8 1 2 1-4 1 10 1-10 1 6 1-2 1 6 1-12 1 13 1-8 1 3 1-6 1 5 1-3 1 4 1-5 1 5 1-4 1 4 1-9 1 13 1-15 1 8 1-2 1 8 1-9 1 10 1-9 1 8 1-8 1 3 1-6 1 3 1-2 1 3 1-4 1 6 1-6 1 4 1-2 1 11 1-13 1 5 1-6 1 10 1-11 1 9 1-8 1 8 1-5 1 3 1-4 1 5 1-8 1 3 1-5 1 12 1-9 1 5 1-6 1 10 1-8 1 8 1-10 1 6 1-5 1 5 1-9 1 10 1-7 1 2 1-1 1 6 1-9 1 4 1-8 1 11 1-9 1 7 1-6 1 6 1-5 1 16 1-19 1 6 1-3 1 8 1-13 1 11 1-10 1 9 1-4 1 5 1-6 1 3 1-3 1 4 1-11 1 10 1-2 1 4 1-6 1 4 1-2 1 2 1-6 1 8 1-8 1 7 1-4 1 3 1 0 1 1 1-4 1 2 1-1 1 2 1-4 1 4 1-7 1 8 1-5 1 8 1-9 1 6 1-6 1 4 1-5 1 9 1-7 1 5 1-8 1 13 1-7 1 3 1-9 1 8 1-5 1 7 1-7 1 9 1-10 1 8 1-9 1 6 1-13 1 13 1-7 1 7 1-8 1 11 1-7 1 3 1-4 1 5 1-6 1 6 1-5 1 3 1-5 1 6 1-3 1 4 1-6 1 6 1-8 1 13 1-12 1 5 1-8 1 12 1-7 1 7 1-8 1 16 1-19 1 11 1-16 1 15 1-5 1 5 1-6 1 5 1-5 1 1 1-1 1 6 1-4 1 6 1-7 1 5 1-7 1 10 1-7 1 2 1-6 1 8 1-4 1 2 1-8 1 11 1-6 1 2 1-3 1 10 1-15 1 14 1-8 1 5 1-8 1 7 1-3 1 10 1-15 1 6 1-2 1 3 1-3 1 5 1-5 1 3 1-5 1 16 1-13 1 9 1-16 1 6 1 1 1 2 1-3 1 9 1-17 1 17 1-14 1 8 1-4 1 3 1-1 1 0 1 0 1 2 1-7 1 8 1-10 1 11 1-3 1 3 1-6 1 5 1-7 1 9 1-6 1 7 1-8 1 6 1-10 1 8 1-1 1 1 1-2 1 3 1-2 1 5 1-11 1 12 1-8 1 2 1-7 1 13 1-8 1 6 1-4 1 3 1-4 1 9 1-11 1 2 1 1 1 5 1-4 1 7 1-15 1 9 1-9 1 16 1-12 1 6 1-9 1 8 1-2 1 2 1-9 1 11 1-4 1 3 1-3 1 6 1-8 1 4 1-3 1 6 1-7 1 9 1-14 1 20 1-11 1 1 1-4 1 5 1-5 1 7 1-5 1 7 1-9 1 4 1-1 1 9 1-14 1 8 1-5 1 8 1-11 1 11 1-4 1 2 1-6 1 8 1-10 1 7 1-3 1 10 1-14 1 9 1-8 1 7 1-7 1 7 1-6 1 12 1-15 1 16 1-9 1 2 1-2 1 3 1-10 1 9 1-3 1 3 1-4 1 6 1-3 1 9 1-9 1 2 1-6 1 8 1-7 1 6 1-4 1 3 1-5 1 8 1-7 1 9 1-7 1 6 1-15 1 10 1-3 1 4 1-2 1 5 1-4 1 10 1-10 1 2 1-4 1 9 1-8 1 5 1-9 1 7 1-5 1 7 1-6 1 5 1-2 1 3 1-4 1 7 1-9 1 6 1-3 1 5 1-5 1 1 1 1 1-1 1-6 1 11 1-8 1 4 1-6 1 8 1-4 1 5 1-5 1 8 1-7 1 6 1-22 1 20 1-7 1 8 1-4 1 7 1-10 1 4 1-4 1 6 1-7 1 5 1-1 1 7 1-8 1 5 1-14 1 15 1-6 1 4 1-3 1 8 1-7 1 5 1-10 1 8 1-8 1 9 1-8 1 6 1-7 1 18 1-18 1 12 1-10 1 8 1-6 1 7 1-7 1 6 1-4 1 0 1-4 1 4 1-4 1 5 1-2 1 8 1-10 1 4 1-4 1 10 1-10 1 10 1-9 1 8 1-9 1 13 1-9 1 2 1-6 1 6 1-2 1 5 1-15 1 13 1-10 1 10 1-5 1 10 1-7 1 0 1-4 1 7 1-10 1 11 1-3 1 1 1-5 1 9 1-7 1 5 1-10 1 9 1-7 1 5 1-5 1 9 1-9 1 10 1-6 1 5 1-13 1 11 1-3 1 5 1-4 1 3 1-10 1 8 1-1 1 3 1-5 1 8 1-7 1 3 1-4 1 4 1-3 1 8 1-6 1 1 1 1 1 4 1-6 1 3 1-4 1 1 1-3 1 5 1 1 1 3 1-6 1 1 1-1 1 6 1-6 1 4 1-2 1 6 1-6 1 8 1-10 1 2 1-3 1 6 1-5 1 4 1-2 1 9 1-12 1 6 1-8 1 7 1-7 1 6 1-1 1 2 1-12 1 12 1-11 1 14 1-7 1 9 1-10 1 16 1-13 1 4 1-1 1 4 1-13 1 11 1-4 1 1 1-4 1 6 1-5 1 6 1-1 1 0 1-6 1 7 1-3 1 5 1-7 1 5 1-7 1 10 1-9 1 8 1-4 1 2 1-8 1 6 1 1 1 5 1-9 1 4 1-6 1 5 1-5 1 10 1-7 1 4 1-2 1 5 1-9 1 8 1-9 1 8 1-3 1 7 1-8 1 0 1-4 1 7 1-9 1 10 1-7 1 9 1-4 1 1 1-7 1 7 1-4 1 10 1-9 1 4 1-3 1 6 1-8 1 4 1-2 1 1 1-1 1 5 1-7 1 5 1-3 1 3 1-4 1 4 1-3 1 3 1-10 1 10 1-3 1 0 1 2 1 4 1-10 1 10 1-9 1 11 1-13 1 10 1-5 1 4 1-2 1 2 1-11 1 11 1-6 1 8 1-5 1 3 1-10 1 7 1-2 1 2 1-3 1 12 1-8 1 8 1-10 1 3 1-5 1 10 1-10 1 5 1-6 1 10 1-9 1 4 1-4 1 5 1-2 1 5 1-3 1 0 1-6 1 10 1-6 1 4 1-6 1 7 1-5 1 7 1-6 1 5 1-8 1 12 1-10 1 8 1-12 1 9 1-4 1 3 1-4 1 1 1-1 1 4 1-3 1 2 1-7 1 7 1-5 1 10 1-9 1 6 1-5 1 11 1-16 1 9 1-5 1 9 1-9 1 6 1-9 1 10 1-4 1 2 1-5 1 6 1-3 1 8 1-7 1 4 1-7 1 8 1-7 1 6 1-4 1 2 1-3 1 3 1-3 1 3 1-4 1 3 1-4 1 6 1-7 1 7 1-6 1 5 1-8 1 10 1-8 1 10 1-9 1 2 1-3 1 10 1-7 1 2 1-4 1 6 1-1 1 5 1-9 1 4 1-13 1 14 1-4 1 11 1-10 1 9 1-12 1 10 1-6 1 10 1-10 1 2 1-5 1 7 1-12 1 15 1-10 1 5 1-1 1 1 1-3 1 3 1-4 1 2 1-4 1 12 1-12 1 5 1-4 1 7 1-14 1 15 1-4 1 0 1-7 1 7 1-2 1 7 1-8 1 4 1-2 1 4 1-3 1 2 1-5 1 6 1-3 1 4 1-11 1 9 1-5 1 4 1-6 1 4 1-3 1 9 1-8 1 8 1-7 1 5 1-7 1 4 1-5 1 8 1-9 1 7 1-5 1 11 1-13 1 6 1 1 1 4 1-5 1 1 1-1 1 11 1-10 1 0 1-7 1 8 1-5 1 5 1-5 1 10 1-10 1 9 1-11 1 13 1-13 1 10 1-7 1 6 1-7 1 5 1-3 1 6 1-7 1 8 1-8 1 5 1-5 1 8 1-13 1 12 1-3 1 2 1-6 1 3 1-6 1 9 1-2 1 2 1-8 1 9 1-4 1 4 1-8 1 6 1-2 1 6 1-9 1 3 1-1 1 9 1-16 1 12 1-9 1 7 1-5 1 9 1-5 1 5 1-8 1 2 1 1 1 1 1-2 1 5 1-8 1 8 1-7 1 7 1-4 1 3 1-9 1 8 1-4 1 7 1-3 1 0 1-10 1 12 1-8 1 7 1-4 1 3 1-4 1 6 1-5 1 5 1-5 1 2 1-6 1 6 1-3 1 4 1-5 1 6 1-9 1 8 1-4 1 9 1-11 1 7 1-5 1 5 1-8 1 10 1-5 1 4 1-8 1 11 1-7 1 7 1-7 1 3 1-3 1 8 1-11 1 6 1-6 1 6 1-2 1 2 1-5 1 7 1-5 1 2 1-8 1 11 1-6 1 3 1-4 1 5 1-11 1 10 1-6 1 12 1-14 1 10 1-5 1 3 1-1 1 3 1-4 1 5 1-5 1 6 1-5 1 12 1-12 1 3 1-9 1 13 1-7 1 6 1-6 1 1 1-5 1 10 1-7 1 9 1-10 1 8 1-5 1 5 1-8 1 8 1-9 1 5 1-12 1 15 1-2 1 3 1-5 1 2 1-4 1 6 1-5 1 0 1-3 1 7 1-3 1 0 1 0 1 6 1-8 1 10 1-7 1-2 1-2 1 11 1-15 1 10 1-3 1 8 1-9 1 7 1-10 1 8 1-5 1 4 1-7 1 8 1-9 1 8 1-2 1 4 1-4 1 7 1-8 1 2 1-6 1 6 1-8 1 9 1-4 1 3 1-1 1 1 1-4 1 3 1-1 1 3 1-10 1 12 1-6 1 3 1-7 1 18 1-11 1 0 1-3 1 7 1-12 1 10 1-3 1 5 1-7 1 5 1-5 1 8 1-8 1 7 1-7 1 5 1-4 1 4 1-3 1 6 1-8 1 2 1 0 1 5 1-8 1 5 1-4 1 4 1-4 1 8 1-8 1 7 1-2 1 3 1-13 1 7 1 3 1 2 1-10 1 8 1-1 1 2 1-10 1 10 1-3 1 10 1-12 1 7 1-4 1 5 1-7 1 1 1-2 1 3 1-6 1 8 1-6 1 9 1-17 1 15 1-5 1 3 1-6 1 7 1-7 1 9 1-4 1 6 1-11 1 13 1-10 1 4 1-6 1 8 1-7 1 5 1-11 1 9 1-8 1 6 1-3 1 10 1-6 1 10 1-12 1 3 1-4 1 9 1-9 1 3 1 1 1 4 1-7 1 6 1-8 1 14 1-12 1 5 1-7 1 7 1-2 1 3 1-6 1 3 1-8 1 10 1-4 1 8 1-10 1 4 1-4 1 12 1-11 1 12 1-9 1 0 1-3 1 6 1-8 1 9 1-7 1 6 1-3 1 5 1-3 1 7 1-13 1 10 1-11 1 7 1-1 1 11 1-19 1 10 1-6 1 4 1-1 1 7 1-11 1 7 1-6 1 3 1 2 1 0 1-5 1 8 1-6 1 6 1-8 1 8 1-5 1 0 1-2 1 13 1-13 1 7 1-6 1 5 1-6 1 8 1-16 1 15 1-9 1 11 1-8 1 2 1-1 1 3 1-7 1 9 1-6 1 2 1-10 1 14 1-7 1 7 1-3 1 6 1-8 1 5 1-6 1 4 1-4 1 4 1-3 1 3 1-4 1 5 1-3 1 7 1-8 1 3 1-4 1 6 1-3 1 3 1-6 1 7 1-10 1 9 1-5 1 6 1-11 1 7 1-7 1 9 1-3 1 0 1-4 1 6 1-1 1 9 1-13 1 8 1-6 1 6 1-10 1 15 1-16 1 9 1-8 1 8 1-5 1 3 1-5 1 8 1-16 1 17 1-6 1 2 1-4 1 6 1-6 1 5 1-3 1 11 1-14 1 7 1-2 1 3 1-10 1 13 1-8 1 15 1-13 1-1 1-6 1 11 1-11 1 9 1-4 1 5 1-4 1 0 1 1 1 6 1-9 1 7 1-4 1 5 1-9 1 9 1-10 1 10 1-11 1 8 1-11 1 13 1-4 1 5 1-5 1 5 1-6 1 5 1-11 1 12 1-6 1 3 1-3 1 4 1-8 1 8 1-2 1 4 1-14 1 13 1-3 1 2 1-7 1 7 1-10 1 11 1-3 1 6 1-6 1 1 1-7 1 13 1-9 1 8 1-9 1 11 1-16 1 13 1-11 1 10 1-4 1 3 1-7 1 7 1-10 1 9 1-5 1 5 1-4 1 9 1-6 1 3 1-8 1 10 1-4 1 0 1-4 1 5 1-9 1 10 1-6 1 4 1-4 1 7 1-12 1 10 1-6 1 4 1-1 1 9 1-10 1 3 1-2 1 2 1-3 1 4 1-3 1 1 1-3 1 7 1-5 1 5 1-8 1 6 1-8 1 9 1-5 1 7 1-6 1 6 1-5 1 0 1-6 1 16 1-11 1 5 1-6 1 13 1-15 1 6 1-4 1 2 1 0 1 0 1-6 1 10 1-12 1 9 1-3 1 4 1-5 1 6 1-3 1 1 1-10 1 13 1-9 1 8 1-3 1 5 1-12 1 10 1-10 1 10 1-8 1 7 1-4 1 5 1-10 1 9 1-5 1 5 1-2 1 5 1-12 1 11 1-2 1 1 1-4 1 2 1-1 1 1 1-4 1 7 1-5 1 1 1-1 1 2 1-3 1 5 1-5 1 6 1-5 1 2 1-3 1 5 1-6 1 9 1-8 1 6 1-4 1 5 1-13 1 11 1-7 1 5 1-10 1 9 1-5 1 10 1-5 1 1 1-1 1-1 1-5 1 11 1-12 1 6 1-2 1 9 1-5 1 1 1-9 1 7 1-2 1 5 1-6 1 5 1-3 1 2 1-1 1 5 1-5 1 7 1-9 1 3 1-3 1 4 1-7 1 8 1-7 1 6 1-5 1 2 1-4 1 8 1-8 1 15 1-10 1 5 1-4 1 1 1-9 1 8 1-8 1 11 1-5 1 4 1-7 1 9 1-9 1 10 1-10 1 8 1-5 1 5 1-7 1 13 1-14 1 7 1-13 1 14 1-6 1 3 1-8 1 11 1-8 1 11 1-10 1 7 1-11 1 12 1-4 1 2 1-9 1 14 1-9 1 3 1-4 1 4 1-4 1 7 1-8 1 8 1-10 1 8 1-5 1 8 1-11 1 10 1-7 1 10 1-13 1 7 1-3 1 3 1-6 1 6 1-2 1 4 1-6 1 6 1-15 1 15 1-10 1 15 1-10 1 4 1-6 1 6 1-3 1 2 1-8 1 10 1-6 1 4 1-3 1 5 1-18 1 18 1-4 1 5 1-15 1 14 1-6 1 6 1-2 1 1 1-4 1 3 1-7 1 6 1-9 1 16 1-9 1 5 1-7 1 14 1-11 1 0 1 2 1 1 1-4 1 7 1-5 1 0 1-7 1 9 1-6 1 9 1-7 1 11 1-12 1 4 1-3 1 3 1-8 1 8 1-2 1 4 1-8 1 5 1-2 1 3 1-2 1 6 1-7 1 4 1-6 1 3 1-4 1 11 1-9 1 5 1-10 1 14 1-12 1 12 1-12 1 13 1-7 1 1 1-2 1 11 1-10 1 0 1-1 1 8 1-5 1 2 1-7 1 7 1-10 1 7 1-2 1 4 1-10 1 7 1-9 1 9 1-1 1 3 1-1 1 7 1-11 1 5 1-10 1 13 1-9 1 12 1-12 1 7 1-1 1-4 1-4 1 7 1 0 1 1 1-3 1 2 1-4 1 13 1-12 1 6 1-7 1 8 1-6 1 1 1 1 1 2 1-5 1 7 1-9 1 10 1-8 1 6 1-6 1 2 1 0 1 3 1-3 1 1 1-5 1 8 1-3 1 5 1-8 1 6 1-7 1 5 1-5 1 5 1-3 1 1 1-2 1 4 1-6 1 5 1-4 1 4 1-2 1 5 1-5 1 6 1-6 1 4 1-3 1 5 1-6 1 4 1-6 1 8 1-6 1 3 1-4 1 3 1-2 1 2 1-4 1 12 1-15 1 12 1-11 1 9 1-5 1 3 1-8 1 6 1-3 1 7 1-4 1 3 1-4 1 5 1-4 1 6 1-6 1 3 1-6 1 10 1-8 1 12 1-15 1 9 1-11 1 7 1 0 1 2 1-9 1 9 1-4 1 6 1-7 1 5 1-2 1 3 1-7 1 4 1-4 1 4 1-3 1 1 1 0 1 3 1-3 1 4 1-8 1 8 1-1 1-1 1 0 1 3 1-5 1 4 1-8 1 10 1-5 1 3 1-1 1 0 1-3 1 5 1-7 1 4 1-3 1 7 1-4 1 7 1-11 1 7 1-8 1 5 1-3 1 7 1-6 1 6 1-11 1 12 1-7 1 9 1-7 1 3 1-6 1 5 1-8 1 14 1-14 1 7 1-3 1 6 1-4 1 1 1-2 1 3 1-7 1 7 1-7 1 8 1-6 1 3 1-2 1 6 1-8 1 6 1-5 1 8 1-7 1 3 1-3 1 3 1-4 1 1 1-2 1 5 1-2 1 3 1-4 1 3 1-3 1 5 1-5 1 5 1-3 1 4 1-6 1 3 1-3 1 8 1-9 1 9 1-13 1 9 1-3 1 7 1-8 1 4 1-7 1 7 1-4 1 7 1-7 1 5 1-3 1 5 1-6 1 2 1-1 1 6 1-10 1 9 1-6 1 9 1-10 1 4 1-4 1 6 1-4 1 2 1-2 1 4 1-4 1 5 1-5 1 4 1-3 1 2 1-3 1 6 1-6 1 3 1-9 1 8 1-2 1 7 1-6 1 4 1-14 1 13 1-8 1 6 1-4 1 4 1-4 1 6 1-6 1 1 1-4 1 6 1-3 1 4 1-3 1 10 1-12 1 7 1-4 1 2 1-3 1 5 1-10 1 11 1-14 1 11 1-3 1 17 1-17 1 3 1-10 1 12 1-3 1 0 1-1 1 4 1-4 1 2 1-1 1 0 1-2 1 2 1 0 1 7 1-9 1 10 1-10 1 5 1-4 1 2 1-1 1 4 1-6 1 8 1-9 1 4 1-4 1 9 1-12 1 15 1-11 1 2 1-6 1 7 1-6 1 8 1-2 1 1 1-3 1 5 1-6 1 2 1-2 1 9 1-12 1 6 1-1 1 3 1-7 1 6 1-3 1 6 1-5 1 0 1-12 1 14 1-2 1 0 1-3 1 1 1-5 1 13 1-7 1 4 1-3 1 4 1-7 1 2 1-1 1 6 1-8 1 7 1-7 1 11 1-8 1 4 1-11 1 8 1-2 1 5 1-3 1 1 1-5 1 6 1-10 1 8 1-4 1 10 1-15 1 12 1-6 1 5 1-11 1 14 1-7 1 6 1-3 1 2 1-6 1 5 1-6 1 6 1-4 1 7 1-6 1 9 1-13 1 7 1-3 1 3 1-1 1 1 1-5 1 16 1-15 1 4 1-5 1 8 1-5 1 4 1-8 1 9 1-12 1 10 1-4 1 7 1-11 1 6 1-5 1 10 1-13 1 7 1-3 1 6 1-6 1 12 1-10 1 6 1-9 1 6 1-3 1 3 1-5 1 13 1-9 1 7 1-9 1 3 1-6 1 10 1-7 1 2 1-3 1 3 1-5 1 4 1-2 1 8 1-11 1 10 1-7 1 5 1-2 1 5 1-11 1 12 1-11 1 6 1-6 1 10 1-8 1 10 1-11 1 10 1-9 1 7 1-6 1 7 1-10 1 6 1-8 1 13 1-10 1 7 1-4 1 4 1-5 1 1 1-4 1 7 1-2 1 3 1-9 1 8 1-4 1 8 1-8 1 1 1-7 1 12 1-7 1 8 1-9 1 7 1-9 1 7 1-3 1 4 1-6 1 5 1-2 1 1 1-2 1 7 1-3 1 2 1-6 1 2 1-3 1 5 1-3 1 2 1-4 1 5 1-5 1 10 1-10 1 6 1-4 1 2 1-7 1 8 1-8 1 7 1-2 1 7 1-8 1 8 1-10 1 16 1-12 1 1 1-4 1 3 1-3 1 6 1-9 1 7 1-6 1 7 1-11 1 12 1-8 1 6 1-5 1 9 1-8 1 6 1-8 1 10 1-10 1 9 1-10 1 15 1-15 1 11 1-13 1 8 1 1 1 0 1-2 1 7 1-11 1 6 1-6 1 10 1-8 1 5 1-7 1 10 1-12 1 9 1-5 1 2 1-2 1 9 1-18 1 12 1-4 1 7 1-10 1 6 1-5 1 9 1-5 1 5 1-4 1 2 1-13 1 14 1-4 1 4 1-4 1 3 1-8 1 8 1-3 1 7 1-13 1 15 1-11 1 3 1 0 1 4 1-10 1 8 1-1 1 4 1-5 1 5 1-11 1 11 1-10 1 8 1-5 1 6 1-5 1 5 1-3 1 0 1-4 1 4 1-4 1 7 1-4 1 1 1-2 1 3 1-2 1 0 1-2 1 10 1-14 1 7 1-1 1 4 1-7 1 7 1-8 1 5 1-9 1 9 1-7 1 3 1-1 1 6 1-10 1 11 1-6 1 0 1-2 1 6 1-8 1 6 1-13 1 9 1-1 1 4 1-11 1 12 1-7 1 5 1-10 1 12 1-8 1 10 1-8 1 4 1-8 1 8 1-4 1 2 1-6 1 2 1-2 1 5 1-3 1 1 1-3 1 6 1-5 1 4 1-5 1 9 1-7 1 3 1-4 1 4 1-8 1 17 1-11 1 5 1-7 1 4 1-5 1 8 1-4 1 7 1-5 1 6 1-5 1 1 1-4 1 7 1-2 1 3 1-3 1 1 1-5 1 7 1-3 1 2 1-2 1 6 1-6 1 6 1-5 1 6 1-4 1 2 1-4 1 3 1-4 1 3 1-1 1 3 1-10 1 11 1-6 1 6 1-14 1 17 1-8 1 7 1-7 1 5 1-8 1 10 1-6 1 1 1-5 1 8 1-4 1 12 1-16 1 6 1-5 1 7 1-6 1 4 1-5 1 10 1-7 1 7 1-6 1 5 1-6 1 3 1-7 1 7 1-7 1 11 1-7 1 5 1-9 1 11 1-11 1 8 1-5 1 6 1-3 1 3 1-8 1 6 1-4 1 7 1-6 1 6 1-9 1 8 1-9 1 11 1-5 1 3 1-6 1 3 1-2 1 5 1-8 1 4 1-4 1 8 1-5 1 4 1-2 1 3 1-4 1 12 1-10 1 6 1-13 1 13 1-8 1 6 1-9 1 4 1-3 1 6 1-7 1 9 1-11 1 8 1-3 1 1 1-2 1 5 1-2 1 4 1-11 1 9 1-7 1 9 1-8 1 8 1-6 1 4 1-7 1 6 1-3 1 6 1-5 1 0 1 0 1 1 1-4 1 7 1-6 1 7 1-4 1 5 1-5 1 8 1-9 1 1 1-2 1 4 1-7 1 10 1-5 1 4 1-5 1 3 1-12 1 10 1-3 1 6 1-9 1 15 1-12 1 7 1-15 1 13 1-12 1 13 1-6 1 4 1-3 1 3 1-1 1 1 1-6 1 7 1-2 1 1 1-5 1 7 1-7 1 5 1-1 1 1 1-3 1 12 1-12 1 2 1-2 1 5 1-11 1 11 1-6 1 4 1-1 1 3 1-14 1 11 1 1 1 4 1-4 1 2 1-3 1-2 1 3 1-1 1-1 1 6 1-5 1 4 1-4 1 1 1-4 1 8 1-12 1 14 1-10 1 13 1-10 1 2 1-11 1 16 1-6 1 2 1-3 1 2 1-8 1 7 1-2 1 3 1-9 1 8 1-5 1 6 1-5 1 6 1-2 1 1 1-4 1 3 1-3 1 3 1-1 1 2 1-4 1 2 1-6 1 7 1-10 1 16 1-9 1 2 1-1 1 3 1-5 1 4 1-1 1 5 1-5 1 5 1-10 1 4 1-1 1 6 1-8 1 8 1-7 1 5 1-2 1 2 1-4 1 6 1-6 1 10 1-15 1 14 1-11 1 8 1-8 1 4 1-3 1 12 1-12 1 7 1-5 1 6 1-5 1 8 1-14 1 10 1-8 1 7 1-2 1 2 1-4 1 1 1-3 1 5 1-1 1 5 1-8 1 5 1-9 1 12 1-11 1 6 1-4 1 4 1-7 1 12 1-10 1 6 1-6 1 8 1-7 1 9 1-9 1 5 1-3 1 5 1-6 1 3 1-4 1 7 1-4 1 4 1-7 1 4 1-4 1 7 1-4 1 4 1-5 1 3 1-4 1 4 1-5 1 3 1 1 1 2 1-6 1 6 1-5 1 1 1-2 1 6 1-8 1 8 1-4 1 3 1-7 1 6 1 1 1 0 1-6 1 9 1-12 1 13 1-8 1 9 1-11 1 9 1-5 1 12 1-15 1 6 1-3 1 3 1-6 1 13 1-15 1 5 1-4 1 6 1-3 1 6 1-13 1 14 1-6 1 7 1-8 1 7 1-15 1 15 1-12 1 13 1-5 1 1 1-7 1 7 1-2 1 5 1-5 1 2 1-6 1 12 1-10 1 7 1-5 1 6 1-7 1 8 1-11 1 5 1-4 1 10 1-8 1 4 1-8 1 10 1-10 1 8 1-4 1 3 1-12 1 11 1-6 1 6 1-3 1 3 1-7 1 9 1-9 1 11 1-9 1 7 1-4 1 4 1-7 1 5 1-6 1 9 1-6 1 6 1-6 1 12 1-18 1 9 1-6 1 7 1-7 1 11 1-7 1 2 1-7 1 10 1-3 1 6 1-9 1 6 1-7 1 5 1-8 1 9 1-2 1-1 1 1 1 0 1-7 1 15 1-10 1 4 1-4 1 10 1-9 1 2 1 0 1 2 1-6 1 4 1-7 1 5 1 1 1 6 1-8 1 3 1-2 1 4 1-6 1 4 1-5 1 2 1-3 1 7 1-3 1 0 1-1 1 5 1-6 1 3 1-4 1 5 1-6 1 5 1-4 1 7 1-9 1 10 1-10 1 12 1-9 1 7 1-6 1 6 1-7 1 3 1-2 1 3 1-5 1 3 1-4 1 15 1-10 1 2 1-5 1 1 1-3 1 7 1-8 1 17 1-18 1 12 1-9 1 4 1-5 1 5 1-2 1 11 1-9 1 4 1-8 1 6 1-13 1 15 1-10 1 7 1-3 1 4 1-6 1 5 1-2 1 6 1-6 1 7 1-12 1 10 1-5 1 7 1-18 1 13 1-11 1 10 1-4 1 4 1-1 1 2 1-5 1 7 1-7 1 6 1-6 1 6 1-3 1 5 1-8 1 9 1-8 1 2 1-7 1 10 1-2 1 5 1-13 1 10 1-10 1 9 1-1 1 6 1-11 1 8 1-3 1 0 1-4 1 10 1-12 1 9 1-5 1 1 1-5 1 7 1-5 1 4 1-1 1 2 1-2 1 4 1-8 1 10 1-9 1 8 1-10 1 8 1-4 1 5 1-4 1 1 1-5 1 11 1-13 1 18 1-13 1 2 1-2 1 3 1-4 1 9 1-13 1 9 1-2 1 4 1-4 1 0 1-6 1 8 1-4 1 8 1-7 1 5 1-4 1 3 1-4 1 7 1-5 1-2 1 0 1 3 1-9 1 10 1-10 1 9 1-4 1 3 1-4 1 4 1-4 1 6 1-7 1 6 1-6 1 5 1-2 1 4 1-1 1 0 1-8 1 9 1-5 1 4 1-6 1 6 1-5 1 3 1-8 1 11 1-9 1 8 1-6 1 5 1-2 1 4 1-5 1 3 1-5 1 3 1-1 1 0 1-2 1 4 1-4 1 7 1-6 1 3 1-2 1 9 1-11 1 10 1-11 1 11 1-10 1 8 1-7 1 5 1-5 1 9 1-14 1 15 1-6 1-1 1 1 1 4 1-11 1 6 1-1 1 3 1-6 1 9 1-9 1 11 1-10 1 7 1-4 1 3 1-9 1 9 1-5 1 8 1-10 1 8 1-13 1 11 1-9 1 8 1-1 1 1 1 0 1 0 1-1 1 7 1-9 1 5 1-5 1 10 1-9 1 4 1-4 1 3 1-10 1 11 1-5 1 4 1-2 1-1 1-5 1 9 1-5 1 9 1-8 1 6 1-10 1 9 1-6 1 1 1 1 1 11 1-14 1 6 1-2 1 2 1-12 1 11 1-2 1 3 1-7 1 7 1-9 1 10 1-7 1 4 1-8 1 11 1-4 1 4 1-6 1 4 1-2 1 0 1-1 1 5 1-6 1 5 1-3 1 2 1-6 1 6 1-3 1 5 1-7 1 9 1-8 1 6 1-3 1 1 1-2 1 9 1-13 1 12 1-9 1 5 1-9 1 8 1-6 1 8 1-7 1 10 1-9 1 9 1-9 1 8 1-7 1 4 1-5 1 4 1-3 1 3 1-11 1 11 1-5 1 4 1-13 1 20 1-12 1 3 1 1 1 1 1-5 1 4 1-3 1 3 1-1 1 2 1-8 1 10 1-6 1 2 1-2 1 6 1-9 1 6 1-6 1 8 1-2 1 3 1-3 1 7 1-13 1 13 1-7 1 3 1-7 1 11 1-9 1 4 1-4 1 5 1-6 1 13 1-9 1 4 1-14 1 10 1-4 1 3 1-5 1 6 1-10 1 13 1-6 1 3 1-3 1 5 1-3 1 5 1-8 1 7 1-6 1 6 1-6 1 5 1-5 1 2 1-1 1 8 1-13 1 13 1-8 1 8 1-17 1 11 1-4 1 10 1-8 1 7 1-10 1 4 1-5 1 16 1-15 1 9 1-7 1 8 1-9 1 6 1-5 1 5 1-4 1 3 1-8 1 6 1-5 1 13 1-18 1 12 1-6 1 10 1-12 1 8 1-6 1 7 1-6 1 7 1-6 1 9 1-17 1 15 1-6 1 2 1-9 1 16 1-10 1 3 1-3 1 13 1-16 1 6 1 0 1 0 1-2 1 4 1-5 1 7 1-6 1 1 1-3 1 7 1-8 1 8 1-9 1 6 1-9 1 13 1-4 1-1 1 0 1 5 1-9 1 7 1-10 1 16 1-12 1 4 1-7 1 10 1-7 1 13 1-15 1 5 1-4 1 7 1-2 1 0 1-2 1 8 1-11 1 5 1-7 1 7 1-6 1 6 1-7 1 8 1-5 1 4 1-6 1 7 1-11 1 12 1-6 1 4 1-1 1 0 1-3 1 7 1-7 1 5 1-4 1 6 1-8 1 7 1-3 1 4 1-10 1 8 1-5 1 2 1-2 1 5 1-8 1 10 1-14 1 12 1-4 1 6 1-11 1 9 1-8 1 9 1-5 1 6 1-8 1 8 1-7 1 6 1-10 1 8 1-6 1 13 1-11 1 5 1-4 1 5 1-5 1 4 1-10 1 10 1-2 1 10 1-17 1 7 1-3 1 4 1-3 1 3 1-3 1 5 1-3 1 5 1-6 1 5 1-4 1 1 1-6 1 8 1-13 1 14 1-12 1 9 1-1 1 6 1-8 1 4 1-5 1 10 1-12 1 13 1-8 1 2 1-5 1 5 1-4 1 3 1-2 1 3 1-5 1 5 1-3 1 1 1-7 1 9 1-2 1 3 1-2 1 5 1-8 1 4 1-5 1 5 1-5 1 5 1-11 1 10 1-2 1 2 1-4 1 6 1-5 1 5 1-10 1 8 1-6 1 12 1-5 1 0 1-4 1 8 1-10 1 7 1-9 1 9 1-8 1 5 1-3 1 4 1-5 1 5 1-2 1 3 1-4 1 5 1-13 1 15 1-8 1 3 1-9 1 12 1-11 1 9 1 0 1 0 1-6 1 10 1-5 1 7" stroke="#C179E4" stroke-width="2.8"/>
<path transform="translate(134.32 0) scale(0.46072 0.25)" vector-effect="non-scaling-stroke" d="M0 819l1-4 1 4 1-11 1 10 1-5 1 4 1-3 1 2 1-3 1 5 1-11 1 10 1-5 1 9 1-9 1 6 1-3 1 2 1-5 1 2 1-4 1 12 1-10 1 10 1-7 1 5 1-8 1 7 1-3 1 1 1-2 1 4 1-5 1 3 1-1 1 1 1-2 1 3 1-2 1 2 1 0 1 2 1-3 1 9 1-9 1 4 1-6 1 7 1-6 1 4 1-4 1 3 1-4 1 11 1-15 1 8 1-2 1 13 1-14 1 18 1-19 1 8 1-11 1 10 1-3 1 5 1-7 1 4 1-3 1 7 1-7 1 3 1-9 1 12 1-5 1 5 1-1 1 2 1-3 1 0 1-2 1 6 1-7 1 3 1 0 1 3 1-10 1 12 1-4 1 0 1-1 1 6 1-6 1 3 1-8 1 13 1-9 1 4 1-7 1 5 1 2 1 6 1-11 1 5 1-1 1 5 1-6 1 3 1-1 1 5 1-6 1 9 1-14 1 9 1-4 1 6 1-7 1 6 1-7 1 9 1-12 1 9 1-9 1 9 1-2 1 1 1-3 1 9 1-5 1 1 1-2 1 4 1-6 1 4 1-3 1 4 1-7 1 7 1-8 1 10 1-11 1 18 1-10 1 7 1-9 1 4 1-5 1 5 1-4 1 5 1-2 1 2 1-7 1 9 1-6 1 7 1-5 1 5 1-3 1 2 1-5 1 2 1-1 1 3 1-1 1 6 1-5 1 2 1-9 1 18 1-16 1 6 1 1 1 1 1-3 1 7 1-10 1 3 1-2 1 8 1-8 1 17 1-20 1 9 1-6 1 7 1-7 1 6 1-2 1 7 1-17 1 15 1-4 1 3 1-5 1 4 1-1 1 2 1-3 1 3 1-5 1 10 1-9 1 3 1-6 1 10 1-5 1 0 1-1 1 4 1-4 1 7 1-5 1 5 1-8 1 5 1-6 1 6 1 0 1 4 1-13 1 12 1-7 1 3 1-5 1 9 1-5 1 4 1-4 1 2 1 0 1 0 1-1 1 5 1-5 1 2 1 0 1 3 1-11 1 10 1-7 1 6 1-3 1 5 1-3 1 6 1-14 1 12 1-3 1 2 1-6 1 9 1-7 1 6 1-7 1 6 1-6 1 6 1-4 1 10 1-13 1 7 1-7 1 8 1-4 1 1 1 2 1 0 1-3 1 11 1-13 1 9 1-9 1 4 1-1 1 0 1-5 1 8 1-2 1 4 1-9 1 6 1-1 1 1 1-1 1 9 1-13 1 6 1-5 1 8 1-9 1 8 1-1 1-1 1-5 1 12 1-10 1 4 1-8 1 13 1-7 1 1 1 1 1 5 1-8 1 3 1-1 1 4 1-7 1 7 1-3 1 5 1-11 1 10 1-6 1 7 1-11 1 15 1-9 1 1 1-1 1 3 1-8 1 4 1-1 1 5 1-12 1 13 1-5 1 3 1-1 1 1 1 0 1 1 1-7 1 14 1-11 1 5 1-3 1 0 1-3 1 8 1-8 1 6 1-3 1 4 1-4 1 4 1-5 1 5 1-4 1 1 1 0 1 4 1-5 1 2 1-8 1 9 1-2 1 3 1-4 1 3 1-3 1 2 1-3 1 6 1-4 1 4 1-5 1 2 1-7 1 10 1-3 1 5 1-10 1 4 1-3 1 7 1-9 1 6 1-5 1 11 1-7 1 5 1-5 1 6 1-6 1 2 1-5 1 6 1-4 1 12 1-17 1 11 1-4 1 3 1-6 1 5 1-1 1 2 1-2 1 7 1-9 1 6 1-9 1 6 1-2 1 6 1-4 1-1 1-8 1 12 1-7 1 6 1-9 1 7 1-2 1 5 1-10 1 12 1-7 1 9 1-13 1 8 1-4 1 2 1-3 1 7 1-6 1 8 1-12 1 6 1-6 1 8 1-4 1 4 1-9 1 10 1-4 1 2 1-3 1 0 1-2 1 4 1-2 1 1 1-6 1 6 1-1 1 3 1-3 1 3 1-3 1 1 1-2 1 14 1-20 1 13 1-12 1 8 1-6 1 8 1-6 1 6 1-3 1-1 1 1 1 3 1-7 1 10 1-12 1 8 1-10 1 10 1-5 1 8 1-7 1 6 1-6 1 13 1-12 1 3 1-5 1 3 1-7 1 9 1-5 1 9 1-10 1 6 1-5 1 12 1-13 1 8 1-5 1 5 1-7 1 8 1-3 1-1 1-4 1 6 1-6 1 6 1-4 1 3 1-6 1 4 1-2 1 12 1-14 1 4 1 0 1 4 1-12 1 9 1-7 1 11 1-6 1 3 1-7 1 8 1-5 1 3 1-9 1 9 1-2 1 1 1-1 1 2 1-2 1 0 1 0 1 1 1-3 1 3 1-3 1 5 1-6 1 2 1-6 1 8 1-5 1 4 1-4 1 7 1-13 1 8 1-6 1 7 1-4 1 3 1-4 1 7 1-7 1 5 1-8 1 6 1-4 1 2 1-7 1 5 1-3 1 7 1-12 1 4 1-6 1 6 1-4 1 5 1-4 1 1 1-1 1 3 1-5 1 8 1-4 1 2 1-1 1 7 1-9 1 11 1-7 1 3 1-6 1 8 1-3 1 4 1-7 1 5 1-1 1 6 1-6 1 3 1-5 1 9 1-18 1 12 1-1 1 8 1-10 1 10 1-11 1 8 1-3 1 5 1-8 1 4 1-1 1 3 1-4 1 4 1-7 1 9 1-7 1 2 1-1 1 5 1-8 1 6 1-7 1 7 1-6 1 4 1 0 1 5 1-7 1 3 1-4 1 6 1-6 1 6 1-11 1 10 1-9 1 9 1-4 1 6 1-5 1 4 1-8 1 8 1-9 1 8 1-5 1 9 1-12 1 11 1-8 1 7 1-6 1 2 1-4 1 8 1-7 1 6 1-7 1 4 1-6 1 10 1-7 1 1 1-8 1 15 1-8 1 1 1-2 1 4 1-5 1 6 1-6 1 4 1-7 1 8 1-11 1 7 1-2 1 5 1-8 1 11 1-9 1 7 1-6 1 6 1-9 1 9 1-8 1 4 1-8 1 13 1-7 1 2 1-7 1 7 1-5 1 9 1-7 1 0 1 0 1 2 1-11 1 14 1-10 1 6 1-5 1 4 1-5 1 3 1 1 1 4 1-12 1 10 1-8 1 5 1-6 1 6 1-3 1 5 1-4 1 4 1-6 1 5 1-7 1 9 1-5 1 1 1-3 1 3 1-5 1 11 1-7 1 6 1-10 1 4 1-3 1 7 1-8 1 10 1-7 1 2 1-3 1 4 1-8 1 9 1-5 1 0 1-4 1 8 1-5 1 4 1-6 1 4 1-4 1 5 1-5 1 3 1-2 1 0 1-4 1 9 1-6 1 7 1-11 1 5 1-2 1 2 1-5 1 7 1-4 1 2 1-4 1 6 1-6 1 9 1-5 1 6 1-8 1 3 1-8 1 12 1-9 1 6 1-6 1 4 1-2 1 9 1-15 1 17 1-11 1 6 1-9 1 13 1-12 1 4 1-4 1 10 1-10 1 2 1-1 1 3 1-5 1 2 1-2 1 5 1-5 1 12 1-9 1 4 1-5 1 2 1-6 1 7 1-10 1 10 1-6 1 3 1-6 1 9 1-7 1 9 1-6 1 1 1-2 1 4 1-11 1 14 1-11 1 6 1-8 1 9 1-2 1 2 1-6 1 5 1-1 1 2 1-4 1 4 1-10 1 17 1-9 1 2 1-4 1 6 1-13 1 9 1-3 1 3 1-4 1 2 1-1 1 4 1-6 1 4 1-5 1 10 1-11 1 4 1-5 1 9 1-3 1 5 1-5 1 5 1-5 1 4 1-14 1 12 1-3 1 9 1-10 1 4 1-1 1 2 1-6 1 8 1-6 1 4 1-6 1 8 1-6 1 3 1-6 1 7 1-7 1 7 1-5 1 5 1-2 1 3 1-8 1 7 1-5 1 7 1-7 1 5 1-6 1 7 1-5 1 9 1-10 1 6 1-4 1 6 1-5 1 6 1-4 1-1 1-3 1 8 1-11 1 11 1-9 1 10 1-6 1 4 1-8 1 8 1-10 1 9 1-2 1 1 1-5 1 12 1-15 1 7 1-2 1 3 1-8 1 7 1-4 1 6 1-9 1 9 1-6 1 9 1-6 1 3 1-5 1 8 1-9 1 7 1-4 1 1 1-4 1 4 1-1 1 3 1-3 1 0 1-8 1 10 1-3 1 4 1-9 1 7 1-2 1 6 1-7 1 5 1-5 1 4 1-4 1 3 1-7 1 7 1-1 1 3 1-5 1 5 1-5 1 9 1-10 1 7 1-6 1 8 1-5 1 5 1-5 1 7 1-12 1 8 1-5 1 2 1-1 1 10 1-13 1 11 1-12 1 7 1-4 1 8 1-7 1 7 1-6 1 5 1-7 1 3 1-1 1 7 1-13 1 17 1-14 1 8 1-5 1 3 1-6 1 7 1-6 1 2 1 0 1 4 1-7 1 5 1-2 1 5 1-9 1 8 1-6 1 2 1-8 1 4 1-2 1 5 1-4 1 2 1-6 1 5 1-5 1 3 1-1 1-1 1-3 1 4 1-5 1 7 1-8 1 2 1-6 1 5 1-5 1 4 1-6 1 4 1-6 1 5 1-5 1 6 1-6 1 1 1-5 1 6 1-1 1 6 1-3 1 2 1-1 1 3 1-3 1 6 1-2 1 1 1-1 1 4 1-3 1 3 1-1 1 6 1-2 1 4 1-3 1 8 1-6 1 3 1-7 1 12 1-8 1 14 1-13 1 11 1-8 1 4 1-3 1 5 1-2 1 2 1-1 1 3 1-11 1 10 1-1 1 1 1-3 1 6 1-5 1 7 1-7 1 6 1-8 1 9 1-6 1 6 1-7 1 5 1-6 1 6 1-4 1 8 1-6 1 3 1-2 1 1 1-2 1-1 1-2 1 11 1-16 1 13 1-3 1 0 1 0 1 1 1-3 1 3 1-6 1 8 1-2 1 0 1-1 1 4 1-11 1 12 1-7 1 8 1-4 1 2 1-9 1 12 1-8 1 10 1-8 1 3 1-8 1 8 1 0 1 8 1-9 1 2 1-3 1 5 1-5 1 4 1-6 1 10 1-10 1 6 1-2 1 0 1-4 1 9 1-11 1 10 1-5 1 5 1-4 1 6 1-8 1 6 1-5 1 2 1-2 1 4 1-2 1 4 1-9 1 7 1-4 1 2 1-2 1 2 1-4 1 7 1-6 1 4 1-7 1 9 1-7 1 6 1-8 1 9 1-13 1 12 1-5 1 6 1-8 1 7 1-5 1 9 1-7 1 4 1-7 1 8 1-11 1 7 1-5 1 3 1 1 1 4 1-10 1 12 1-13 1 6 1 2 1 2 1-10 1 9 1-6 1 13 1-19 1 13 1-12 1 9 1-7 1 8 1-2 1 4 1-7 1 5 1-5 1 11 1-7 1 4 1-13 1 12 1-11 1 9 1-2 1 2 1-4 1 3 1-2 1 7 1-14 1 10 1-4 1 4 1-7 1 10 1-6 1 4 1-4 1 3 1-5 1 4 1-2 1 3 1-6 1 7 1-4 1 3 1-5 1 3 1-2 1 6 1-5 1 3 1-3 1 4 1-9 1 8 1-2 1 4 1-4 1 0 1-2 1 5 1-9 1 10 1-7 1 5 1-8 1 7 1-9 1 9 1-5 1 5 1-3 1 3 1-6 1 4 1-4 1 11 1-9 1 11 1-13 1 7 1-8 1 7 1-7 1 10 1-8 1 6 1-7 1 3 1-6 1 8 1-2 1 4 1-6 1 4 1-2 1 5 1-8 1 11 1-7 1 5 1-8 1 6 1-5 1 5 1-2 1 1 1 0 1 2 1-10 1 7 1-5 1 8 1-4 1 4 1-5 1 4 1-4 1 6 1-6 1 4 1-5 1 5 1-7 1 7 1-2 1 2 1-5 1 8 1-8 1 8 1-10 1 14 1-9 1 9 1-9 1 3 1-5 1 4 1-5 1 10 1-11 1 8 1-4 1 7 1-6 1 4 1-3 1-1 1-10 1 14 1-6 1 10 1-10 1 5 1-4 1 7 1-8 1 2 1-6 1 9 1-2 1 0 1-11 1 14 1-5 1 5 1-4 1 4 1-7 1 4 1-6 1 5 1-6 1 6 1-7 1 3 1 0 1 2 1-9 1 5 1-3 1-1 1 1 1 5 1-9 1 5 1-3 1 0 1-3 1 5 1-5 1 6 1-3 1 9 1-11 1 8 1-6 1 10 1-6 1 7 1-7 1 4 1 0 1 2 1 0 1 10 1-8 1 3 1-5 1 4 1-2 1 2 1-8 1 11 1-7 1 8 1-4 1 5 1-6 1 5 1-4 1 6 1-4 1 0 1-6 1 12 1-5 1 5 1-5 1 0 1-3 1 6 1-7 1 6 1-5 1 10 1-11 1 6 1-3 1 3 1-6 1 9 1-5 1 2 1-1 1 3 1-8 1 7 1-4 1 12 1-16 1 11 1-6 1 2 1-7 1 15 1-15 1 5 1-10 1 11 1-1 1 1 1-5 1 3 1 0 1 8 1-10 1 5 1-5 1 2 1-3 1 0 1-3 1 4 1-2 1 2 1-5 1 4 1-7 1 5 1-6 1 6 1-11 1 6 1-9 1 8 1-2 1 3 1-5 1 1 1-1 1 4 1-2 1 3 1-7 1 8 1-1 1 4 1-4 1 5 1-5 1 6 1-2 1 4 1 0 1 5 1-12 1 5 1-1 1 5 1-5 1 6 1-4 1 4 1-2 1 6 1-9 1 2 1 0 1 3 1-6 1 10 1-11 1 7 1-5 1 4 1-4 1 5 1-5 1 11 1-12 1 6 1-10 1 8 1-8 1 10 1-6 1 5 1-6 1 4 1-2 1 6 1-8 1 8 1-6 1 5 1-6 1 2 1-3 1 5 1-3 1 5 1-9 1 11 1-9 1 4 1 0 1-1 1-5 1 6 1-5 1 5 1-2 1 2 1-2 1 7 1-8 1 4 1-6 1 4 1 0 1 8 1-13 1 11 1-11 1 7 1-4 1 3 1-5 1 9 1-9 1 4 1-2 1 6 1-10 1 8 1-7 1 4 1-4 1 6 1-6 1 4 1-8 1 9 1-9 1 10 1-4 1 6 1-6 1 7 1-8 1 4 1-6 1 7 1-4 1 4 1-4 1 6 1-6 1 10 1-11 1 10 1-6 1 5 1-10 1 10 1-6 1 3 1-6 1 11 1-7 1 6 1-7 1 7 1-7 1 3 1-2 1 3 1-9 1 12 1-12 1 10 1-3 1 5 1-5 1 5 1-4 1 2 1-2 1 5 1-10 1 6 1-3 1 8 1-4 1 3 1-8 1 4 1 1 1 4 1-12 1 11 1-6 1 6 1-7 1 5 1-8 1 9 1-2 1 5 1-9 1 8 1-2 1-1 1-1 1 3 1-2 1 4 1-3 1 5 1-9 1 9 1-14 1 15 1-6 1 7 1-12 1 17 1-15 1 6 1-2 1 1 1-2 1 1 1 0 1 1 1-2 1 2 1-3 1 4 1-4 1 5 1-6 1 7 1-5 1 6 1-5 1 1 1-1 1 5 1-5 1 9 1-12 1 14 1-14 1 11 1-9 1 4 1 1 1 2 1-4 1 2 1-4 1 6 1-6 1 3 1-10 1 11 1-4 1 10 1-8 1 6 1-4 1 4 1-3 1-1 1-2 1 4 1-5 1 4 1-3 1 4 1-7 1 7 1-3 1 8 1-9 1 7 1-8 1 4 1-3 1 3 1-6 1 6 1-1 1 10 1-9 1 4 1-9 1 3 1-4 1 5 1-3 1 1 1-2 1 3 1-2 1 3 1-5 1 4 1-8 1 3 1-5 1 7 1-8 1 8 1-16 1 9 1-2 1 1 1-3 1 6 1-6 1 9 1-4 1 5 1-5 1 6 1 1 1 0 1-4 1 10 1-6 1 5 1-5 1 7 1-6 1 6 1-4 1 4 1-3 1 2 1-3 1 7 1-4 1 0 1-5 1 7 1-4 1 5 1-3 1 3 1-5 1 6 1-5 1 8 1-6 1 6 1-8 1 5 1-7 1 14 1-10 1 7 1-6 1 4 1-7 1 10 1-6 1 5 1-12 1 7 1-2 1 3 1-7 1 15 1-8 1 3 1-7 1 4 1-1 1 10 1-9 1 1 1-2 1 7 1-9 1 7 1-8 1 8 1-3 1 0 1-4 1 8 1-4 1 4 1-2 1 2 1-10 1 9 1-7 1 4 1-3 1 9 1-7 1 2 1-9 1 12 1-4 1 9 1-9 1 1 1-7 1 12 1-5 1 3 1-14 1 11 1-3 1 5 1-2 1 5 1-9 1 4 1 0 1 4 1-8 1 7 1-1 1 2 1-9 1 6 1-7 1 10 1-3 1 0 1-2 1 5 1-4 1 3 1-6 1 5 1 0 1 2 1-6 1 7 1-9 1 6 1-2 1 2 1-2 1 3 1-3 1 4 1-3 1 3 1-2 1 11 1-12 1 3 1-6 1 4 1-2 1 6 1-5 1 4 1-5 1 5 1-6 1 10 1-9 1 11 1-12 1 4 1-8 1 10 1-2 1 2 1-4 1 5 1-3 1 3 1-4 1 2 1-7 1 12 1-7 1 3 1-4 1 7 1-10 1 7 1-4 1 9 1-17 1 11 1-3 1 3 1-2 1 5 1-6 1 9 1-9 1 4 1-4 1 5 1-7 1 14 1-11 1 3 1-8 1 8 1-3 1 7 1-8 1 6 1-9 1 12 1-13 1 11 1-6 1 5 1-6 1 3 1-3 1 5 1-3 1 3 1-7 1 7 1-4 1 6 1-8 1 10 1-9 1 7 1-8 1 6 1-4 1 4 1-3 1 3 1-9 1 5 1-2 1 4 1-6 1 9 1-8 1 7 1-7 1 5 1-8 1 6 1 0 1 4 1-3 1 0 1-1 1 6 1-10 1 6 1-6 1 4 1-4 1 7 1-10 1 11 1-6 1 4 1-3 1 4 1-7 1 3 1-6 1 11 1-10 1 10 1-8 1 10 1-8 1 3 1-11 1 12 1-10 1 8 1-3 1 1 1-7 1 8 1-6 1 6 1-7 1 11 1-6 1 3 1-5 1 6 1-8 1 8 1-8 1 9 1-7 1 3 1 0 1 2 1-5 1 8 1-6 1 4 1-5 1 4 1-7 1 7 1-7 1 9 1-12 1 12 1-5 1 1 1-6 1 6 1-5 1 8 1-7 1 7 1-3 1 7 1-10 1 6 1-6 1 7 1-6 1 7 1-5 1 3 1-8 1 6 1-4 1 5 1-4 1 5 1-1 1 1 1-6 1 10 1-7 1 2 1-5 1 7 1-8 1 8 1-6 1 10 1-13 1 11 1-4 1 1 1-1 1 3 1-2 1-1 1 0 1 3 1-7 1 7 1-7 1 6 1-3 1 8 1-8 1 9 1-9 1 5 1-6 1 6 1-6 1 4 1 1 1 0 1-4 1 10 1-6 1 3 1-10 1 7 1-2 1 3 1-8 1 12 1-10 1 4 1 1 1 4 1-7 1 3 1-6 1 6 1-4 1 5 1-5 1 11 1-7 1 5 1-7 1 8 1-9 1 5 1-4 1 8 1-16 1 15 1-13 1 12 1-3 1 6 1-14 1 9 1-6 1 10 1-14 1 14 1-8 1 5 1-5 1 3 1 0 1 6 1-11 1 5 1-2 1 5 1-4 1 4 1-11 1 10 1-4 1 10 1-11 1 6 1-8 1 10 1-5 1 2 1-3 1 5 1-5 1 3 1-4 1 12 1-16 1 14 1-11 1 5 1-5 1 11 1-13 1 10 1-5 1 3 1-4 1 6 1-7 1 6 1-7 1 10 1-6 1 3 1-7 1 7 1-9 1 10 1-2 1 1 1-5 1 4 1-2 1 2 1-7 1 7 1-6 1 6 1-4 1 7 1-7 1 5 1-9 1 9 1-8 1 7 1-3 1 2 1 1 1 4 1-8 1 5 1-9 1 8 1-6 1 6 1-2 1-1 1 0 1 4 1-4 1 5 1-3 1 0 1-4 1 9 1-5 1 7 1-8 1 4 1-10 1 14 1-7 1 3 1-2 1 0 1-3 1 5 1-4 1 4 1-4 1 2 1-1 1 5 1-7 1 6 1-5 1 5 1-7 1 6 1-14 1 14 1-7 1 8 1-12 1 9 1-1 1 1 1-4 1 6 1-4 1 3 1-4 1 6 1-2 1 2 1-4 1 4 1-8 1 10 1-7 1 4 1-1 1 3 1-9 1 11 1-10 1 10 1-12 1 7 1 0 1 4 1-6 1 4 1-4 1 7 1-10 1 10 1-5 1 0 1-1 1 2 1-1 1 4 1-12 1 8 1-1 1 6 1-8 1 7 1-4 1 2 1-2 1 3 1-3 1 1 1 0 1 1 1-3 1 3 1-1 1 3 1-4 1 6 1-12 1 8 1-1 1-1 1 1 1 3 1-1 1 0 1-7 1 7 1-6 1 6 1-2 1 1 1-2 1 4 1-10 1 12 1-5 1 5 1-5 1 2 1-4 1 3 1-3 1 3 1-4 1 9 1-14 1 8 1-6 1 12 1-7 1 2 1-2 1 2 1 0 1 3 1-8 1 11 1-9 1 5 1-14 1 13 1-12 1 17 1-11 1 7 1-6 1 6 1-6 1 5 1-4 1 5 1-4 1 5 1-5 1 3 1-2 1 3 1-6 1 6 1-4 1 4 1-6 1 9 1-13 1 11 1-9 1 7 1-7 1 5 1 0 1 5 1-10 1 7 1-3 1 5 1-11 1 9 1-4 1 4 1-3 1 3 1-10 1 8 1-6 1 8 1-8 1 6 1-1 1 2 1-6 1 10 1-8 1 9 1-6 1 1 1-2 1 0 1-4 1 16 1-11 1 5 1-11 1 12 1-7 1 3 1-3 1 9 1-13 1 12 1-11 1 4 1-5 1 6 1-5 1 3 1-1 1 8 1-9 1 10 1-8 1 3 1-9 1 17 1-12 1 4 1-2 1 2 1-8 1 7 1-4 1 7 1-6 1 8 1-11 1 6 1-9 1 14 1-7 1 9 1-14 1 6 1-3 1 6 1-7 1 5 1-5 1 11 1-10 1 2 1 1 1 4 1-11 1 9 1-5 1 4 1-7 1 13 1-11 1 5 1-3 1 2 1-2 1 3 1-8 1 12 1-10 1 7 1-7 1 5 1-5 1 5 1-11 1 16 1-8 1 6 1-4 1 6 1-6 1 5 1-10 1 6 1-3 1 3 1-4 1 4 1-6 1 8 1-11 1 9 1-2 1-1 1-3 1 7 1-5 1 4 1-5 1 4 1-8 1 11 1-2 1 1 1-6 1 3 1-2 1 4 1-4 1 3 1-4 1 5 1-3 1 7 1-8 1 5 1-4 1 7 1-13 1 15 1-15 1 8 1-8 1 13 1-7 1 7 1-14 1 10 1-3 1 1 1-2 1 2 1-2 1 9 1-11 1 4 1-6 1 7 1-3 1 12 1-16 1 14 1-12 1 4 1 0 1 0 1-1 1 1 1 0 1 3 1-4 1 3 1-13 1 11 1-5 1 7 1-4 1 5 1-7 1 6 1-4 1 8 1-13 1 7 1-5 1 7 1-9 1 12 1-9 1 11 1-8 1 2 1-6 1 5 1-1 1 8 1-13 1 11 1-7 1 2 1-2 1 4 1-2 1 1 1-5 1 10 1-7 1 6 1-9 1 4 1-7 1 10 1-7 1 5 1-2 1-1 1-1 1 13 1-11 1 5 1-6 1 4 1-5 1 8 1-4 1 2 1-9 1 7 1-2 1 0 1-10 1 12 1-1 1 2 1-8 1 9 1-5 1 3 1-4 1 8 1-9 1 7 1-4 1 5 1-7 1 3 1-3 1 9 1-6 1 2 1-9 1 8 1-10 1 13 1-12 1 10 1-7 1 13 1-16 1 9 1-2 1 3 1-5 1 4 1-6 1 5 1 1 1 0 1-7 1 7 1-7 1 9 1-10 1 9 1-4 1 3 1-3 1 2 1-5 1 10 1-7 1 5 1-5 1 5 1-11 1 9 1-8 1 8 1-6 1 9 1-5 1 3 1-4 1 2 1-3 1 7 1-3 1 2 1-3 1 3 1-5 1 3 1-10 1 9 1-7 1 9 1-7 1 5 1-2 1 3 1-7 1 4 1-1 1 5 1-7 1 4 1-5 1 7 1-6 1 4 1-3 1 8 1-8 1 2 1-3 1 7 1-9 1 4 1-6 1 8 1-10 1 8 1-7 1 10 1-14 1 11 1-4 1 1 1-1 1 2 1-5 1 6 1-8 1 12 1-11 1 8 1-3 1 4 1-8 1 8 1-7 1 7 1-10 1 11 1-2 1 3 1-3 1 3 1-7 1 9 1-3 1 0 1-2 1 4 1-2 1 4 1-4 1 6 1-10 1 6 1-5 1 5 1-6 1 13 1-9 1 6 1-5 1-2 1 0 1 3 1-2 1 1 1-5 1 8 1-7 1 6 1-3 1 3 1-6 1 4 1 0 1 4 1-9 1 8 1-8 1 6 1-6 1 6 1-4 1 8 1-11 1 10 1-5 1 2 1-4 1 6 1-1 1 2 1-6 1 4 1-5 1 15 1-16 1 5 1-4 1 12 1-9 1 1 1-4 1 10 1-13 1 9 1-4 1 3 1-4 1 2 1-4 1 9 1-8 1 4 1-3 1 3 1-4 1 7 1-8 1 5 1-2 1 6 1-7 1 3 1-4 1 5 1-8 1 12 1-6 1 6 1-8 1 6 1-7 1 5 1-5 1 6 1-6 1 5 1-2 1 6 1-12 1 7 1-3 1 4 1-3 1 3 1-9 1 11 1-3 1 1 1-9 1 12 1-8 1 5 1-1 1 6 1-9 1 1 1-3 1 10 1-7 1 3 1-3 1 9 1-12 1 7 1-8 1 10 1-6 1 3 1-12 1 14 1-7 1 8 1-9 1 11 1-14 1 8 1-3 1 4 1-4 1 3 1-2 1 1 1 0 1 3 1-5 1 7 1-8 1 8 1-6 1 6 1-7 1 4 1-7 1 7 1-7 1 6 1-6 1 8 1-4 1 5 1-5 1 5 1-4 1 5 1-14 1 13 1-9 1 5 1 0 1 0 1-5 1 9 1-7 1 5 1-5 1 2 1-4 1 4 1-7 1 14 1-8 1 7 1-7 1 8 1-9 1 3 1-5 1 6 1-2 1 7 1-8 1 4 1-2 1 1 1-5 1 7 1-12 1 10 1 1 1 0 1-5 1 10 1-8 1 4 1-9 1 9 1-4 1 9 1-11 1 7 1-10 1 8 1-9 1 13 1-7 1 6 1-6 1 5 1-5 1 6 1-8 1 4 1-2 1 3 1-5 1 6 1-11 1 13 1-10 1 6 1-4 1 4 1-1 1 2 1-5 1 5 1-4 1 2 1-5 1 12 1-7 1 6 1-12 1 10 1-7 1 6 1-12 1 9 1-3 1 6 1-8 1 7 1-3 1 5 1-10 1 6 1-1 1 0 1-5 1 5 1-4 1 4 1-2 1 7 1-9 1 6 1-4 1-1 1-4 1 6 1-7 1 11 1-11 1 4 1-7 1 7 1-3 1 1 1-2 1 3 1-5 1 3 1-8 1 13 1-12 1 5 1-5 1 3 1-5 1 8 1-10 1 6 1-3 1 1 1-7 1 4 1-4 1 6 1-5 1 4 1-4 1 1 1 0 1 4 1-4 1 1 1-4 1 6 1-2 1 2 1-2 1 6 1-9 1 13 1-6 1 3 1-2 1 3 1-2 1 2 1 0 1 2 1-3 1 4 1-7 1 8 1-2 1 4 1-2 1 8 1-8 1 4 1-2 1 3 1-4 1 4 1-5 1 3 1-2 1 6 1-6 1 10 1-9 1 6 1-4 1 7 1-8 1 6 1-2 1 5 1-6 1 3 1-2 1 1 1-3 1 9 1-7 1 2 1-3 1 7 1-10 1 5 1-1 1 3 1-6 1 7 1-4 1 8 1-7 1 4 1-5 1 2 1-1 1 1 1-6 1 5 1-1 1 4 1-4 1 2 1 0 1 5 1-7 1 4 1-4 1 7 1-7 1 4 1-9 1 12 1-7 1 5 1-5 1 5 1-4 1 3 1-2 1 6 1-6 1 3 1-6 1 8 1-7 1 2 1 1 1 4 1-7 1 3 1-1 1 3 1-3 1 5 1-7 1 7 1-10 1 10 1-6 1 8 1-6 1 3 1-10 1 9 1-5 1 4 1-7 1 6 1-2 1 3 1-1 1 3 1-9 1 9 1-10 1 9 1-2 1 0 1-1 1 10 1-10 1 4 1-4 1 1 1-1 1 6 1-7 1 6 1-7 1 9 1-13 1 13 1-10 1 7 1-5 1 8 1-6 1 2 1-7 1 8 1-4 1 4 1-6 1 5 1-1 1 1 1-4 1 4 1-4 1 2 1-2 1 8 1-7 1 4 1-11 1 11 1-9 1 9 1-5 1 6 1-4 1 3 1-3 1 4 1-7 1 3 1-1 1 3 1-5 1 4 1-2 1 6 1-6 1 2 1-5 1 10 1-8 1 6 1-5 1 3 1-3 1 5 1-8 1 10 1-10 1 7 1-5 1 6 1-8 1 12 1-8 1 6 1-13 1 14 1-6 1 2 1-5 1 7 1-9 1 9 1-5 1 3 1-2 1 7 1-11 1 5 1-6 1 7 1-7 1 9 1-6 1 11 1-11 1 8 1-9 1 8 1-4 1 2 1-5 1 12 1-10 1 2 1-6 1 8 1-5 1 3 1-2 1 10 1-16 1 8 1-4 1 2 1-3 1 6 1-5 1 8 1-12 1 9 1-8 1 16 1-14 1 6 1-2 1 2 1-6 1 4 1-1 1 2 1-7 1 7 1-11 1 11 1-10 1 12 1-9 1 7 1-5 1 11 1-12 1 7 1-6 1 5 1-4 1 5 1-4 1 4 1-5 1 8 1-14 1 19 1-12 1 5 1-3 1 0 1 0 1 3 1-5 1 3 1 0 1 4 1-6 1 3 1-4 1 1 1-4 1 3 1-3 1 8 1-5 1 2 1-4 1 5 1-4 1 12 1-10 1 6 1-15 1 11 1-5 1 11 1-9 1 5 1-5 1 3 1-2 1 3 1-3 1 5 1-5 1 7 1-10 1 4 1-1 1 2 1-10 1 16 1-7 1 0 1 0 1 6 1-6 1 4 1-6 1 8 1-13 1 6 1 1 1 1 1-2 1 3 1-7 1 16 1-16 1 9 1-10 1 12 1-8 1 9 1-8 1 5 1-5 1 5 1-4 1 2 1-2 1 2 1-4 1 7 1-4 1 8 1-10 1 3 1-6 1 6 1-3 1 4 1-6 1 7 1-4 1 2 1-3 1 2 1 0 1 0 1-2 1 4 1-6 1 6 1-7 1 12 1-9 1 2 1-3 1 8 1-7 1 2 1-2 1 4 1-6 1 4 1-6 1 11 1-7 1 5 1-8 1 8 1-3 1 7 1-16 1 10 1-3 1 5 1-5 1 3 1-3 1 5 1-5 1 2 1-6 1 9 1-3 1 3 1-9 1 6 1-3 1 5 1-6 1 8 1-9 1 13 1-9 1 2 1-5 1 9 1-8 1 5 1-5 1 13 1-13 1 8 1-6 1 10 1-16 1 10 1-6 1 8 1-4 1 8 1-10 1 7 1-8 1 9 1-7 1 3 1-5 1 5 1-9 1 8 1-3 1 5 1-5 1 3 1-1 1-1 1 0 1 6 1-7 1 1 1-1 1 5 1-4 1 3 1-5 1 4 1-3 1 8 1-6 1 0 1 0 1 0 1 0 1 2 1-2 1 8 1-13 1 11 1-9 1 3 1-8 1 14 1-7 1 1 1 0 1-2 1-1 1 7 1-5 1 3 1-3 1 2 1-2 1 5 1-6 1 6 1-6 1 7 1-7 1 5 1-10 1 11 1-7 1 2 1-3 1 5 1-2 1 4 1-11 1 10 1-3 1 11 1-11 1 1 1-1 1 2 1-3 1 5 1-4 1 3 1-3 1 4 1-6 1 9 1-11 1 9 1-6 1 7 1-9 1 9 1-8 1 12 1-11 1 5 1-8 1 6 1-1 1 6 1-6 1 8 1-11 1 7 1-6 1 7 1-8 1 4 1-5 1 7 1-7 1 9 1-12 1 11 1-7 1 6 1-5 1 3 1-3 1 4 1-7 1 9 1-6 1 4 1-1 1 4 1-6 1 4 1-7 1 12 1-11 1 5 1-2 1 5 1-6 1 6 1-10 1 9 1-5 1 5 1-3 1 4 1-5 1 3 1-5 1 6 1-7 1 6 1-2 1 4 1-7 1 10 1-10 1 5 1-3 1 2 1-4 1 10 1-8 1 5 1-4 1 5 1-6 1 3 1-4 1 3 1-1 1 0 1-7 1 8 1-8 1 8 1-3 1 7 1-7 1 2 1-1 1 3 1-9 1 8 1-2 1 5 1-10 1 10 1-4 1 2 1-3 1 3 1-6 1 7 1-8 1 7 1-7 1 15 1-12 1 2 1-2 1 4 1-5 1 3 1-3 1 3 1-4 1 4 1-2 1 6 1-6 1 4 1-3 1 3 1-6 1 7 1-5 1 3 1-8 1 11 1-13 1 12 1-6 1 10 1-11 1 10 1-12 1 8 1-8 1 12 1-5 1 0 1-6 1 11 1-14 1 8 1-1 1 7 1-11 1 11 1-9 1 5 1-3 1 5 1-3 1 4 1-10 1 7 1-10 1 11 1-10 1 9 1-11 1 13 1-8 1 8 1-3 1 2 1-6 1 7 1-5 1 4 1-2 1 4 1-6 1 5 1-5 1 5 1-12 1 11 1-5 1 5 1-7 1 6 1-5 1 7 1-4 1 4 1-10 1 6 1-2 1 8 1-6 1 4 1-4 1 7 1-8 1 7 1-5 1 1 1-1 1 4 1-4 1 6 1-10 1 7 1-6 1 6 1-9 1 7 1-4 1 5 1-3 1 2 1 0 1 5 1-8 1 6 1-4 1 4 1-8 1 5 1-5 1 3 1-1 1 8 1-17 1 16 1-7 1 6 1-8 1 9 1-10 1 6 1-5 1 5 1-6 1 6 1-2 1 4 1-1 1 4 1-5 1 2 1-4 1 4 1-4 1 3 1-5 1 5 1-4 1 3 1-2 1 3 1-4 1 6 1-5 1 5 1-4 1 8 1-16 1 12 1-5 1 0 1-9 1 11 1-6 1 7 1-5 1 14 1-12 1 6 1-5 1 4 1-5 1 12 1-11 1 5 1-8 1 10 1-7 1 1 1 0 1 4 1-9 1 6 1-5 1 6 1-4 1 4 1-2 1-1 1-2 1 5 1-9 1 7 1-1 1 2 1-1 1 2 1-3 1 4 1-7 1 5 1-2 1 7 1-7 1 2 1-1 1 2 1-3 1 4 1-8 1 10 1-6 1 6 1-10 1 6 1-2 1 8 1-14 1 15 1-8 1 3 1-5 1 2 1 1 1 0 1-1 1 3 1-8 1 11 1-9 1 12 1-12 1 6 1-3 1 4 1-10 1 11 1-7 1 7 1-5 1 3 1-3 1 4 1-9 1 11 1-8 1 6 1-11 1 14 1-11 1 12 1-11 1 5 1-3 1 2 1-3 1 3 1-1 1 1 1 0 1 3 1-7 1 5 1 0 1 4 1-8 1 4 1-5 1 4 1-3 1 6 1-9 1 12 1-7 1 1 1-4 1 8 1-4 1 2 1-2 1 2 1-5 1 3 1 0 1 4 1-6 1 2 1-4 1 8 1-8 1 4 1-5 1 8 1-4 1 0 1-1 1 9 1-8 1 5 1-5 1 5 1-7 1 4 1-2 1 0 1 0 1 7 1-10 1 6 1-7 1 5 1-1 1 12 1-13 1 2 1-10 1 16 1-6 1-1 1-6 1 11 1-7 1 3 1 0 1 4 1-5 1 3 1-10 1 10 1-3 1 6 1-7 1 3 1-1 1 1 1-1 1 5 1-6 1 7 1-6 1 2 1-4 1 4 1-4 1 4 1-2 1 0 1 2 1 9 1-14 1 8 1-9 1 3 1-5 1 8 1-4 1 5 1-9 1 14 1-12 1 6 1-6 1 8 1-8 1 8 1-4 1 6 1-9 1 9 1-10 1 8 1-8 1 8 1-5 1 4 1-4 1 4 1-6 1 6 1-5 1 3 1-2 1 1 1-2 1 3 1-1 1 3 1-3 1 3 1-5 1 5 1-5 1 5 1-6 1 10 1-7 1 4 1-4 1 7 1-10 1 7 1-6 1 9 1-13 1 9 1-8 1 7 1-4 1 3 1-2 1 5 1-3 1 0 1-5 1 5 1 1 1 5 1-8 1 4 1-7 1 4 1-4 1 5 1-7 1 13 1-10 1 9 1-6 1 0 1-6 1 8 1-4 1 7 1-8 1 5 1-4 1 5 1-6 1 5 1-8 1 9 1-16 1 16 1-11 1 15 1-11 1 7 1-5 1 3 1-1 1 2 1-6 1 13 1-9 1 7 1-8 1 3 1-8 1 12 1-6 1 7 1-5 1 5 1-8 1 12 1-15 1 11 1-7 1 5 1-4 1 3 1-11 1 16 1-8 1 1 1-3 1 8 1-9 1 10 1-7 1 4 1-4 1 1 1-3 1 8 1-11 1 11 1-10 1 6 1-5 1 5 1-4 1 13 1-13 1 4 1-2 1 6 1-4 1 5 1-7 1 3 1-8 1 9 1-4 1 2 1 0 1 3 1-6 1 6 1-11 1 11 1-11 1 11 1-10 1 10" stroke="#DD9D00" stroke-width="2.8"/>
<path transform="translate(134.32 0) scale(0.46072 0.25)" vector-effect="non-scaling-stroke" d="M0 477l1-4 1 5 1-6 1 4 1-7 1 4 1-1 1 1 1-2 1 5 1-4 1 4 1-3 1 0 1-2 1 3 1-5 1 8 1-6 1 5 1-4 1 4 1-3 1 4 1-2 1 1 1-4 1 4 1-6 1 6 1 0 1 3 1-6 1 3 1-1 1 3 1-4 1 6 1-10 1 9 1-4 1 6 1-7 1 5 1-4 1 5 1-5 1 3 1-1 1 0 1-1 1 4 1-4 1 5 1-5 1 5 1-4 1 3 1-2 1 1 1-2 1 5 1-7 1 6 1-4 1 6 1-8 1 8 1-5 1 8 1-7 1 5 1-5 1 2 1-3 1 4 1-6 1 7 1-3 1 2 1-3 1 7 1-5 1 1 1-1 1 1 1-4 1 6 1-2 1 2 1-8 1 9 1-3 1 6 1-10 1 9 1-5 1 1 1-6 1 8 1-11 1 9 1-5 1 7 1-2 1 4 1-5 1 2 1-1 1 3 1-6 1 9 1-10 1 6 1-2 1 5 1-10 1 10 1-5 1 2 1-1 1 5 1-4 1 3 1-6 1 3 1-7 1 8 1-3 1 3 1-2 1 2 1-3 1 6 1-5 1 4 1-4 1 5 1-5 1 4 1-2 1 2 1-1 1 2 1-5 1 7 1-6 1 5 1-9 1 7 1-1 1 1 1-2 1 8 1-6 1 2 1-2 1 5 1-7 1 4 1-4 1 2 1-2 1 4 1-7 1 9 1-3 1 1 1-2 1 4 1-3 1 2 1-11 1 10 1-5 1 10 1-6 1 4 1-4 1 3 1-4 1 5 1-3 1 5 1-4 1 2 1-1 1 0 1-3 1 3 1-2 1 3 1-1 1 0 1-3 1 4 1-4 1 10 1-8 1 3 1-6 1 4 1-2 1 2 1-2 1 3 1 0 1 2 1-4 1 5 1-2 1 0 1-8 1 13 1-6 1 3 1-1 1 0 1-2 1 5 1-6 1 3 1-2 1 3 1-3 1 4 1-4 1 4 1-4 1 4 1-4 1 4 1-2 1 6 1-6 1 1 1-4 1 5 1-3 1 4 1-5 1 7 1-3 1 1 1-3 1 3 1-5 1 6 1-4 1 3 1-5 1 9 1-8 1 4 1 0 1 7 1-7 1 3 1-4 1 4 1-2 1 5 1-9 1 5 1 0 1 6 1-8 1 4 1-3 1 4 1-5 1 6 1-10 1 9 1-2 1 4 1-8 1 4 1 0 1 2 1-4 1 2 1-2 1 5 1-5 1 4 1-3 1 6 1-7 1 3 1-1 1 4 1-4 1 3 1-1 1 0 1-2 1 3 1-1 1 1 1-2 1 4 1-4 1 4 1-2 1 2 1-4 1 4 1-5 1 3 1-1 1 0 1 0 1 3 1-7 1 5 1-4 1 6 1-4 1 4 1-2 1 0 1-3 1 5 1-5 1 7 1-8 1 5 1-1 1 6 1-9 1 8 1-9 1 6 1-2 1 1 1-1 1 1 1-2 1 4 1-3 1 2 1-1 1 2 1-1 1 4 1-7 1 5 1-4 1 4 1-4 1 2 1 0 1 2 1-2 1 3 1-8 1 12 1-6 1 1 1-1 1 4 1-6 1 2 1-4 1 5 1-3 1 5 1-4 1 2 1-4 1 7 1-5 1 5 1-5 1 4 1-4 1 3 1-3 1 2 1-4 1 7 1-2 1 0 1-7 1 8 1-5 1 7 1-4 1 1 1-3 1 5 1-3 1 6 1-5 1 2 1-2 1 5 1-6 1 3 1-7 1 7 1-3 1 3 1-3 1 4 1-5 1 4 1-6 1 8 1-8 1 8 1-6 1 3 1-3 1 3 1-4 1 6 1-4 1 1 1-6 1 8 1-3 1 2 1-3 1 2 1-6 1 7 1-3 1 4 1-4 1 4 1-8 1 7 1-2 1 0 1-1 1 1 1-4 1 6 1-6 1 6 1-5 1 5 1-3 1 3 1-5 1 9 1-9 1 5 1-6 1 7 1-2 1 4 1-5 1 3 1-4 1 3 1-3 1 3 1-2 1 2 1-2 1 0 1-1 1 4 1-6 1 5 1-5 1 4 1-3 1 3 1-1 1 1 1-2 1 1 1-2 1 2 1 0 1 7 1-7 1 3 1-5 1 6 1-9 1 6 1-4 1 4 1-2 1 4 1-5 1 3 1-8 1 7 1-4 1 2 1-4 1 7 1-1 1 0 1-5 1 4 1-2 1 5 1-9 1 10 1-8 1 4 1-7 1 11 1-14 1 11 1-6 1 6 1-5 1 5 1-4 1 3 1-3 1 5 1-7 1 5 1-6 1 13 1-8 1 3 1-5 1 3 1-2 1 4 1-6 1 2 1-1 1 2 1-4 1 3 1-3 1 6 1-5 1 3 1-7 1 8 1-7 1 3 1-3 1 3 1-2 1 2 1-2 1 1 1-8 1 13 1-15 1 7 1-4 1 0 1-3 1 3 1-5 1 0 1-4 1 3 1-3 1 1 1-2 1 1 1-3 1 3 1 1 1 2 1-2 1 9 1-3 1 1 1-3 1 6 1-2 1 3 1 0 1 2 1-3 1 6 1-5 1 5 1-4 1 4 1-6 1 6 1-4 1 5 1-6 1 7 1-9 1 9 1-10 1 8 1-3 1 5 1-6 1 4 1-5 1 3 1-1 1 2 1-5 1 4 1-1 1 4 1-3 1 0 1-2 1 5 1-3 1 3 1-7 1 4 1-3 1 6 1-5 1 4 1-3 1 2 1-1 1 0 1-2 1 5 1-7 1 3 1-3 1 6 1-4 1 3 1-2 1 1 1-2 1 2 1-5 1 6 1-2 1 1 1-2 1 3 1-5 1 2 1-2 1 1 1-7 1 8 1-8 1 9 1-6 1 6 1-5 1 5 1-7 1 5 1 0 1 1 1-2 1 2 1-3 1 1 1-3 1 8 1-7 1 1 1-1 1 4 1-6 1 2 1-1 1 2 1-5 1 5 1-4 1 7 1-7 1 3 1-1 1 1 1-3 1 5 1-6 1 5 1-3 1 3 1-2 1 3 1-6 1 5 1-6 1 4 1-4 1 5 1-2 1 3 1-6 1 3 1-1 1 4 1-8 1 7 1-3 1 5 1-11 1 10 1-7 1 3 1-2 1 4 1-6 1 3 1-3 1 8 1-9 1 6 1-7 1 7 1-6 1 8 1-6 1 3 1-5 1 5 1-4 1 3 1-2 1 3 1-4 1 1 1-1 1 1 1-2 1 4 1-3 1 0 1 0 1 2 1-5 1 6 1-3 1 0 1-6 1 8 1-2 1 1 1-4 1 1 1-3 1 6 1-4 1 6 1-6 1 5 1-3 1 0 1-3 1 3 1-8 1 7 1-2 1 3 1-6 1 6 1-6 1 7 1-3 1 5 1-9 1 7 1-6 1 2 1-1 1 4 1-5 1 4 1-2 1 3 1-4 1 8 1-11 1 7 1-11 1 12 1-7 1 6 1-3 1 3 1-5 1 2 1-3 1 5 1-8 1 6 1-3 1 3 1-2 1 2 1-1 1 1 1-8 1 7 1-5 1 7 1-3 1 1 1-5 1 9 1-5 1 2 1-5 1 5 1-4 1 5 1-7 1 5 1-3 1 3 1-3 1 3 1-5 1 7 1-6 1 8 1-5 1 3 1-4 1 3 1-3 1 8 1-11 1 4 1-2 1 3 1-3 1 7 1-8 1 11 1-10 1 10 1-11 1 5 1-4 1 3 1-4 1 8 1-6 1 3 1-4 1 3 1-2 1 10 1-9 1 2 1-4 1 4 1-3 1 7 1-5 1 1 1-4 1 7 1-8 1 8 1-6 1 4 1-5 1 3 1-1 1 3 1-2 1 2 1-5 1 5 1-4 1 4 1-5 1 6 1-6 1 7 1-3 1 1 1-4 1 12 1-11 1 2 1 0 1 0 1-3 1 3 1-1 1 2 1-7 1 9 1-5 1 2 1-1 1 7 1-9 1 4 1-4 1 3 1-1 1 2 1-2 1 2 1-2 1 3 1-4 1 4 1-6 1 4 1-3 1 5 1-2 1 1 1 0 1 2 1-6 1 7 1-7 1 8 1-6 1 6 1-8 1 5 1-4 1 3 1-2 1 7 1-6 1 4 1-7 1 5 1-1 1 4 1-5 1 4 1-3 1 4 1-5 1 3 1-1 1 2 1-5 1 4 1-4 1 6 1-3 1 3 1-1 1 4 1-10 1 12 1-9 1 4 1-2 1 0 1-5 1 11 1-11 1 7 1-4 1 6 1-5 1 2 1-1 1 4 1-6 1 5 1-5 1 9 1-5 1 1 1-4 1 2 1-1 1 4 1-5 1 9 1-10 1 4 1-3 1 4 1-4 1 10 1-9 1 1 1 0 1 2 1-3 1 3 1-4 1 6 1-6 1 6 1-6 1 5 1-4 1 1 1-2 1 5 1-7 1 6 1-6 1 7 1-6 1 3 1-2 1 4 1-6 1 4 1-4 1 3 1-2 1 1 1 0 1 1 1-4 1 0 1-3 1 5 1-8 1 5 1-3 1 4 1-6 1 2 1-3 1 1 1-5 1 1 1-3 1 1 1-4 1 1 1-3 1-2 1-4 1 1 1-3 1 0 1-6 1 0 1-4 1 2 1-2 1-1 1-4 1 1 1-1 1 2 1-1 1-1 1 0 1 2 1 1 1 2 1 0 1 3 1 0 1 4 1 1 1 2 1 2 1 5 1-2 1 4 1 1 1 2 1 2 1 1 1-2 1 9 1-5 1 6 1-5 1 8 1-4 1 5 1-3 1 7 1-1 1 1 1-3 1 11 1-7 1 1 1-1 1 2 1-2 1 12 1-10 1 3 1-4 1 10 1-6 1 0 1-1 1 5 1-4 1 6 1-8 1 7 1-4 1 2 1-4 1 3 1-3 1 3 1 0 1 1 1-3 1 5 1-5 1 8 1-7 1 5 1-3 1 5 1-6 1 5 1-6 1 4 1-2 1 3 1-3 1 4 1-5 1 4 1-2 1 3 1-3 1 5 1-5 1 3 1-4 1 3 1-3 1 3 1-1 1 7 1-8 1 3 1-2 1 4 1-6 1 4 1-7 1 13 1-9 1 8 1-5 1 4 1-5 1 1 1-4 1 7 1-4 1 3 1-5 1 6 1-5 1 2 1-1 1 6 1-6 1 2 1-3 1 7 1-9 1 6 1-3 1 4 1-6 1 4 1-4 1 4 1-3 1 4 1-3 1 0 1-2 1 4 1-2 1 2 1 0 1 4 1-8 1 4 1-2 1 3 1-6 1 4 1-2 1 7 1-8 1 6 1-7 1 6 1-4 1 4 1 0 1-1 1-4 1 4 1-3 1 4 1-1 1 6 1-12 1 6 1-1 1 1 1-1 1 3 1-1 1 4 1-6 1 3 1-2 1 2 1-3 1 4 1-6 1 7 1-9 1 11 1-7 1 3 1-3 1 4 1-3 1 1 1-3 1 4 1-1 1 2 1-6 1 9 1-8 1 5 1-2 1 1 1-6 1 5 1-2 1 4 1-3 1 2 1-4 1 5 1-7 1 12 1-7 1 1 1-1 1 0 1-3 1 4 1-8 1 11 1-6 1 2 1-2 1 4 1-5 1 5 1-6 1 8 1-6 1 1 1 0 1 4 1-7 1 5 1-3 1 2 1-4 1 3 1-5 1 3 1-3 1 3 1-4 1 5 1-5 1-1 1-3 1 7 1-9 1 5 1-5 1 5 1-7 1 1 1 0 1 2 1-4 1 3 1-2 1 3 1-1 1 5 1-5 1 5 1-3 1 5 1 0 1 4 1-2 1 3 1-2 1 1 1-1 1 7 1-5 1 5 1-6 1 6 1-5 1 4 1-9 1 6 1-1 1 6 1-6 1 3 1-3 1 5 1-3 1 2 1-4 1 4 1-3 1 1 1-1 1 5 1-6 1 4 1-1 1 2 1-5 1 4 1-2 1 2 1-3 1 4 1-3 1 0 1 1 1 2 1-6 1 4 1-2 1 3 1-2 1 5 1-4 1 1 1-3 1 2 1-2 1 7 1-9 1 10 1-9 1 7 1-7 1 5 1-3 1 3 1-4 1 4 1-6 1 3 1-2 1 2 1-1 1 4 1-3 1 1 1-4 1 3 1-5 1 6 1-5 1 2 1-4 1 2 1-2 1 0 1-4 1 3 1-6 1 3 1-3 1 1 1-4 1 2 1-4 1 2 1-2 1 0 1-2 1 5 1-6 1 5 1-2 1 3 1-1 1 4 1-2 1 6 1-4 1 6 1-2 1 3 1-2 1 5 1-1 1 4 1-8 1 11 1-3 1 4 1-3 1 4 1-5 1 7 1-10 1 11 1-7 1 4 1-2 1 3 1-5 1 6 1-5 1 9 1-6 1 3 1-5 1 3 1 0 1 2 1-4 1 3 1-1 1 2 1-6 1 6 1-4 1 3 1-4 1 5 1-2 1 7 1-7 1 3 1-6 1 5 1-2 1 4 1-6 1 3 1-5 1 5 1-1 1 4 1-6 1 8 1-8 1 3 1-6 1 7 1-5 1 6 1-5 1 1 1-4 1 4 1-4 1 7 1-5 1 1 1-7 1 7 1-7 1 5 1-4 1 7 1-5 1 3 1-4 1-1 1-3 1 2 1-9 1 3 1-3 1 0 1-5 1 0 1-5 1 0 1-7 1 2 1-1 1 1 1-3 1 5 1 0 1 4 1-1 1 2 1 3 1 3 1-1 1 4 1 1 1 5 1-3 1 6 1-6 1 6 1-1 1 3 1-8 1 7 1-3 1 5 1-3 1 7 1-10 1 9 1-8 1 7 1-3 1 3 1-2 1 0 1-2 1 2 1-4 1 7 1-6 1 4 1-3 1 6 1-9 1 6 1-7 1 7 1-4 1 4 1-7 1 7 1-8 1 8 1-4 1 3 1-5 1 6 1-6 1 8 1-7 1 6 1-4 1 3 1-1 1 3 1-7 1 5 1-4 1 8 1-5 1-1 1 0 1 5 1-6 1 3 1-1 1 0 1-2 1 4 1-2 1 3 1-5 1 4 1-4 1 4 1-3 1 4 1-4 1 5 1-3 1 2 1-4 1 10 1-9 1 1 1-3 1 5 1-4 1 4 1-4 1 7 1-6 1 5 1-4 1 5 1-6 1 6 1-3 1 2 1-4 1 3 1-6 1 5 1-1 1 4 1-5 1 4 1-3 1 5 1-5 1 3 1-2 1 5 1-12 1 8 1-1 1 5 1-8 1 5 1-1 1 3 1-2 1 5 1-9 1 4 1 0 1 1 1-7 1 6 1-3 1 6 1-8 1 10 1-9 1 13 1-11 1 4 1-3 1 4 1-3 1 1 1-5 1 5 1 0 1 0 1 0 1 1 1-2 1 4 1-5 1 4 1-2 1 1 1-3 1 8 1-6 1 4 1-5 1 3 1-5 1 4 1-3 1 3 1-6 1 7 1-5 1 6 1-4 1 3 1 0 1 2 1-4 1 1 1-2 1 3 1-4 1 5 1-5 1 2 1-8 1 7 1-6 1 5 1-2 1 0 1-2 1 0 1-2 1 1 1-5 1 5 1-4 1 6 1-7 1 6 1-1 1 2 1-4 1 5 1-1 1 3 1-4 1 11 1-6 1 4 1-3 1 3 1-4 1 3 1-6 1 7 1-4 1 6 1-3 1 3 1-1 1 5 1-7 1 5 1-5 1 4 1-2 1 3 1-4 1 2 1-4 1 6 1-5 1 5 1-3 1 2 1-2 1 4 1-4 1 2 1-2 1 2 1-2 1 6 1-4 1 4 1-11 1 8 1-2 1 2 1-2 1 4 1-4 1 1 1-2 1 7 1-9 1 7 1-7 1 3 1-1 1 1 1-3 1 1 1-3 1 7 1-9 1 2 1-5 1 1 1-4 1 1 1-8 1 2 1-4 1 0 1-6 1 2 1-4 1 3 1-3 1 4 1-2 1 5 1 0 1 7 1-4 1 9 1-2 1 5 1 1 1 3 1-3 1 5 1-4 1 7 1-2 1 3 1-4 1 4 1-3 1 5 1-2 1 2 1-3 1 2 1-3 1 5 1-3 1 3 1-2 1 5 1-6 1 5 1-4 1 8 1-9 1 8 1-7 1 1 1-2 1 5 1-5 1 5 1-4 1 3 1-2 1 6 1-7 1 3 1-1 1 2 1-5 1 5 1-7 1 11 1-7 1 3 1-2 1 2 1-5 1 5 1-2 1 4 1-7 1 5 1-1 1 2 1-3 1 2 1-4 1 8 1-7 1 5 1-2 1 2 1-5 1 6 1-4 1 1 1-2 1 3 1-1 1 6 1-7 1 3 1-2 1 3 1-5 1 5 1-3 1 2 1-6 1 9 1-6 1 0 1-3 1 7 1-2 1 2 1-7 1 9 1-6 1 2 1-3 1 5 1-3 1 3 1-6 1 5 1-10 1 13 1-6 1 4 1-7 1 9 1-5 1 4 1-6 1 7 1-3 1 2 1-3 1 1 1-1 1 3 1-4 1 3 1-3 1 3 1-3 1 4 1-4 1 8 1-7 1 4 1-6 1 4 1 0 1 5 1-7 1 4 1-3 1 3 1-3 1 1 1-5 1 8 1-4 1 4 1-5 1 1 1-2 1 6 1-4 1 5 1-5 1 7 1-10 1 6 1-4 1 4 1-4 1 3 1-3 1 5 1-3 1 3 1-8 1 6 1-4 1 8 1-11 1 7 1-3 1 3 1-2 1 2 1-5 1 7 1-6 1 7 1-5 1 0 1-1 1 3 1-3 1 6 1-5 1 0 1-1 1 6 1-6 1 2 1-5 1 8 1-4 1 2 1-3 1 4 1-6 1 3 1-2 1 0 1-2 1 4 1-1 1 1 1-4 1 1 1-1 1 1 1-3 1 2 1-3 1 1 1-4 1 3 1-4 1 4 1-6 1 2 1-6 1 6 1-2 1 1 1-5 1 6 1-6 1 4 1-2 1 5 1-3 1 3 1 0 1 2 1-2 1 6 1-4 1 6 1-5 1 5 1-5 1 7 1-2 1 1 1 0 1 1 1 1 1 0 1-4 1 3 1 0 1 1 1-1 1 3 1-1 1 1 1-2 1 4 1-3 1 5 1-7 1 9 1-8 1 2 1-3 1 6 1-4 1 1 1-1 1 3 1-2 1 4 1-5 1 7 1-11 1 9 1-4 1 2 1-3 1 2 1-1 1 1 1-4 1 5 1-5 1 6 1-4 1 6 1-9 1 6 1-9 1 8 1-3 1 9 1-6 1 2 1-3 1 3 1-3 1 3 1-3 1 6 1-7 1 2 1 1 1 1 1-5 1 4 1-1 1 1 1-1 1 5 1-7 1 6 1-5 1 4 1-3 1 3 1-3 1 1 1-2 1 3 1-1 1 3 1-4 1 5 1-3 1 2 1-4 1 3 1-8 1 8 1-4 1 4 1-7 1 9 1-7 1 6 1-2 1 3 1-6 1 7 1-5 1 2 1-5 1 7 1-4 1 0 1 1 1 0 1-6 1 5 1 1 1 3 1-6 1 3 1-1 1 3 1-4 1 7 1-5 1 5 1-10 1 10 1-6 1 3 1-3 1 5 1-5 1 4 1-4 1 3 1-4 1 6 1-3 1 6 1-6 1 2 1-6 1 6 1-2 1 2 1-4 1 6 1-4 1 3 1-4 1 8 1-7 1 3 1-3 1 5 1-7 1 5 1-5 1 6 1-5 1 5 1-5 1 3 1-3 1 4 1-4 1 4 1-1 1 1 1-6 1 5 1-1 1 1 1-4 1 2 1-4 1 6 1-3 1 2 1-3 1 4 1-8 1 10 1-4 1 4 1-4 1 2 1-3 1 6 1-4 1 1 1-1 1 2 1-4 1 4 1-5 1 6 1-2 1 4 1-8 1 11 1-7 1 2 1-9 1 7 1-4 1 5 1-3 1 6 1-8 1 6 1-4 1 4 1-1 1 0 1-7 1 6 1-1 1 6 1-5 1 7 1-8 1 2 1-1 1 5 1-4 1 4 1-7 1 4 1-3 1 7 1-7 1 4 1-5 1 2 1-3 1 6 1-4 1 2 1 0 1 5 1-5 1 1 1-1 1 1 1-1 1 1 1-1 1 4 1-7 1 3 1-3 1 7 1-8 1 11 1-8 1 3 1-1 1 5 1-11 1 8 1-2 1 1 1-6 1 8 1-4 1 7 1-12 1 7 1-9 1 9 1-6 1 11 1-7 1 4 1-6 1 8 1-10 1 9 1-8 1 5 1-3 1 5 1-5 1 6 1-8 1 9 1-6 1 5 1-4 1 2 1-2 1 1 1 0 1 0 1-3 1 5 1-6 1 6 1-5 1 4 1-3 1 3 1-8 1 11 1-7 1 1 1 0 1 4 1-5 1 1 1-5 1 9 1-4 1-2 1-3 1 7 1-4 1 3 1-2 1 3 1-6 1 5 1-5 1 2 1 0 1 4 1-4 1 4 1-7 1 5 1-6 1 8 1-7 1 5 1-5 1 5 1-4 1 4 1-3 1 1 1-7 1 8 1-5 1 5 1-3 1 5 1-6 1 3 1-3 1 2 1-4 1 5 1-4 1 4 1-8 1 6 1-1 1 3 1-6 1 11 1-14 1 8 1-4 1 3 1 0 1 2 1-6 1 3 1-4 1 5 1-3 1 5 1-8 1 5 1-1 1 1 1-2 1 2 1-2 1 4 1-7 1 6 1-6 1 5 1-3 1 1 1 0 1 6 1-8 1 2 1-1 1 2 1-5 1 6 1-7 1 6 1-7 1 9 1-5 1 6 1-5 1 1 1-4 1 6 1-8 1 9 1-6 1 5 1-8 1 13 1-13 1 7 1-5 1 3 1-2 1 7 1-9 1 5 1-3 1 7 1-7 1 4 1-1 1 2 1-7 1 5 1-4 1 5 1-6 1 6 1-6 1 5 1-1 1 1 1-3 1 7 1-6 1 4 1-4 1 6 1-6 1 4 1-6 1 6 1-5 1 7 1-5 1 1 1-6 1 9 1-3 1 0 1-4 1 5 1-3 1 5 1-5 1 3 1-3 1 1 1 0 1 2 1-3 1 5 1-9 1 10 1-7 1 5 1-3 1 2 1-8 1 8 1-4 1 7 1-6 1 2 1-1 1 6 1-5 1 2 1-3 1 2 1-3 1 1 1 0 1 1 1-1 1 0 1-5 1 8 1-5 1 3 1-3 1 4 1-5 1 8 1-12 1 9 1-3 1 3 1-3 1 4 1-8 1 6 1-3 1 3 1-1 1 3 1-6 1 5 1-4 1 3 1-3 1 7 1-7 1 3 1-3 1 7 1-7 1 5 1-5 1 6 1-5 1 4 1-4 1 3 1-4 1 4 1-2 1 0 1-4 1 5 1-2 1 4 1-3 1 1 1-3 1 4 1-8 1 11 1-7 1 4 1-3 1 4 1-2 1-1 1-4 1 8 1-5 1 3 1-3 1 6 1-6 1 5 1-8 1 10 1-10 1 8 1-7 1 7 1-7 1 3 1 0 1 3 1-8 1 9 1-3 1 6 1-8 1 2 1-5 1 4 1-1 1 6 1-6 1 5 1-6 1 4 1-4 1 5 1-4 1 5 1-6 1 3 1-4 1 7 1-8 1 8 1-4 1 3 1-4 1 3 1-3 1 5 1-6 1 3 1-1 1 4 1-5 1 4 1-5 1 6 1-6 1 3 1-4 1 4 1-4 1 4 1-1 1 1 1-7 1 8 1-6 1 5 1-7 1 8 1-5 1 8 1-7 1 4 1-6 1 7 1-8 1 11 1-5 1 2 1-5 1 6 1-11 1 8 1-1 1 5 1-5 1 1 1-3 1 5 1-7 1 7 1-3 1 5 1-8 1 4 1-6 1 8 1-2 1 5 1-10 1 7 1-4 1 3 1-2 1 1 1-2 1 6 1-6 1 4 1-5 1 6 1-11 1 13 1-9 1 3 1 0 1 2 1-2 1 4 1-4 1 3 1-2 1 5 1-7 1 4 1-3 1 2 1-8 1 11 1-7 1 5 1-1 1 0 1-1 1 1 1-1 1 3 1-2 1 1 1-3 1 8 1-8 1 4 1-5 1 2 1-3 1 5 1-5 1 6 1-9 1 7 1-2 1 6 1-6 1 2 1-2 1 2 1-4 1 5 1-3 1 0 1-2 1 6 1-8 1 6 1-3 1 4 1-2 1 0 1-2 1 5 1-8 1 4 1-2 1 3 1-6 1 4 1-3 1 1 1-5 1 5 1-3 1 6 1-10 1 5 1-4 1 2 1-4 1 3 1-3 1 0 1-3 1 2 1-3 1 2 1-5 1 4 1-7 1 6 1-3 1 2 1-2 1 2 1-1 1 3 1-3 1 5 1-2 1 1 1-2 1 4 1-1 1 4 1-1 1 2 1 0 1 1 1-1 1 9 1-7 1 8 1-9 1 4 1-2 1 4 1-4 1 6 1-3 1 1 1-1 1 3 1-2 1 9 1-9 1 4 1-4 1 4 1-5 1 4 1-2 1 3 1-2 1 1 1-1 1 7 1-7 1 2 1-2 1 2 1-3 1 3 1-6 1 9 1-4 1 1 1-4 1 3 1-2 1 11 1-8 1 0 1-3 1 5 1-4 1 3 1-2 1 3 1-4 1 3 1-4 1 1 1 0 1 7 1-8 1 2 1-2 1 4 1-7 1 8 1-4 1 2 1-2 1 6 1-6 1 2 1-5 1 2 1 1 1 1 1-6 1 6 1-1 1 0 1 0 1 3 1-4 1 1 1-2 1 3 1-3 1 4 1-1 1-1 1-1 1 1 1-1 1 1 1-1 1 2 1-6 1 7 1-5 1 3 1 0 1 0 1-3 1 3 1-2 1 6 1-5 1 2 1-3 1 4 1-8 1 6 1-4 1 5 1-5 1 3 1-3 1 3 1-1 1 2 1-2 1 8 1-8 1 3 1-5 1 5 1-3 1 2 1-5 1 7 1-7 1 6 1-5 1 5 1-8 1 10 1-5 1 3 1-3 1 3 1-7 1 7 1-4 1 6 1-5 1 2 1-3 1 5 1-10 1 10 1-4 1 4 1-5 1 3 1-4 1 4 1-5 1 5 1-2 1 2 1-3 1 6 1-7 1 4 1-4 1 4 1-4 1 3 1-7 1 11 1-13 1 9 1-10 1 9 1-1 1 0 1-1 1 2 1-2 1 0 1-1 1 2 1-1 1 2 1 0 1-1 1-3 1 3 1-3 1 8 1-7 1 0 1-1 1 4 1-2 1 2 1-4 1 3 1-3 1 5 1-5 1 4 1-3 1 6 1-8 1 9 1-6 1 1 1 0 1 3 1-5 1 6 1-5 1 6 1-7 1 4 1-4 1 2 1 0 1 1 1-5 1 8 1-5 1 7 1-8 1 6 1-10 1 8 1-3 1 4 1-4 1 6 1-4 1 1 1-3 1 6 1-7 1 5 1-5 1 7 1-10 1 11 1-13 1 12 1-11 1 8 1-7 1 7 1-3 1 3 1-3 1 5 1-7 1 4 1-6 1 7 1-4 1 3 1 0 1 0 1-3 1 3 1-2 1 3 1-5 1 2 1-1 1 2 1-2 1 2 1-3 1 4 1-4 1 4 1-7 1 5 1-3 1 5 1-9 1 8 1-6 1 4 1-4 1 3 1-4 1 3 1-6 1 6 1-4 1 1 1-2 1 2 1-4 1 2 1-6 1 6 1-7 1 3 1-2 1 2 1-6 1 5 1-2 1 0 1-2 1 2 1-3 1 1 1-3 1 4 1-4 1 3 1-3 1 2 1-1 1 1 1 0 1 1 1-1 1 4 1-4 1 8 1-6 1 3 1-3 1 4 1 0 1 3 1-1 1 4 1-4 1 7 1-6 1 6 1-4 1 4 1-2 1 5 1-4 1 7 1-7 1 5 1-2 1 1 1-1 1 2 1-1 1 2 1-1 1 3 1-3 1 4 1-4 1 4 1-3 1 3 1-5 1 6 1-7 1 6 1-1 1 3 1-4 1 8 1-6 1 3 1-9 1 11 1-8 1 6 1-5 1 8 1-8 1 4 1 0 1 2 1-3 1 2 1-2 1 2 1-3 1 5 1-8 1 9 1-13 1 10 1-2 1 1 1 1 1 0 1-1 1 5 1-7 1 5 1-1 1 5 1-8 1 3 1-3 1 8 1-12 1 7 1-4 1 4 1-1 1 1 1-3 1 5 1-4 1 2 1-2 1 1 1-3 1 5 1-5 1 6 1-4 1 3 1-3 1 3 1-6 1 7 1-4 1 2 1-1 1 1 1-2 1 3 1-4 1 4 1-4 1 4 1-6 1 8 1-4 1 2 1-4 1 4 1-4 1 3 1 0 1 1 1-2 1 4 1-2 1 4 1-5 1 0 1-2 1 3 1-1 1 3 1-3 1 2 1-4 1 3 1-2 1 2 1-3 1 5 1-3 1 1 1-1 1 1 1-5 1 6 1-2 1 1 1-5 1 9 1-4 1 4 1-6 1 3 1-3 1 3 1-3 1 2 1-1 1 1 1 0 1 1 1-6 1 4 1-2 1 3 1-1 1 3 1-5 1 4 1-4 1 4 1-6 1 6 1-3 1 3 1-4 1 9 1-9 1 3 1-7 1 7 1-1 1 4 1-6 1 5 1-7 1 5 1 0 1 3 1-3 1 3 1-6 1 6 1-5 1 3 1-5 1 4 1-3 1 2 1 0 1 3 1-4 1 7 1-6 1 2 1-3 1 3 1-4 1 7 1-5 1 1 1-2 1 5 1-4 1 2 1-4 1 8 1-7 1 2 1 1 1 0 1-3 1 3 1-1 1 1 1-2 1 7 1-6 1 2 1-6 1 9 1-8 1 4 1-4 1 5 1-4 1 5 1-4 1 3 1-4 1 4 1-2 1 3 1-4 1 4 1-3 1 5 1-5 1 6 1-7 1 1 1 0 1 1 1-4 1 4 1-1 1 3 1-3 1 5 1-6 1 1 1-1 1 2 1-6 1 9 1-3 1 1 1-2 1 1 1-4 1 5 1 0 1 3 1-6 1 3 1-9 1 10 1-3 1 4 1-4 1 7 1-8 1 9 1-9 1 1 1-1 1 3 1-2 1 5 1-6 1 2 1-6 1 5 1-1 1 1 1 0 1 1 1-1 1 6 1-6 1 3 1-4 1 4 1-3 1 6 1-8 1 8 1-10 1 9 1-7 1 3 1-4 1 6 1-8 1 8 1-2 1 5 1-6 1 3 1-5 1 6 1-8 1 8 1-6 1 6 1-5 1 2 1-6 1 8 1-5 1 6 1-3 1 1 1 0 1 5 1-5 1-1 1-1 1 1 1-1 1 3 1-3 1 3 1-2 1 3 1-3 1 1 1 0 1 1 1-3 1 8 1-8 1 2 1-1 1 1 1-1 1 0 1-1 1 5 1-5 1 9 1-9 1 2 1-4 1 7 1-7 1 5 1-4 1 6 1-6 1 7 1-8 1 8 1-7 1 8 1-6 1 2 1-4 1 6 1-5 1 5 1-4 1 6 1-6 1 0 1 0 1 3 1-5 1 4 1-5 1 7 1-5 1 3 1-2 1 4 1-4 1 2 1-4 1 12 1-9 1 3 1-6 1 4 1-6 1 6 1-3 1 4 1-6 1 9 1-5 1 1 1 0 1 3 1-6 1 6 1-3 1 1 1-3 1 3 1-2 1 7 1-13 1 9 1-3 1 3 1-5 1 8 1-6 1 1 1-2 1 3 1-3 1 3 1-2 1 1 1 0 1 4 1-8 1 5 1-3 1 2 1-4 1 6 1-4 1 3 1-3 1 8 1-10 1 8 1-6 1 7 1-7 1 6 1-7 1 3 1-4 1 6 1-3 1 1 1 0 1 2 1-6 1 9 1-11 1 6 1-2 1 6 1-4 1 1 1-7 1 8 1-5 1 6 1-3 1-1 1 0 1 3 1-5 1 5 1-8 1 6 1 1 1 3 1-8 1 4 1 0 1 9 1-12 1 2 1 0 1 8 1-7 1 3 1-3 1 2 1-5 1 5 1-9 1 13 1-12 1 8 1-4 1 5 1-8 1 9 1-7 1 8 1-7 1 3 1-6 1 9 1-5 1 3 1-8 1 9 1-7 1 7 1-5 1 4 1-4 1 3 1-1 1 4 1-11 1 10 1-8 1 6 1-4 1 5 1-6 1 7 1-4 1 2 1-1 1 1 1-3 1 7 1-8 1 6 1-4 1 2 1-3 1 8 1-6 1 4 1-7 1 14 1-11 1 3 1-4 1 2 1-1 1 3 1-4 1 4 1-3 1 1 1-2 1 3 1-2 1 5 1-11 1 7 1-1 1 4 1-4 1 1 1-4 1 3 1-2 1 4 1-3 1 5 1-4 1 1 1-1 1 4 1-3 1 1 1-4 1 7 1-9 1 6 1-3 1 3 1-1 1 3 1-4 1 4 1-8 1 8 1-7 1 6 1-3 1 3 1-4 1 1 1-1 1 6 1-4 1 3 1-3 1 2 1-2 1 0 1-1 1 5 1-2 1-1 1-2 1 2 1-3 1 4 1-3 1 3 1-3 1 3 1-4 1 6 1-3 1 5 1-10 1 7 1-6 1 3 1-1 1 7 1-8 1 6 1-5 1 6 1-5 1 2 1-5 1 5 1-4 1 4 1-3 1 6 1-5 1 1 1-4 1 6 1-2 1 3 1-5 1 3 1-2 1 5 1-4 1 2 1-2 1 3 1-8 1 7 1-3 1 4 1-4 1 6 1-7 1 5 1-7 1 7 1-4 1 3 1 0 1 3 1-5 1 6 1-6 1 3 1-4 1 4 1-8 1 9 1-7 1 7 1-5 1 2 1-4 1 4 1-1 1 3 1-6 1 10 1-8 1 2 1-7 1 8 1-9 1 11 1-10 1 10 1-5 1 2 1-1 1 3 1-4 1 6 1-9 1 5 1-1 1 6 1-5 1 4 1-8 1 4 1-4 1 5 1-4 1 6 1-5 1 5 1-5 1 4 1-5 1 6 1-6 1 3 1 0 1 1 1-2 1 5 1-5 1 2 1-3 1 6 1-5 1 4 1-6 1 3 1-2 1 7 1-6 1 8 1-8 1 2 1-1 1 5 1-7 1 4 1-1 1 5 1-6 1 5 1-8 1 8 1-4 1 2 1-2 1 3 1-3 1 5 1-6 1 4 1-4 1 5 1-6 1 4 1-5 1 4 1-2 1 4 1-9 1 7 1-1 1 0 1 0 1 2 1-7 1 7 1-2 1 4 1-4 1 4 1-5 1 5 1-10 1 10 1-6 1 3 1-2 1 4 1-2 1 0 1 1 1 0 1-7 1 8 1-7 1 10 1-9 1 4 1-2 1 5 1-4 1 4 1-5 1 5 1-5 1 4 1-4 1 3 1-2 1 7 1-8 1 5 1-2 1 2 1-6 1 5 1-6 1 8 1-3 1-1 1 0 1 4 1-8 1 7 1-5 1 2 1-3 1 7 1-12 1 11 1-6 1 6 1-4 1 2 1-2 1 4 1-3 1 2 1-3 1 1 1-1 1 4 1-6 1 5 1-2 1 0 1-1 1 3 1-5 1 6 1-5 1 3 1-2 1 4 1-2 1 0 1-1 1 6 1-7 1 4 1-2 1 0 1-5 1 6 1-4 1 6 1-3 1 1 1-5 1 6 1-5 1 4 1-5 1 4 1-3 1 9 1-12 1 8 1-3 1 6 1-5 1 1 1-8 1 14 1-11 1 5 1-3 1 4 1-3 1 8 1-10 1 7 1-4 1 2 1-5 1 6 1-8 1 6 1-4 1 7 1-7 1 5 1-6 1 5 1-3 1 3 1-3 1 4 1-5 1 3 1 0 1 1 1-2 1 8 1-7 1 0 1-1 1 4 1-8 1 10 1-7 1 4 1-4 1 4 1-4 1 2 1 0 1 2 1-5 1 6 1-3 1 4 1-5 1 4 1-6 1 7 1-7 1 5 1-3 1 4 1-5 1 5 1-6 1 7 1-8 1 7 1-2 1 0 1-5 1 8 1-5 1 3 1-6 1 8 1-3 1 3 1-3 1 2 1-4 1 4 1-6 1 7 1-3 1 1 1-2 1 8 1-8 1 2 1-5 1 11 1-11 1 10 1-6 1 1 1-1 1 3 1-3 1 4 1-10 1 6 1-4 1 8 1-5 1 3 1-9 1 9 1-3 1 3 1-3 1 3 1-3 1 3 1-7 1 8 1-7 1 7 1-3 1 8 1-9 1 6 1-7 1 7 1-5 1 3 1-6 1 9 1-7 1 5 1-7 1 6 1-4 1 5 1-2 1-1 1-2 1 5 1-4 1 4 1-4 1 3 1-5 1 5 1-4 1 2 1-4 1 5 1-2 1 2 1-3 1 3 1-3 1 7 1-6 1 1 1-2 1 8 1-9 1 4 1-1 1 1 1-2 1 1 1-2 1 3 1 0 1 2 1-4 1 5 1-6 1 7 1-4 1 3 1-4 1 6 1-9 1 6 1-3 1 3 1-4 1 2 1-2 1 3 1-2 1 4 1-4 1 4 1-4 1 4 1-5 1 2 1 1 1 0 1-4 1 6 1-5 1 3 1-2 1 2 1-2 1 7 1-6 1 4 1-4 1 3 1-3 1 1 1-1 1 3 1-3 1 4 1-5 1 6 1-10 1 6 1-2 1 5 1-3 1 1 1-4 1 4 1-2 1 2 1-7 1 10 1-7 1 7 1-10 1 9 1-4 1 4 1-3 1 0 1-4 1 7 1-3 1 2 1-8 1 11 1-10 1 7 1-2 1 6 1-7 1 4 1-4 1 2 1-7 1 10 1-4 1 2 1-2 1 3 1-7 1 7 1-6 1 4 1 1 1-2 1-1 1 3 1-9 1 10" stroke="#00CCCC" stroke-width="3.6"/>
</g>
<!-- text -->
<g font-size="62.5" text-anchor="middle">
<text x="249.5" y="1539.5">10</text>
<text x="479.9" y="1539.5">20</text>
<text x="710.2" y="1539.5">30</text>
<text x="940.6" y="1539.5">40</text>
<text x="1170.9" y="1539.5">50</text>
<text x="1401.3" y="1539.5">60</text>
<text x="1631.7" y="1539.5">70</text>
<text x="1862.0" y="1539.5">80</text>
<text x="2092.4" y="1539.5">90</text>
</g>
<text x="964" y="1633" font-size="76">2θ/degree</text>
<text id="yt1" transform="translate(75.5,959.9) rotate(-90)" font-size="77" textLength="280.8" lengthAdjust="spacingAndGlyphs">Intensity/</text>
<text id="yt2" class="cjk" transform="translate(74.0,679.0) rotate(-90)" font-size="66">（</text>
<text id="yt3" transform="translate(75.5,603.7) rotate(-90)" font-size="77" textLength="106.7" lengthAdjust="spacingAndGlyphs">a.u.</text>
<text id="yt4" class="cjk" transform="translate(85.8,500.0) rotate(-90)" font-size="73">）</text>
<g font-size="76" clip-path="url(#plot)">
<text id="lab1000" x="1487.8" y="122.1" textLength="608.2" lengthAdjust="spacingAndGlyphs">1000 °C calcined 4h</text>
<text id="lab900" x="1519.9" y="203.6" textLength="573.3" lengthAdjust="spacingAndGlyphs">900 °C calcined 4h</text>
<text id="lab800" x="1519.9" y="283.8" textLength="573.4" lengthAdjust="spacingAndGlyphs">800 °C calcined 4h</text>
<text id="lab700" x="1520.8" y="402.6" textLength="574.8" lengthAdjust="spacingAndGlyphs">700 °C calcined 4h</text>
<text id="lab600" x="1521.9" y="523" textLength="573.2" lengthAdjust="spacingAndGlyphs">600 °C calcined 4h</text>
<text id="lab500" x="1516.9" y="766.6" textLength="572.8" lengthAdjust="spacingAndGlyphs">500 °C calcined 4h</text>
<text id="labunc" x="1543.4" y="1422.7" textLength="550.1" lengthAdjust="spacingAndGlyphs">Uncalcined kaolin</text>
</g>
<g font-size="77" text-anchor="middle">
<text x="305.5" y="844">a</text>
<text x="359.3" y="1284">b</text>
<text x="489" y="1330">c</text>
<text x="594.4" y="1001">a</text>
<text x="905" y="1344">c</text>
<text x="1069" y="1410.5">c</text>
<text x="1458.9" y="1404.6">c</text>
<text x="399.7" y="117">d</text>
<text x="627.9" y="108">d</text>
<text x="831.7" y="113">d</text>
<text x="964.2" y="118">d</text>
</g>
<g font-size="55" clip-path="url(#plot)">
<text id="lega" x="1389.0" y="885" textLength="682.4" lengthAdjust="spacingAndGlyphs">a: Kaolinite (Al<tspan font-size="34" dy="13.5">4</tspan><tspan dy="-13.5">(OH)</tspan><tspan font-size="34" dy="13.5">8</tspan><tspan dy="-13.5">(Si</tspan><tspan font-size="34" dy="13.5">4</tspan><tspan dy="-13.5">O</tspan><tspan font-size="34" dy="13.5">10</tspan><tspan dy="-13.5">))</tspan></text>
<text id="legb" x="1392.2" y="965" textLength="483.3" lengthAdjust="spacingAndGlyphs">b: Boehmite (AlOOH)</text>
<text id="legc" x="1390.2" y="1031" textLength="706.0" lengthAdjust="spacingAndGlyphs">c: Kaolinite 1A (Al<tspan font-size="34" dy="13.5">2</tspan><tspan dy="-13.5">Si</tspan><tspan font-size="34" dy="13.5">2</tspan><tspan dy="-13.5">O</tspan><tspan font-size="34" dy="13.5">5</tspan><tspan dy="-13.5">(OH)</tspan><tspan font-size="34" dy="13.5">4</tspan><tspan dy="-13.5">)</tspan></text>
<text id="legd" x="1390.2" y="1110" textLength="646.6" lengthAdjust="spacingAndGlyphs">d: Mullite (Al<tspan font-size="34" dy="13.5">2</tspan><tspan dy="-13.5">(Al</tspan><tspan font-size="34" dy="13.5">2.8</tspan><tspan dy="-13.5">Si</tspan><tspan font-size="34" dy="13.5">1.2</tspan><tspan dy="-13.5">)O</tspan><tspan font-size="34" dy="13.5">9.6</tspan><tspan dy="-13.5">)</tspan></text>
</g>
</svg>
</body></html>
